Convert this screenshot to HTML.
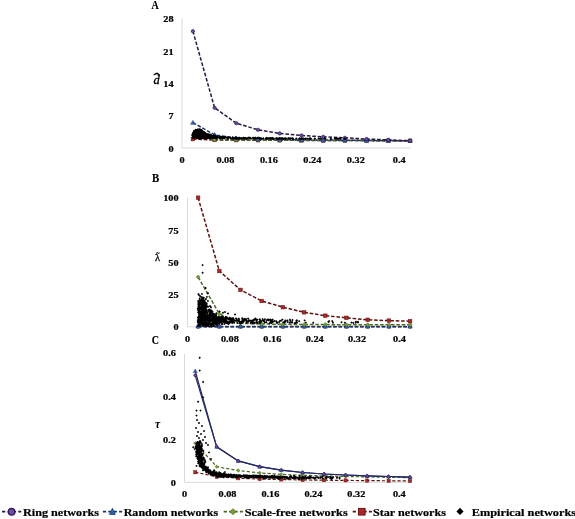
<!DOCTYPE html>
<html><head><meta charset="utf-8"><title>Network measures</title>
<style>html,body{margin:0;padding:0;background:#fff;overflow:hidden}svg{display:block}</style>
</head><body>
<svg width="575" height="519" viewBox="0 0 575 519" font-family="'Liberation Serif', serif"><rect width="575" height="519" fill="#fff"/><line x1="182.0" y1="18.5" x2="182.0" y2="148.0" stroke="#d9d9d9" stroke-width="1"/><line x1="182.0" y1="148.0" x2="410.5" y2="148.0" stroke="#d9d9d9" stroke-width="1"/><g transform="translate(173.6,151.6) scale(1.07,0.9)"><text x="0" y="0" font-size="9.6" font-weight="bold" font-style="normal" text-anchor="end" fill="#000" stroke="#000" stroke-width="0.25">0</text></g><g transform="translate(173.6,119.2) scale(1.07,0.9)"><text x="0" y="0" font-size="9.6" font-weight="bold" font-style="normal" text-anchor="end" fill="#000" stroke="#000" stroke-width="0.25">7</text></g><g transform="translate(173.6,86.8) scale(1.07,0.9)"><text x="0" y="0" font-size="9.6" font-weight="bold" font-style="normal" text-anchor="end" fill="#000" stroke="#000" stroke-width="0.25">14</text></g><g transform="translate(173.6,54.5) scale(1.07,0.9)"><text x="0" y="0" font-size="9.6" font-weight="bold" font-style="normal" text-anchor="end" fill="#000" stroke="#000" stroke-width="0.25">21</text></g><g transform="translate(173.6,22.1) scale(1.07,0.9)"><text x="0" y="0" font-size="9.6" font-weight="bold" font-style="normal" text-anchor="end" fill="#000" stroke="#000" stroke-width="0.25">28</text></g><g transform="translate(182.0,162.8) scale(1.07,0.9)"><text x="0" y="0" font-size="9.6" font-weight="bold" font-style="normal" text-anchor="middle" fill="#000" stroke="#000" stroke-width="0.25">0</text></g><g transform="translate(225.4,162.8) scale(1.07,0.9)"><text x="0" y="0" font-size="9.6" font-weight="bold" font-style="normal" text-anchor="middle" fill="#000" stroke="#000" stroke-width="0.25">0.08</text></g><g transform="translate(268.9,162.8) scale(1.07,0.9)"><text x="0" y="0" font-size="9.6" font-weight="bold" font-style="normal" text-anchor="middle" fill="#000" stroke="#000" stroke-width="0.25">0.16</text></g><g transform="translate(312.3,162.8) scale(1.07,0.9)"><text x="0" y="0" font-size="9.6" font-weight="bold" font-style="normal" text-anchor="middle" fill="#000" stroke="#000" stroke-width="0.25">0.24</text></g><g transform="translate(355.8,162.8) scale(1.07,0.9)"><text x="0" y="0" font-size="9.6" font-weight="bold" font-style="normal" text-anchor="middle" fill="#000" stroke="#000" stroke-width="0.25">0.32</text></g><g transform="translate(399.2,162.8) scale(1.07,0.9)"><text x="0" y="0" font-size="9.6" font-weight="bold" font-style="normal" text-anchor="middle" fill="#000" stroke="#000" stroke-width="0.25">0.4</text></g><text x="151.4" y="9.0" font-size="11.8" font-weight="bold" font-style="normal" text-anchor="start" fill="#000" stroke="#000" stroke-width="0.15" textLength="7.2" lengthAdjust="spacingAndGlyphs">A</text><line x1="187.5" y1="197.7" x2="187.5" y2="326.8" stroke="#d9d9d9" stroke-width="1"/><line x1="187.5" y1="326.8" x2="410.5" y2="326.8" stroke="#d9d9d9" stroke-width="1"/><g transform="translate(178.6,330.4) scale(1.07,0.9)"><text x="0" y="0" font-size="9.6" font-weight="bold" font-style="normal" text-anchor="end" fill="#000" stroke="#000" stroke-width="0.25">0</text></g><g transform="translate(178.6,298.1) scale(1.07,0.9)"><text x="0" y="0" font-size="9.6" font-weight="bold" font-style="normal" text-anchor="end" fill="#000" stroke="#000" stroke-width="0.25">25</text></g><g transform="translate(178.6,265.9) scale(1.07,0.9)"><text x="0" y="0" font-size="9.6" font-weight="bold" font-style="normal" text-anchor="end" fill="#000" stroke="#000" stroke-width="0.25">50</text></g><g transform="translate(178.6,233.6) scale(1.07,0.9)"><text x="0" y="0" font-size="9.6" font-weight="bold" font-style="normal" text-anchor="end" fill="#000" stroke="#000" stroke-width="0.25">75</text></g><g transform="translate(178.6,201.3) scale(1.07,0.9)"><text x="0" y="0" font-size="9.6" font-weight="bold" font-style="normal" text-anchor="end" fill="#000" stroke="#000" stroke-width="0.25">100</text></g><g transform="translate(187.5,341.5) scale(1.07,0.9)"><text x="0" y="0" font-size="9.6" font-weight="bold" font-style="normal" text-anchor="middle" fill="#000" stroke="#000" stroke-width="0.25">0</text></g><g transform="translate(229.9,341.5) scale(1.07,0.9)"><text x="0" y="0" font-size="9.6" font-weight="bold" font-style="normal" text-anchor="middle" fill="#000" stroke="#000" stroke-width="0.25">0.08</text></g><g transform="translate(272.3,341.5) scale(1.07,0.9)"><text x="0" y="0" font-size="9.6" font-weight="bold" font-style="normal" text-anchor="middle" fill="#000" stroke="#000" stroke-width="0.25">0.16</text></g><g transform="translate(314.7,341.5) scale(1.07,0.9)"><text x="0" y="0" font-size="9.6" font-weight="bold" font-style="normal" text-anchor="middle" fill="#000" stroke="#000" stroke-width="0.25">0.24</text></g><g transform="translate(357.1,341.5) scale(1.07,0.9)"><text x="0" y="0" font-size="9.6" font-weight="bold" font-style="normal" text-anchor="middle" fill="#000" stroke="#000" stroke-width="0.25">0.32</text></g><g transform="translate(399.5,341.5) scale(1.07,0.9)"><text x="0" y="0" font-size="9.6" font-weight="bold" font-style="normal" text-anchor="middle" fill="#000" stroke="#000" stroke-width="0.25">0.4</text></g><text x="152.1" y="181.9" font-size="11.8" font-weight="bold" font-style="normal" text-anchor="start" fill="#000" stroke="#000" stroke-width="0.15" textLength="7.2" lengthAdjust="spacingAndGlyphs">B</text><line x1="184.5" y1="353.9" x2="184.5" y2="482.3" stroke="#d9d9d9" stroke-width="1"/><line x1="184.5" y1="482.3" x2="410.5" y2="482.3" stroke="#d9d9d9" stroke-width="1"/><g transform="translate(175.9,485.9) scale(1.07,0.9)"><text x="0" y="0" font-size="9.6" font-weight="bold" font-style="normal" text-anchor="end" fill="#000" stroke="#000" stroke-width="0.25">0</text></g><g transform="translate(175.9,443.1) scale(1.07,0.9)"><text x="0" y="0" font-size="9.6" font-weight="bold" font-style="normal" text-anchor="end" fill="#000" stroke="#000" stroke-width="0.25">0.2</text></g><g transform="translate(175.9,400.3) scale(1.07,0.9)"><text x="0" y="0" font-size="9.6" font-weight="bold" font-style="normal" text-anchor="end" fill="#000" stroke="#000" stroke-width="0.25">0.4</text></g><g transform="translate(175.9,356.3) scale(1.07,0.9)"><text x="0" y="0" font-size="9.6" font-weight="bold" font-style="normal" text-anchor="end" fill="#000" stroke="#000" stroke-width="0.25">0.6</text></g><g transform="translate(184.5,497.3) scale(1.07,0.9)"><text x="0" y="0" font-size="9.6" font-weight="bold" font-style="normal" text-anchor="middle" fill="#000" stroke="#000" stroke-width="0.25">0</text></g><g transform="translate(227.5,497.3) scale(1.07,0.9)"><text x="0" y="0" font-size="9.6" font-weight="bold" font-style="normal" text-anchor="middle" fill="#000" stroke="#000" stroke-width="0.25">0.08</text></g><g transform="translate(270.4,497.3) scale(1.07,0.9)"><text x="0" y="0" font-size="9.6" font-weight="bold" font-style="normal" text-anchor="middle" fill="#000" stroke="#000" stroke-width="0.25">0.16</text></g><g transform="translate(313.4,497.3) scale(1.07,0.9)"><text x="0" y="0" font-size="9.6" font-weight="bold" font-style="normal" text-anchor="middle" fill="#000" stroke="#000" stroke-width="0.25">0.24</text></g><g transform="translate(356.3,497.3) scale(1.07,0.9)"><text x="0" y="0" font-size="9.6" font-weight="bold" font-style="normal" text-anchor="middle" fill="#000" stroke="#000" stroke-width="0.25">0.32</text></g><g transform="translate(399.3,497.3) scale(1.07,0.9)"><text x="0" y="0" font-size="9.6" font-weight="bold" font-style="normal" text-anchor="middle" fill="#000" stroke="#000" stroke-width="0.25">0.4</text></g><text x="151.7" y="344.2" font-size="11.8" font-weight="bold" font-style="normal" text-anchor="start" fill="#000" stroke="#000" stroke-width="0.15" textLength="7.2" lengthAdjust="spacingAndGlyphs">C</text><text x="153.6" y="83.6" font-size="12.5" font-weight="normal" font-style="italic" text-anchor="start" fill="#000" stroke="#000" stroke-width="0.35">d</text><g transform="translate(156.8,81.6) scale(1.6,1)"><text x="0" y="0" font-size="12" font-weight="bold" font-style="normal" text-anchor="middle" fill="#000" stroke="#000" stroke-width="0.25">&#710;</text></g><text x="155.0" y="260.6" font-size="10.5" font-weight="normal" font-style="normal" text-anchor="start" fill="#000" stroke="#000" stroke-width="0.3">&#955;</text><text x="157.9" y="260.4" font-size="10" font-weight="bold" font-style="normal" text-anchor="middle" fill="#000">&#732;</text><text x="155.0" y="428.0" font-size="11.5" font-weight="bold" font-style="italic" text-anchor="start" fill="#000">&#964;</text><polyline points="192.9,139.1 214.6,140.0 236.3,140.1 258.0,140.2 279.7,140.3 301.5,140.4 323.2,140.5 344.9,140.6 366.6,140.6 388.3,140.7 410.1,140.8" fill="none" stroke="#601010" stroke-width="1.5" stroke-dasharray="3.6 1.8"/><rect x="191.1" y="137.3" width="3.6" height="3.6" fill="#a62828" stroke="#6a1212" stroke-width="0.50"/><rect x="212.8" y="138.2" width="3.6" height="3.6" fill="#a62828" stroke="#6a1212" stroke-width="0.50"/><rect x="234.5" y="138.3" width="3.6" height="3.6" fill="#a62828" stroke="#6a1212" stroke-width="0.50"/><rect x="256.2" y="138.4" width="3.6" height="3.6" fill="#a62828" stroke="#6a1212" stroke-width="0.50"/><rect x="277.9" y="138.5" width="3.6" height="3.6" fill="#a62828" stroke="#6a1212" stroke-width="0.50"/><rect x="299.7" y="138.6" width="3.6" height="3.6" fill="#a62828" stroke="#6a1212" stroke-width="0.50"/><rect x="321.4" y="138.7" width="3.6" height="3.6" fill="#a62828" stroke="#6a1212" stroke-width="0.50"/><rect x="343.1" y="138.8" width="3.6" height="3.6" fill="#a62828" stroke="#6a1212" stroke-width="0.50"/><rect x="364.8" y="138.8" width="3.6" height="3.6" fill="#a62828" stroke="#6a1212" stroke-width="0.50"/><rect x="386.5" y="138.9" width="3.6" height="3.6" fill="#a62828" stroke="#6a1212" stroke-width="0.50"/><rect x="408.3" y="139.0" width="3.6" height="3.6" fill="#a62828" stroke="#6a1212" stroke-width="0.50"/><polyline points="192.9,135.1 214.6,139.7 236.3,140.0 258.0,140.1 279.7,140.2 301.5,140.3 323.2,140.4 344.9,140.5 366.6,140.6 388.3,140.7 410.1,140.8" fill="none" stroke="#4b6820" stroke-width="1.5" stroke-dasharray="3.6 1.8"/><path d="M192.9 133.1L194.9 135.1L192.9 137.1L190.9 135.1Z" fill="#74a035" stroke="#4b6820" stroke-width="0.50"/><path d="M214.6 137.7L216.6 139.7L214.6 141.7L212.6 139.7Z" fill="#74a035" stroke="#4b6820" stroke-width="0.50"/><path d="M236.3 138.0L238.3 140.0L236.3 142.0L234.3 140.0Z" fill="#74a035" stroke="#4b6820" stroke-width="0.50"/><path d="M258.0 138.1L260.0 140.1L258.0 142.1L256.0 140.1Z" fill="#74a035" stroke="#4b6820" stroke-width="0.50"/><path d="M279.7 138.2L281.7 140.2L279.7 142.2L277.7 140.2Z" fill="#74a035" stroke="#4b6820" stroke-width="0.50"/><path d="M301.5 138.3L303.5 140.3L301.5 142.3L299.5 140.3Z" fill="#74a035" stroke="#4b6820" stroke-width="0.50"/><path d="M323.2 138.4L325.2 140.4L323.2 142.4L321.2 140.4Z" fill="#74a035" stroke="#4b6820" stroke-width="0.50"/><path d="M344.9 138.5L346.9 140.5L344.9 142.5L342.9 140.5Z" fill="#74a035" stroke="#4b6820" stroke-width="0.50"/><path d="M366.6 138.6L368.6 140.6L366.6 142.6L364.6 140.6Z" fill="#74a035" stroke="#4b6820" stroke-width="0.50"/><path d="M388.3 138.7L390.3 140.7L388.3 142.7L386.3 140.7Z" fill="#74a035" stroke="#4b6820" stroke-width="0.50"/><path d="M410.1 138.8L412.1 140.8L410.1 142.8L408.1 140.8Z" fill="#74a035" stroke="#4b6820" stroke-width="0.50"/><polyline points="192.9,122.6 214.6,134.8 236.3,138.1 258.0,139.0 279.7,139.4 301.5,139.8 323.2,140.0 344.9,140.2 366.6,140.5 388.3,140.6 410.1,140.7" fill="none" stroke="#1c3567" stroke-width="1.5" stroke-dasharray="3.6 1.8"/><path d="M192.9 120.4L195.2 124.3L190.6 124.3Z" fill="#2f62b0" stroke="#1c3567" stroke-width="0.50"/><path d="M214.6 132.6L216.9 136.5L212.3 136.5Z" fill="#2f62b0" stroke="#1c3567" stroke-width="0.50"/><path d="M236.3 135.9L238.6 139.8L234.0 139.8Z" fill="#2f62b0" stroke="#1c3567" stroke-width="0.50"/><path d="M258.0 136.8L260.3 140.7L255.7 140.7Z" fill="#2f62b0" stroke="#1c3567" stroke-width="0.50"/><path d="M279.7 137.2L282.1 141.2L277.4 141.2Z" fill="#2f62b0" stroke="#1c3567" stroke-width="0.50"/><path d="M301.5 137.6L303.8 141.5L299.1 141.5Z" fill="#2f62b0" stroke="#1c3567" stroke-width="0.50"/><path d="M323.2 137.8L325.5 141.8L320.9 141.8Z" fill="#2f62b0" stroke="#1c3567" stroke-width="0.50"/><path d="M344.9 138.0L347.2 141.9L342.6 141.9Z" fill="#2f62b0" stroke="#1c3567" stroke-width="0.50"/><path d="M366.6 138.3L368.9 142.2L364.3 142.2Z" fill="#2f62b0" stroke="#1c3567" stroke-width="0.50"/><path d="M388.3 138.4L390.7 142.3L386.0 142.3Z" fill="#2f62b0" stroke="#1c3567" stroke-width="0.50"/><path d="M410.1 138.5L412.4 142.5L407.8 142.5Z" fill="#2f62b0" stroke="#1c3567" stroke-width="0.50"/><polyline points="192.9,31.2 214.6,107.8 236.3,123.2 258.0,129.8 279.7,133.4 301.5,135.5 323.2,136.8 344.9,137.8 366.6,139.0 388.3,139.9 410.1,140.7" fill="none" stroke="#26173f" stroke-width="1.5" stroke-dasharray="3.6 1.8"/><circle cx="192.9" cy="31.2" r="1.65" fill="#6a4ca8" stroke="#2a1850" stroke-width="0.70"/><circle cx="214.6" cy="107.8" r="1.65" fill="#6a4ca8" stroke="#2a1850" stroke-width="0.70"/><circle cx="236.3" cy="123.2" r="1.65" fill="#6a4ca8" stroke="#2a1850" stroke-width="0.70"/><circle cx="258.0" cy="129.8" r="1.65" fill="#6a4ca8" stroke="#2a1850" stroke-width="0.70"/><circle cx="279.7" cy="133.4" r="1.65" fill="#6a4ca8" stroke="#2a1850" stroke-width="0.70"/><circle cx="301.5" cy="135.5" r="1.65" fill="#6a4ca8" stroke="#2a1850" stroke-width="0.70"/><circle cx="323.2" cy="136.8" r="1.65" fill="#6a4ca8" stroke="#2a1850" stroke-width="0.70"/><circle cx="344.9" cy="137.8" r="1.65" fill="#6a4ca8" stroke="#2a1850" stroke-width="0.70"/><circle cx="366.6" cy="139.0" r="1.65" fill="#6a4ca8" stroke="#2a1850" stroke-width="0.70"/><circle cx="388.3" cy="139.9" r="1.65" fill="#6a4ca8" stroke="#2a1850" stroke-width="0.70"/><circle cx="410.1" cy="140.7" r="1.65" fill="#6a4ca8" stroke="#2a1850" stroke-width="0.70"/><path d="M219.5 135.8l1.3 1.3l-1.3 1.3l-1.3 -1.3zM198.4 128.7l1.3 1.3l-1.3 1.3l-1.3 -1.3zM202.0 129.5l1.3 1.3l-1.3 1.3l-1.3 -1.3zM212.5 135.0l1.3 1.3l-1.3 1.3l-1.3 -1.3zM199.1 129.9l1.3 1.3l-1.3 1.3l-1.3 -1.3zM197.9 132.0l1.3 1.3l-1.3 1.3l-1.3 -1.3zM193.7 133.5l1.3 1.3l-1.3 1.3l-1.3 -1.3zM310.2 137.4l1.3 1.3l-1.3 1.3l-1.3 -1.3zM193.7 133.6l1.3 1.3l-1.3 1.3l-1.3 -1.3zM209.1 133.6l1.3 1.3l-1.3 1.3l-1.3 -1.3zM197.4 135.1l1.3 1.3l-1.3 1.3l-1.3 -1.3zM195.4 135.1l1.3 1.3l-1.3 1.3l-1.3 -1.3zM249.6 136.5l1.3 1.3l-1.3 1.3l-1.3 -1.3zM193.3 135.6l1.3 1.3l-1.3 1.3l-1.3 -1.3zM210.4 136.9l1.3 1.3l-1.3 1.3l-1.3 -1.3zM204.9 133.6l1.3 1.3l-1.3 1.3l-1.3 -1.3zM238.2 137.2l1.3 1.3l-1.3 1.3l-1.3 -1.3zM195.4 129.9l1.3 1.3l-1.3 1.3l-1.3 -1.3zM198.8 135.2l1.3 1.3l-1.3 1.3l-1.3 -1.3zM243.7 136.5l1.3 1.3l-1.3 1.3l-1.3 -1.3zM345.0 137.5l1.3 1.3l-1.3 1.3l-1.3 -1.3zM196.3 134.3l1.3 1.3l-1.3 1.3l-1.3 -1.3zM215.3 136.5l1.3 1.3l-1.3 1.3l-1.3 -1.3zM248.5 136.5l1.3 1.3l-1.3 1.3l-1.3 -1.3zM194.2 134.4l1.3 1.3l-1.3 1.3l-1.3 -1.3zM197.4 133.3l1.3 1.3l-1.3 1.3l-1.3 -1.3zM279.9 137.0l1.3 1.3l-1.3 1.3l-1.3 -1.3zM203.8 131.9l1.3 1.3l-1.3 1.3l-1.3 -1.3zM200.8 135.8l1.3 1.3l-1.3 1.3l-1.3 -1.3zM201.4 130.7l1.3 1.3l-1.3 1.3l-1.3 -1.3zM270.5 137.3l1.3 1.3l-1.3 1.3l-1.3 -1.3zM197.9 133.7l1.3 1.3l-1.3 1.3l-1.3 -1.3zM340.0 137.3l1.3 1.3l-1.3 1.3l-1.3 -1.3zM300.6 137.4l1.3 1.3l-1.3 1.3l-1.3 -1.3zM195.3 135.8l1.3 1.3l-1.3 1.3l-1.3 -1.3zM197.5 131.2l1.3 1.3l-1.3 1.3l-1.3 -1.3zM203.6 134.9l1.3 1.3l-1.3 1.3l-1.3 -1.3zM239.4 137.2l1.3 1.3l-1.3 1.3l-1.3 -1.3zM203.9 130.7l1.3 1.3l-1.3 1.3l-1.3 -1.3zM202.5 130.9l1.3 1.3l-1.3 1.3l-1.3 -1.3zM198.3 136.5l1.3 1.3l-1.3 1.3l-1.3 -1.3zM194.5 131.1l1.3 1.3l-1.3 1.3l-1.3 -1.3zM345.0 137.5l1.3 1.3l-1.3 1.3l-1.3 -1.3zM255.5 137.0l1.3 1.3l-1.3 1.3l-1.3 -1.3zM305.7 137.2l1.3 1.3l-1.3 1.3l-1.3 -1.3zM278.4 137.2l1.3 1.3l-1.3 1.3l-1.3 -1.3zM195.4 133.3l1.3 1.3l-1.3 1.3l-1.3 -1.3zM202.5 135.1l1.3 1.3l-1.3 1.3l-1.3 -1.3zM198.0 136.6l1.3 1.3l-1.3 1.3l-1.3 -1.3zM208.1 133.8l1.3 1.3l-1.3 1.3l-1.3 -1.3zM200.9 134.5l1.3 1.3l-1.3 1.3l-1.3 -1.3zM196.5 133.5l1.3 1.3l-1.3 1.3l-1.3 -1.3zM320.6 137.2l1.3 1.3l-1.3 1.3l-1.3 -1.3zM205.4 134.6l1.3 1.3l-1.3 1.3l-1.3 -1.3zM196.3 129.9l1.3 1.3l-1.3 1.3l-1.3 -1.3zM195.3 129.6l1.3 1.3l-1.3 1.3l-1.3 -1.3zM208.9 135.6l1.3 1.3l-1.3 1.3l-1.3 -1.3zM217.0 136.0l1.3 1.3l-1.3 1.3l-1.3 -1.3zM193.8 132.5l1.3 1.3l-1.3 1.3l-1.3 -1.3zM200.5 135.8l1.3 1.3l-1.3 1.3l-1.3 -1.3zM201.0 136.4l1.3 1.3l-1.3 1.3l-1.3 -1.3zM204.5 131.0l1.3 1.3l-1.3 1.3l-1.3 -1.3zM214.0 136.5l1.3 1.3l-1.3 1.3l-1.3 -1.3zM196.7 134.6l1.3 1.3l-1.3 1.3l-1.3 -1.3zM200.1 133.4l1.3 1.3l-1.3 1.3l-1.3 -1.3zM193.7 135.6l1.3 1.3l-1.3 1.3l-1.3 -1.3zM246.2 137.3l1.3 1.3l-1.3 1.3l-1.3 -1.3zM210.5 135.7l1.3 1.3l-1.3 1.3l-1.3 -1.3zM196.8 136.4l1.3 1.3l-1.3 1.3l-1.3 -1.3zM193.7 130.6l1.3 1.3l-1.3 1.3l-1.3 -1.3zM206.3 136.3l1.3 1.3l-1.3 1.3l-1.3 -1.3zM205.8 132.9l1.3 1.3l-1.3 1.3l-1.3 -1.3zM204.1 131.3l1.3 1.3l-1.3 1.3l-1.3 -1.3zM193.0 132.9l1.3 1.3l-1.3 1.3l-1.3 -1.3zM201.6 134.6l1.3 1.3l-1.3 1.3l-1.3 -1.3zM194.2 133.1l1.3 1.3l-1.3 1.3l-1.3 -1.3zM208.6 135.1l1.3 1.3l-1.3 1.3l-1.3 -1.3zM345.0 137.4l1.3 1.3l-1.3 1.3l-1.3 -1.3zM207.0 134.3l1.3 1.3l-1.3 1.3l-1.3 -1.3zM196.2 136.5l1.3 1.3l-1.3 1.3l-1.3 -1.3zM285.7 137.2l1.3 1.3l-1.3 1.3l-1.3 -1.3zM202.5 131.0l1.3 1.3l-1.3 1.3l-1.3 -1.3zM201.0 133.6l1.3 1.3l-1.3 1.3l-1.3 -1.3zM301.7 137.4l1.3 1.3l-1.3 1.3l-1.3 -1.3zM213.0 134.8l1.3 1.3l-1.3 1.3l-1.3 -1.3zM193.6 135.6l1.3 1.3l-1.3 1.3l-1.3 -1.3zM325.3 137.3l1.3 1.3l-1.3 1.3l-1.3 -1.3zM194.1 136.5l1.3 1.3l-1.3 1.3l-1.3 -1.3zM345.0 137.5l1.3 1.3l-1.3 1.3l-1.3 -1.3zM222.8 136.5l1.3 1.3l-1.3 1.3l-1.3 -1.3zM258.1 136.7l1.3 1.3l-1.3 1.3l-1.3 -1.3zM206.3 134.2l1.3 1.3l-1.3 1.3l-1.3 -1.3zM233.5 136.9l1.3 1.3l-1.3 1.3l-1.3 -1.3zM194.7 132.5l1.3 1.3l-1.3 1.3l-1.3 -1.3zM195.2 129.6l1.3 1.3l-1.3 1.3l-1.3 -1.3zM205.8 132.3l1.3 1.3l-1.3 1.3l-1.3 -1.3zM193.6 135.3l1.3 1.3l-1.3 1.3l-1.3 -1.3zM197.2 132.3l1.3 1.3l-1.3 1.3l-1.3 -1.3zM195.4 136.3l1.3 1.3l-1.3 1.3l-1.3 -1.3zM318.7 137.2l1.3 1.3l-1.3 1.3l-1.3 -1.3zM197.8 134.4l1.3 1.3l-1.3 1.3l-1.3 -1.3zM212.8 137.0l1.3 1.3l-1.3 1.3l-1.3 -1.3zM210.8 135.0l1.3 1.3l-1.3 1.3l-1.3 -1.3zM244.8 137.2l1.3 1.3l-1.3 1.3l-1.3 -1.3zM192.9 135.3l1.3 1.3l-1.3 1.3l-1.3 -1.3zM196.7 130.9l1.3 1.3l-1.3 1.3l-1.3 -1.3zM200.9 130.9l1.3 1.3l-1.3 1.3l-1.3 -1.3zM196.3 135.2l1.3 1.3l-1.3 1.3l-1.3 -1.3zM206.3 133.2l1.3 1.3l-1.3 1.3l-1.3 -1.3zM199.6 130.8l1.3 1.3l-1.3 1.3l-1.3 -1.3zM196.1 133.9l1.3 1.3l-1.3 1.3l-1.3 -1.3zM201.7 129.4l1.3 1.3l-1.3 1.3l-1.3 -1.3zM201.2 129.2l1.3 1.3l-1.3 1.3l-1.3 -1.3zM232.7 137.1l1.3 1.3l-1.3 1.3l-1.3 -1.3zM197.8 129.1l1.3 1.3l-1.3 1.3l-1.3 -1.3zM245.3 136.7l1.3 1.3l-1.3 1.3l-1.3 -1.3zM276.2 137.1l1.3 1.3l-1.3 1.3l-1.3 -1.3zM203.0 134.7l1.3 1.3l-1.3 1.3l-1.3 -1.3zM205.9 135.4l1.3 1.3l-1.3 1.3l-1.3 -1.3zM193.8 133.5l1.3 1.3l-1.3 1.3l-1.3 -1.3zM199.6 128.5l1.3 1.3l-1.3 1.3l-1.3 -1.3zM281.0 137.1l1.3 1.3l-1.3 1.3l-1.3 -1.3zM195.8 130.4l1.3 1.3l-1.3 1.3l-1.3 -1.3zM209.4 135.3l1.3 1.3l-1.3 1.3l-1.3 -1.3zM193.7 132.3l1.3 1.3l-1.3 1.3l-1.3 -1.3zM196.8 129.7l1.3 1.3l-1.3 1.3l-1.3 -1.3zM196.7 135.4l1.3 1.3l-1.3 1.3l-1.3 -1.3zM207.4 135.4l1.3 1.3l-1.3 1.3l-1.3 -1.3zM206.3 137.0l1.3 1.3l-1.3 1.3l-1.3 -1.3zM193.1 134.0l1.3 1.3l-1.3 1.3l-1.3 -1.3zM203.9 133.5l1.3 1.3l-1.3 1.3l-1.3 -1.3zM200.4 135.1l1.3 1.3l-1.3 1.3l-1.3 -1.3zM221.4 136.0l1.3 1.3l-1.3 1.3l-1.3 -1.3zM223.1 135.7l1.3 1.3l-1.3 1.3l-1.3 -1.3zM193.2 136.2l1.3 1.3l-1.3 1.3l-1.3 -1.3zM199.5 128.4l1.3 1.3l-1.3 1.3l-1.3 -1.3zM345.0 137.5l1.3 1.3l-1.3 1.3l-1.3 -1.3zM194.9 134.8l1.3 1.3l-1.3 1.3l-1.3 -1.3zM195.6 128.7l1.3 1.3l-1.3 1.3l-1.3 -1.3zM208.3 133.4l1.3 1.3l-1.3 1.3l-1.3 -1.3zM282.8 137.2l1.3 1.3l-1.3 1.3l-1.3 -1.3zM238.9 136.7l1.3 1.3l-1.3 1.3l-1.3 -1.3zM195.3 131.6l1.3 1.3l-1.3 1.3l-1.3 -1.3zM204.1 133.8l1.3 1.3l-1.3 1.3l-1.3 -1.3zM197.4 133.0l1.3 1.3l-1.3 1.3l-1.3 -1.3zM204.5 131.9l1.3 1.3l-1.3 1.3l-1.3 -1.3zM195.5 136.0l1.3 1.3l-1.3 1.3l-1.3 -1.3zM202.4 129.7l1.3 1.3l-1.3 1.3l-1.3 -1.3zM204.9 134.4l1.3 1.3l-1.3 1.3l-1.3 -1.3zM195.0 134.5l1.3 1.3l-1.3 1.3l-1.3 -1.3zM202.1 134.3l1.3 1.3l-1.3 1.3l-1.3 -1.3zM202.2 129.8l1.3 1.3l-1.3 1.3l-1.3 -1.3zM227.7 137.1l1.3 1.3l-1.3 1.3l-1.3 -1.3zM194.0 131.6l1.3 1.3l-1.3 1.3l-1.3 -1.3zM207.1 132.9l1.3 1.3l-1.3 1.3l-1.3 -1.3zM197.1 129.4l1.3 1.3l-1.3 1.3l-1.3 -1.3zM203.7 133.7l1.3 1.3l-1.3 1.3l-1.3 -1.3zM194.6 134.7l1.3 1.3l-1.3 1.3l-1.3 -1.3zM199.9 131.8l1.3 1.3l-1.3 1.3l-1.3 -1.3zM207.9 133.9l1.3 1.3l-1.3 1.3l-1.3 -1.3zM301.4 137.3l1.3 1.3l-1.3 1.3l-1.3 -1.3zM290.7 137.2l1.3 1.3l-1.3 1.3l-1.3 -1.3zM204.7 135.2l1.3 1.3l-1.3 1.3l-1.3 -1.3zM279.2 137.3l1.3 1.3l-1.3 1.3l-1.3 -1.3zM212.3 136.5l1.3 1.3l-1.3 1.3l-1.3 -1.3zM200.7 136.4l1.3 1.3l-1.3 1.3l-1.3 -1.3zM221.2 136.2l1.3 1.3l-1.3 1.3l-1.3 -1.3zM222.5 137.0l1.3 1.3l-1.3 1.3l-1.3 -1.3zM224.9 136.4l1.3 1.3l-1.3 1.3l-1.3 -1.3zM194.2 136.4l1.3 1.3l-1.3 1.3l-1.3 -1.3zM205.3 135.0l1.3 1.3l-1.3 1.3l-1.3 -1.3zM214.6 135.1l1.3 1.3l-1.3 1.3l-1.3 -1.3zM200.3 136.0l1.3 1.3l-1.3 1.3l-1.3 -1.3zM204.7 133.7l1.3 1.3l-1.3 1.3l-1.3 -1.3zM207.6 133.8l1.3 1.3l-1.3 1.3l-1.3 -1.3zM198.0 134.2l1.3 1.3l-1.3 1.3l-1.3 -1.3zM197.3 136.7l1.3 1.3l-1.3 1.3l-1.3 -1.3zM193.8 134.7l1.3 1.3l-1.3 1.3l-1.3 -1.3zM202.0 130.3l1.3 1.3l-1.3 1.3l-1.3 -1.3zM201.9 131.4l1.3 1.3l-1.3 1.3l-1.3 -1.3zM220.9 136.9l1.3 1.3l-1.3 1.3l-1.3 -1.3zM200.8 134.0l1.3 1.3l-1.3 1.3l-1.3 -1.3zM194.3 135.8l1.3 1.3l-1.3 1.3l-1.3 -1.3zM272.2 136.8l1.3 1.3l-1.3 1.3l-1.3 -1.3zM232.6 136.1l1.3 1.3l-1.3 1.3l-1.3 -1.3zM195.5 131.1l1.3 1.3l-1.3 1.3l-1.3 -1.3zM345.0 137.5l1.3 1.3l-1.3 1.3l-1.3 -1.3zM195.5 129.7l1.3 1.3l-1.3 1.3l-1.3 -1.3zM193.8 136.3l1.3 1.3l-1.3 1.3l-1.3 -1.3zM199.5 129.4l1.3 1.3l-1.3 1.3l-1.3 -1.3zM261.3 137.3l1.3 1.3l-1.3 1.3l-1.3 -1.3zM209.0 135.3l1.3 1.3l-1.3 1.3l-1.3 -1.3zM209.4 133.8l1.3 1.3l-1.3 1.3l-1.3 -1.3zM213.7 134.6l1.3 1.3l-1.3 1.3l-1.3 -1.3zM195.8 131.7l1.3 1.3l-1.3 1.3l-1.3 -1.3zM199.8 130.2l1.3 1.3l-1.3 1.3l-1.3 -1.3zM205.3 132.2l1.3 1.3l-1.3 1.3l-1.3 -1.3zM199.3 132.1l1.3 1.3l-1.3 1.3l-1.3 -1.3zM203.1 136.5l1.3 1.3l-1.3 1.3l-1.3 -1.3zM195.1 134.3l1.3 1.3l-1.3 1.3l-1.3 -1.3zM195.5 130.2l1.3 1.3l-1.3 1.3l-1.3 -1.3zM195.7 130.6l1.3 1.3l-1.3 1.3l-1.3 -1.3zM211.6 135.8l1.3 1.3l-1.3 1.3l-1.3 -1.3zM245.7 137.3l1.3 1.3l-1.3 1.3l-1.3 -1.3zM205.1 133.4l1.3 1.3l-1.3 1.3l-1.3 -1.3zM210.4 136.7l1.3 1.3l-1.3 1.3l-1.3 -1.3zM197.9 133.2l1.3 1.3l-1.3 1.3l-1.3 -1.3zM203.3 136.3l1.3 1.3l-1.3 1.3l-1.3 -1.3zM220.6 136.6l1.3 1.3l-1.3 1.3l-1.3 -1.3zM193.8 133.5l1.3 1.3l-1.3 1.3l-1.3 -1.3zM223.2 136.1l1.3 1.3l-1.3 1.3l-1.3 -1.3zM201.3 132.2l1.3 1.3l-1.3 1.3l-1.3 -1.3zM206.1 135.6l1.3 1.3l-1.3 1.3l-1.3 -1.3zM197.6 131.6l1.3 1.3l-1.3 1.3l-1.3 -1.3zM195.5 132.0l1.3 1.3l-1.3 1.3l-1.3 -1.3zM199.2 133.9l1.3 1.3l-1.3 1.3l-1.3 -1.3zM208.3 135.2l1.3 1.3l-1.3 1.3l-1.3 -1.3zM213.4 135.0l1.3 1.3l-1.3 1.3l-1.3 -1.3zM210.0 136.8l1.3 1.3l-1.3 1.3l-1.3 -1.3zM193.2 134.0l1.3 1.3l-1.3 1.3l-1.3 -1.3zM200.8 135.0l1.3 1.3l-1.3 1.3l-1.3 -1.3zM195.3 133.9l1.3 1.3l-1.3 1.3l-1.3 -1.3zM227.1 136.3l1.3 1.3l-1.3 1.3l-1.3 -1.3zM207.7 136.7l1.3 1.3l-1.3 1.3l-1.3 -1.3zM224.9 136.2l1.3 1.3l-1.3 1.3l-1.3 -1.3zM193.9 132.6l1.3 1.3l-1.3 1.3l-1.3 -1.3zM292.7 137.1l1.3 1.3l-1.3 1.3l-1.3 -1.3zM200.6 128.9l1.3 1.3l-1.3 1.3l-1.3 -1.3zM265.9 137.1l1.3 1.3l-1.3 1.3l-1.3 -1.3zM200.5 132.1l1.3 1.3l-1.3 1.3l-1.3 -1.3zM270.9 136.9l1.3 1.3l-1.3 1.3l-1.3 -1.3zM276.8 137.1l1.3 1.3l-1.3 1.3l-1.3 -1.3zM202.0 133.8l1.3 1.3l-1.3 1.3l-1.3 -1.3zM201.9 136.9l1.3 1.3l-1.3 1.3l-1.3 -1.3zM196.0 131.5l1.3 1.3l-1.3 1.3l-1.3 -1.3zM203.3 133.4l1.3 1.3l-1.3 1.3l-1.3 -1.3zM255.4 136.6l1.3 1.3l-1.3 1.3l-1.3 -1.3zM199.2 128.7l1.3 1.3l-1.3 1.3l-1.3 -1.3zM200.9 130.6l1.3 1.3l-1.3 1.3l-1.3 -1.3zM207.5 133.9l1.3 1.3l-1.3 1.3l-1.3 -1.3zM193.3 131.4l1.3 1.3l-1.3 1.3l-1.3 -1.3zM214.8 134.2l1.3 1.3l-1.3 1.3l-1.3 -1.3zM208.9 133.1l1.3 1.3l-1.3 1.3l-1.3 -1.3zM200.4 136.9l1.3 1.3l-1.3 1.3l-1.3 -1.3zM344.8 137.3l1.3 1.3l-1.3 1.3l-1.3 -1.3zM198.5 134.2l1.3 1.3l-1.3 1.3l-1.3 -1.3zM199.4 136.6l1.3 1.3l-1.3 1.3l-1.3 -1.3zM276.6 137.4l1.3 1.3l-1.3 1.3l-1.3 -1.3zM206.3 136.4l1.3 1.3l-1.3 1.3l-1.3 -1.3zM198.0 131.7l1.3 1.3l-1.3 1.3l-1.3 -1.3zM198.7 130.9l1.3 1.3l-1.3 1.3l-1.3 -1.3zM210.7 134.0l1.3 1.3l-1.3 1.3l-1.3 -1.3zM197.6 133.7l1.3 1.3l-1.3 1.3l-1.3 -1.3zM229.8 136.2l1.3 1.3l-1.3 1.3l-1.3 -1.3zM198.2 135.8l1.3 1.3l-1.3 1.3l-1.3 -1.3zM286.1 137.2l1.3 1.3l-1.3 1.3l-1.3 -1.3zM198.4 129.1l1.3 1.3l-1.3 1.3l-1.3 -1.3zM201.3 134.1l1.3 1.3l-1.3 1.3l-1.3 -1.3zM205.5 134.8l1.3 1.3l-1.3 1.3l-1.3 -1.3zM199.3 132.6l1.3 1.3l-1.3 1.3l-1.3 -1.3zM199.4 134.2l1.3 1.3l-1.3 1.3l-1.3 -1.3zM195.2 129.2l1.3 1.3l-1.3 1.3l-1.3 -1.3zM205.2 131.8l1.3 1.3l-1.3 1.3l-1.3 -1.3zM235.8 136.2l1.3 1.3l-1.3 1.3l-1.3 -1.3zM205.4 134.1l1.3 1.3l-1.3 1.3l-1.3 -1.3zM210.9 134.7l1.3 1.3l-1.3 1.3l-1.3 -1.3zM204.0 131.9l1.3 1.3l-1.3 1.3l-1.3 -1.3zM195.6 134.4l1.3 1.3l-1.3 1.3l-1.3 -1.3zM210.6 135.9l1.3 1.3l-1.3 1.3l-1.3 -1.3zM205.7 133.0l1.3 1.3l-1.3 1.3l-1.3 -1.3zM280.9 137.3l1.3 1.3l-1.3 1.3l-1.3 -1.3zM195.6 131.4l1.3 1.3l-1.3 1.3l-1.3 -1.3zM193.7 134.3l1.3 1.3l-1.3 1.3l-1.3 -1.3zM193.1 136.5l1.3 1.3l-1.3 1.3l-1.3 -1.3zM207.5 135.2l1.3 1.3l-1.3 1.3l-1.3 -1.3zM200.2 131.9l1.3 1.3l-1.3 1.3l-1.3 -1.3zM193.9 133.5l1.3 1.3l-1.3 1.3l-1.3 -1.3zM201.7 132.1l1.3 1.3l-1.3 1.3l-1.3 -1.3zM196.1 133.3l1.3 1.3l-1.3 1.3l-1.3 -1.3zM198.0 131.8l1.3 1.3l-1.3 1.3l-1.3 -1.3zM203.1 132.5l1.3 1.3l-1.3 1.3l-1.3 -1.3zM197.6 128.4l1.3 1.3l-1.3 1.3l-1.3 -1.3zM199.5 128.8l1.3 1.3l-1.3 1.3l-1.3 -1.3zM207.4 135.3l1.3 1.3l-1.3 1.3l-1.3 -1.3zM203.2 131.0l1.3 1.3l-1.3 1.3l-1.3 -1.3zM201.6 135.2l1.3 1.3l-1.3 1.3l-1.3 -1.3zM210.0 134.2l1.3 1.3l-1.3 1.3l-1.3 -1.3zM199.8 134.6l1.3 1.3l-1.3 1.3l-1.3 -1.3zM235.9 137.0l1.3 1.3l-1.3 1.3l-1.3 -1.3zM212.1 136.2l1.3 1.3l-1.3 1.3l-1.3 -1.3zM196.4 133.8l1.3 1.3l-1.3 1.3l-1.3 -1.3zM212.1 134.7l1.3 1.3l-1.3 1.3l-1.3 -1.3zM340.3 137.3l1.3 1.3l-1.3 1.3l-1.3 -1.3zM193.8 132.4l1.3 1.3l-1.3 1.3l-1.3 -1.3zM198.8 128.6l1.3 1.3l-1.3 1.3l-1.3 -1.3zM206.5 136.8l1.3 1.3l-1.3 1.3l-1.3 -1.3zM198.3 136.3l1.3 1.3l-1.3 1.3l-1.3 -1.3zM284.0 137.4l1.3 1.3l-1.3 1.3l-1.3 -1.3zM199.3 136.9l1.3 1.3l-1.3 1.3l-1.3 -1.3zM219.0 135.7l1.3 1.3l-1.3 1.3l-1.3 -1.3zM197.2 136.5l1.3 1.3l-1.3 1.3l-1.3 -1.3zM204.3 134.4l1.3 1.3l-1.3 1.3l-1.3 -1.3zM222.0 136.6l1.3 1.3l-1.3 1.3l-1.3 -1.3zM250.5 136.7l1.3 1.3l-1.3 1.3l-1.3 -1.3zM195.7 132.8l1.3 1.3l-1.3 1.3l-1.3 -1.3zM200.3 136.9l1.3 1.3l-1.3 1.3l-1.3 -1.3zM235.4 137.0l1.3 1.3l-1.3 1.3l-1.3 -1.3zM197.7 132.6l1.3 1.3l-1.3 1.3l-1.3 -1.3zM205.8 136.1l1.3 1.3l-1.3 1.3l-1.3 -1.3zM232.3 137.1l1.3 1.3l-1.3 1.3l-1.3 -1.3zM206.0 136.7l1.3 1.3l-1.3 1.3l-1.3 -1.3zM337.0 137.3l1.3 1.3l-1.3 1.3l-1.3 -1.3zM198.0 129.1l1.3 1.3l-1.3 1.3l-1.3 -1.3zM270.1 136.9l1.3 1.3l-1.3 1.3l-1.3 -1.3zM204.9 134.3l1.3 1.3l-1.3 1.3l-1.3 -1.3zM257.3 136.7l1.3 1.3l-1.3 1.3l-1.3 -1.3zM194.7 135.6l1.3 1.3l-1.3 1.3l-1.3 -1.3zM345.0 137.3l1.3 1.3l-1.3 1.3l-1.3 -1.3zM201.1 130.4l1.3 1.3l-1.3 1.3l-1.3 -1.3zM210.8 133.6l1.3 1.3l-1.3 1.3l-1.3 -1.3zM205.0 136.8l1.3 1.3l-1.3 1.3l-1.3 -1.3zM201.6 135.9l1.3 1.3l-1.3 1.3l-1.3 -1.3zM200.3 134.4l1.3 1.3l-1.3 1.3l-1.3 -1.3zM197.5 133.1l1.3 1.3l-1.3 1.3l-1.3 -1.3zM195.7 134.6l1.3 1.3l-1.3 1.3l-1.3 -1.3zM212.1 135.0l1.3 1.3l-1.3 1.3l-1.3 -1.3zM284.9 137.1l1.3 1.3l-1.3 1.3l-1.3 -1.3zM244.7 137.1l1.3 1.3l-1.3 1.3l-1.3 -1.3zM221.7 136.5l1.3 1.3l-1.3 1.3l-1.3 -1.3zM197.0 133.4l1.3 1.3l-1.3 1.3l-1.3 -1.3zM210.1 133.9l1.3 1.3l-1.3 1.3l-1.3 -1.3zM220.6 136.6l1.3 1.3l-1.3 1.3l-1.3 -1.3zM210.7 133.6l1.3 1.3l-1.3 1.3l-1.3 -1.3zM285.4 137.3l1.3 1.3l-1.3 1.3l-1.3 -1.3zM207.9 136.4l1.3 1.3l-1.3 1.3l-1.3 -1.3zM192.7 133.6l1.3 1.3l-1.3 1.3l-1.3 -1.3zM302.2 137.3l1.3 1.3l-1.3 1.3l-1.3 -1.3zM197.5 134.9l1.3 1.3l-1.3 1.3l-1.3 -1.3zM193.8 133.5l1.3 1.3l-1.3 1.3l-1.3 -1.3zM194.7 130.9l1.3 1.3l-1.3 1.3l-1.3 -1.3zM225.2 135.7l1.3 1.3l-1.3 1.3l-1.3 -1.3zM197.6 130.7l1.3 1.3l-1.3 1.3l-1.3 -1.3zM310.8 137.2l1.3 1.3l-1.3 1.3l-1.3 -1.3zM202.0 129.7l1.3 1.3l-1.3 1.3l-1.3 -1.3zM196.7 130.4l1.3 1.3l-1.3 1.3l-1.3 -1.3zM193.8 133.0l1.3 1.3l-1.3 1.3l-1.3 -1.3zM194.1 130.1l1.3 1.3l-1.3 1.3l-1.3 -1.3zM198.0 131.0l1.3 1.3l-1.3 1.3l-1.3 -1.3zM215.3 135.7l1.3 1.3l-1.3 1.3l-1.3 -1.3zM205.3 135.2l1.3 1.3l-1.3 1.3l-1.3 -1.3zM330.9 137.5l1.3 1.3l-1.3 1.3l-1.3 -1.3zM196.3 134.6l1.3 1.3l-1.3 1.3l-1.3 -1.3zM195.2 129.1l1.3 1.3l-1.3 1.3l-1.3 -1.3zM198.2 135.4l1.3 1.3l-1.3 1.3l-1.3 -1.3zM217.7 136.2l1.3 1.3l-1.3 1.3l-1.3 -1.3zM210.8 135.6l1.3 1.3l-1.3 1.3l-1.3 -1.3zM203.7 136.7l1.3 1.3l-1.3 1.3l-1.3 -1.3zM198.1 132.0l1.3 1.3l-1.3 1.3l-1.3 -1.3zM195.3 135.6l1.3 1.3l-1.3 1.3l-1.3 -1.3zM230.7 137.0l1.3 1.3l-1.3 1.3l-1.3 -1.3zM195.3 130.3l1.3 1.3l-1.3 1.3l-1.3 -1.3zM193.7 136.1l1.3 1.3l-1.3 1.3l-1.3 -1.3zM198.3 128.9l1.3 1.3l-1.3 1.3l-1.3 -1.3zM194.9 135.6l1.3 1.3l-1.3 1.3l-1.3 -1.3zM198.2 132.7l1.3 1.3l-1.3 1.3l-1.3 -1.3zM201.8 135.2l1.3 1.3l-1.3 1.3l-1.3 -1.3zM345.0 137.5l1.3 1.3l-1.3 1.3l-1.3 -1.3zM237.2 136.8l1.3 1.3l-1.3 1.3l-1.3 -1.3zM236.0 136.2l1.3 1.3l-1.3 1.3l-1.3 -1.3zM270.3 137.1l1.3 1.3l-1.3 1.3l-1.3 -1.3zM201.3 133.3l1.3 1.3l-1.3 1.3l-1.3 -1.3zM242.9 136.9l1.3 1.3l-1.3 1.3l-1.3 -1.3zM198.0 128.2l1.3 1.3l-1.3 1.3l-1.3 -1.3zM293.0 137.4l1.3 1.3l-1.3 1.3l-1.3 -1.3zM235.3 136.9l1.3 1.3l-1.3 1.3l-1.3 -1.3zM202.9 130.5l1.3 1.3l-1.3 1.3l-1.3 -1.3zM198.1 130.4l1.3 1.3l-1.3 1.3l-1.3 -1.3zM235.2 137.2l1.3 1.3l-1.3 1.3l-1.3 -1.3zM200.4 132.9l1.3 1.3l-1.3 1.3l-1.3 -1.3zM235.3 136.3l1.3 1.3l-1.3 1.3l-1.3 -1.3zM209.4 136.9l1.3 1.3l-1.3 1.3l-1.3 -1.3zM200.7 129.7l1.3 1.3l-1.3 1.3l-1.3 -1.3zM196.0 135.3l1.3 1.3l-1.3 1.3l-1.3 -1.3zM199.0 131.5l1.3 1.3l-1.3 1.3l-1.3 -1.3zM220.8 135.9l1.3 1.3l-1.3 1.3l-1.3 -1.3zM194.2 134.8l1.3 1.3l-1.3 1.3l-1.3 -1.3zM240.1 137.3l1.3 1.3l-1.3 1.3l-1.3 -1.3zM254.1 137.3l1.3 1.3l-1.3 1.3l-1.3 -1.3zM203.4 133.7l1.3 1.3l-1.3 1.3l-1.3 -1.3zM208.7 134.8l1.3 1.3l-1.3 1.3l-1.3 -1.3zM198.3 131.7l1.3 1.3l-1.3 1.3l-1.3 -1.3zM210.8 133.6l1.3 1.3l-1.3 1.3l-1.3 -1.3zM303.7 137.2l1.3 1.3l-1.3 1.3l-1.3 -1.3zM245.4 137.2l1.3 1.3l-1.3 1.3l-1.3 -1.3zM202.9 136.8l1.3 1.3l-1.3 1.3l-1.3 -1.3zM195.2 135.4l1.3 1.3l-1.3 1.3l-1.3 -1.3zM197.4 131.8l1.3 1.3l-1.3 1.3l-1.3 -1.3zM194.3 132.0l1.3 1.3l-1.3 1.3l-1.3 -1.3zM223.2 135.7l1.3 1.3l-1.3 1.3l-1.3 -1.3zM208.1 133.5l1.3 1.3l-1.3 1.3l-1.3 -1.3zM196.4 134.4l1.3 1.3l-1.3 1.3l-1.3 -1.3zM211.3 135.5l1.3 1.3l-1.3 1.3l-1.3 -1.3zM196.8 130.0l1.3 1.3l-1.3 1.3l-1.3 -1.3zM199.9 131.6l1.3 1.3l-1.3 1.3l-1.3 -1.3zM221.6 135.9l1.3 1.3l-1.3 1.3l-1.3 -1.3zM197.5 129.3l1.3 1.3l-1.3 1.3l-1.3 -1.3zM210.3 134.0l1.3 1.3l-1.3 1.3l-1.3 -1.3zM193.0 132.1l1.3 1.3l-1.3 1.3l-1.3 -1.3zM195.0 135.1l1.3 1.3l-1.3 1.3l-1.3 -1.3zM203.9 133.1l1.3 1.3l-1.3 1.3l-1.3 -1.3zM201.3 134.3l1.3 1.3l-1.3 1.3l-1.3 -1.3zM200.4 131.0l1.3 1.3l-1.3 1.3l-1.3 -1.3zM194.6 131.7l1.3 1.3l-1.3 1.3l-1.3 -1.3zM206.2 134.6l1.3 1.3l-1.3 1.3l-1.3 -1.3zM195.7 135.1l1.3 1.3l-1.3 1.3l-1.3 -1.3zM195.5 136.0l1.3 1.3l-1.3 1.3l-1.3 -1.3zM194.4 135.2l1.3 1.3l-1.3 1.3l-1.3 -1.3zM201.2 133.6l1.3 1.3l-1.3 1.3l-1.3 -1.3zM269.2 137.1l1.3 1.3l-1.3 1.3l-1.3 -1.3zM198.8 129.3l1.3 1.3l-1.3 1.3l-1.3 -1.3zM195.8 133.5l1.3 1.3l-1.3 1.3l-1.3 -1.3zM196.8 129.7l1.3 1.3l-1.3 1.3l-1.3 -1.3zM196.4 130.8l1.3 1.3l-1.3 1.3l-1.3 -1.3zM279.1 137.4l1.3 1.3l-1.3 1.3l-1.3 -1.3zM292.8 137.1l1.3 1.3l-1.3 1.3l-1.3 -1.3zM199.3 131.0l1.3 1.3l-1.3 1.3l-1.3 -1.3zM199.0 132.0l1.3 1.3l-1.3 1.3l-1.3 -1.3zM345.0 137.5l1.3 1.3l-1.3 1.3l-1.3 -1.3zM260.1 137.3l1.3 1.3l-1.3 1.3l-1.3 -1.3zM206.4 135.4l1.3 1.3l-1.3 1.3l-1.3 -1.3zM195.2 129.3l1.3 1.3l-1.3 1.3l-1.3 -1.3zM197.9 131.3l1.3 1.3l-1.3 1.3l-1.3 -1.3zM193.8 135.9l1.3 1.3l-1.3 1.3l-1.3 -1.3zM195.9 134.4l1.3 1.3l-1.3 1.3l-1.3 -1.3zM198.4 129.6l1.3 1.3l-1.3 1.3l-1.3 -1.3zM209.0 133.5l1.3 1.3l-1.3 1.3l-1.3 -1.3zM201.1 136.8l1.3 1.3l-1.3 1.3l-1.3 -1.3zM299.3 137.3l1.3 1.3l-1.3 1.3l-1.3 -1.3zM197.6 128.3l1.3 1.3l-1.3 1.3l-1.3 -1.3zM199.0 131.3l1.3 1.3l-1.3 1.3l-1.3 -1.3zM200.5 135.9l1.3 1.3l-1.3 1.3l-1.3 -1.3zM221.8 135.6l1.3 1.3l-1.3 1.3l-1.3 -1.3zM244.2 136.9l1.3 1.3l-1.3 1.3l-1.3 -1.3zM337.0 137.4l1.3 1.3l-1.3 1.3l-1.3 -1.3zM268.9 137.1l1.3 1.3l-1.3 1.3l-1.3 -1.3zM201.5 128.9l1.3 1.3l-1.3 1.3l-1.3 -1.3zM193.3 136.2l1.3 1.3l-1.3 1.3l-1.3 -1.3zM247.9 137.0l1.3 1.3l-1.3 1.3l-1.3 -1.3zM193.3 134.4l1.3 1.3l-1.3 1.3l-1.3 -1.3zM195.7 132.5l1.3 1.3l-1.3 1.3l-1.3 -1.3zM196.9 130.9l1.3 1.3l-1.3 1.3l-1.3 -1.3zM208.5 135.2l1.3 1.3l-1.3 1.3l-1.3 -1.3zM194.0 129.8l1.3 1.3l-1.3 1.3l-1.3 -1.3zM247.6 137.0l1.3 1.3l-1.3 1.3l-1.3 -1.3zM282.6 137.1l1.3 1.3l-1.3 1.3l-1.3 -1.3zM202.7 133.9l1.3 1.3l-1.3 1.3l-1.3 -1.3zM193.0 132.7l1.3 1.3l-1.3 1.3l-1.3 -1.3zM195.7 128.6l1.3 1.3l-1.3 1.3l-1.3 -1.3zM203.8 131.9l1.3 1.3l-1.3 1.3l-1.3 -1.3zM206.8 135.8l1.3 1.3l-1.3 1.3l-1.3 -1.3zM194.1 130.9l1.3 1.3l-1.3 1.3l-1.3 -1.3zM211.4 136.2l1.3 1.3l-1.3 1.3l-1.3 -1.3zM270.4 137.2l1.3 1.3l-1.3 1.3l-1.3 -1.3zM193.7 131.1l1.3 1.3l-1.3 1.3l-1.3 -1.3zM209.4 134.3l1.3 1.3l-1.3 1.3l-1.3 -1.3zM222.4 136.5l1.3 1.3l-1.3 1.3l-1.3 -1.3zM196.8 136.7l1.3 1.3l-1.3 1.3l-1.3 -1.3zM219.9 135.4l1.3 1.3l-1.3 1.3l-1.3 -1.3zM205.6 133.6l1.3 1.3l-1.3 1.3l-1.3 -1.3zM209.8 134.1l1.3 1.3l-1.3 1.3l-1.3 -1.3zM195.6 129.4l1.3 1.3l-1.3 1.3l-1.3 -1.3zM253.0 136.6l1.3 1.3l-1.3 1.3l-1.3 -1.3zM224.4 136.7l1.3 1.3l-1.3 1.3l-1.3 -1.3zM289.2 137.0l1.3 1.3l-1.3 1.3l-1.3 -1.3zM195.7 132.0l1.3 1.3l-1.3 1.3l-1.3 -1.3zM194.7 130.7l1.3 1.3l-1.3 1.3l-1.3 -1.3zM198.4 136.6l1.3 1.3l-1.3 1.3l-1.3 -1.3zM195.0 135.0l1.3 1.3l-1.3 1.3l-1.3 -1.3zM240.1 137.2l1.3 1.3l-1.3 1.3l-1.3 -1.3zM200.5 135.0l1.3 1.3l-1.3 1.3l-1.3 -1.3zM208.7 136.4l1.3 1.3l-1.3 1.3l-1.3 -1.3zM195.3 134.9l1.3 1.3l-1.3 1.3l-1.3 -1.3zM299.6 137.4l1.3 1.3l-1.3 1.3l-1.3 -1.3zM259.2 136.7l1.3 1.3l-1.3 1.3l-1.3 -1.3zM200.3 133.2l1.3 1.3l-1.3 1.3l-1.3 -1.3zM194.9 136.1l1.3 1.3l-1.3 1.3l-1.3 -1.3zM200.0 133.3l1.3 1.3l-1.3 1.3l-1.3 -1.3zM338.6 137.5l1.3 1.3l-1.3 1.3l-1.3 -1.3zM193.9 135.4l1.3 1.3l-1.3 1.3l-1.3 -1.3zM197.6 130.6l1.3 1.3l-1.3 1.3l-1.3 -1.3zM197.5 129.8l1.3 1.3l-1.3 1.3l-1.3 -1.3zM206.3 134.9l1.3 1.3l-1.3 1.3l-1.3 -1.3zM201.8 134.6l1.3 1.3l-1.3 1.3l-1.3 -1.3zM193.5 134.2l1.3 1.3l-1.3 1.3l-1.3 -1.3zM224.0 136.5l1.3 1.3l-1.3 1.3l-1.3 -1.3zM216.5 137.1l1.3 1.3l-1.3 1.3l-1.3 -1.3zM195.6 130.7l1.3 1.3l-1.3 1.3l-1.3 -1.3zM307.7 137.4l1.3 1.3l-1.3 1.3l-1.3 -1.3zM199.5 135.4l1.3 1.3l-1.3 1.3l-1.3 -1.3zM259.6 137.0l1.3 1.3l-1.3 1.3l-1.3 -1.3zM204.5 136.6l1.3 1.3l-1.3 1.3l-1.3 -1.3zM205.8 134.7l1.3 1.3l-1.3 1.3l-1.3 -1.3zM195.5 133.9l1.3 1.3l-1.3 1.3l-1.3 -1.3zM195.0 129.8l1.3 1.3l-1.3 1.3l-1.3 -1.3zM194.7 130.6l1.3 1.3l-1.3 1.3l-1.3 -1.3zM193.4 133.4l1.3 1.3l-1.3 1.3l-1.3 -1.3zM196.7 134.6l1.3 1.3l-1.3 1.3l-1.3 -1.3zM193.6 133.9l1.3 1.3l-1.3 1.3l-1.3 -1.3zM198.4 132.8l1.3 1.3l-1.3 1.3l-1.3 -1.3zM197.2 134.6l1.3 1.3l-1.3 1.3l-1.3 -1.3zM277.9 137.3l1.3 1.3l-1.3 1.3l-1.3 -1.3zM204.6 135.6l1.3 1.3l-1.3 1.3l-1.3 -1.3zM196.5 131.9l1.3 1.3l-1.3 1.3l-1.3 -1.3zM260.9 137.0l1.3 1.3l-1.3 1.3l-1.3 -1.3zM193.1 131.9l1.3 1.3l-1.3 1.3l-1.3 -1.3zM195.4 135.8l1.3 1.3l-1.3 1.3l-1.3 -1.3zM198.9 133.5l1.3 1.3l-1.3 1.3l-1.3 -1.3zM194.0 133.5l1.3 1.3l-1.3 1.3l-1.3 -1.3zM272.7 137.0l1.3 1.3l-1.3 1.3l-1.3 -1.3zM224.2 136.9l1.3 1.3l-1.3 1.3l-1.3 -1.3zM202.0 136.7l1.3 1.3l-1.3 1.3l-1.3 -1.3zM194.8 132.3l1.3 1.3l-1.3 1.3l-1.3 -1.3zM207.9 134.4l1.3 1.3l-1.3 1.3l-1.3 -1.3zM197.3 133.3l1.3 1.3l-1.3 1.3l-1.3 -1.3zM198.6 136.7l1.3 1.3l-1.3 1.3l-1.3 -1.3zM281.9 137.0l1.3 1.3l-1.3 1.3l-1.3 -1.3zM201.9 129.1l1.3 1.3l-1.3 1.3l-1.3 -1.3zM198.4 134.8l1.3 1.3l-1.3 1.3l-1.3 -1.3zM193.3 135.0l1.3 1.3l-1.3 1.3l-1.3 -1.3zM219.3 136.7l1.3 1.3l-1.3 1.3l-1.3 -1.3zM205.7 137.0l1.3 1.3l-1.3 1.3l-1.3 -1.3zM199.4 133.5l1.3 1.3l-1.3 1.3l-1.3 -1.3zM197.8 130.1l1.3 1.3l-1.3 1.3l-1.3 -1.3zM305.6 137.5l1.3 1.3l-1.3 1.3l-1.3 -1.3zM214.1 134.6l1.3 1.3l-1.3 1.3l-1.3 -1.3zM203.9 131.2l1.3 1.3l-1.3 1.3l-1.3 -1.3zM196.2 135.7l1.3 1.3l-1.3 1.3l-1.3 -1.3zM271.2 136.9l1.3 1.3l-1.3 1.3l-1.3 -1.3zM227.9 136.5l1.3 1.3l-1.3 1.3l-1.3 -1.3zM200.0 130.4l1.3 1.3l-1.3 1.3l-1.3 -1.3zM196.9 130.0l1.3 1.3l-1.3 1.3l-1.3 -1.3zM207.4 136.6l1.3 1.3l-1.3 1.3l-1.3 -1.3zM194.9 136.1l1.3 1.3l-1.3 1.3l-1.3 -1.3zM200.3 132.5l1.3 1.3l-1.3 1.3l-1.3 -1.3zM196.3 129.1l1.3 1.3l-1.3 1.3l-1.3 -1.3zM270.4 137.3l1.3 1.3l-1.3 1.3l-1.3 -1.3zM206.1 135.9l1.3 1.3l-1.3 1.3l-1.3 -1.3zM210.9 133.6l1.3 1.3l-1.3 1.3l-1.3 -1.3zM205.8 135.3l1.3 1.3l-1.3 1.3l-1.3 -1.3zM197.3 134.6l1.3 1.3l-1.3 1.3l-1.3 -1.3zM254.8 136.7l1.3 1.3l-1.3 1.3l-1.3 -1.3zM200.0 134.7l1.3 1.3l-1.3 1.3l-1.3 -1.3zM207.7 136.8l1.3 1.3l-1.3 1.3l-1.3 -1.3zM199.1 136.6l1.3 1.3l-1.3 1.3l-1.3 -1.3zM296.3 137.2l1.3 1.3l-1.3 1.3l-1.3 -1.3zM193.4 131.9l1.3 1.3l-1.3 1.3l-1.3 -1.3zM211.8 136.4l1.3 1.3l-1.3 1.3l-1.3 -1.3zM254.8 137.2l1.3 1.3l-1.3 1.3l-1.3 -1.3zM207.7 135.7l1.3 1.3l-1.3 1.3l-1.3 -1.3zM206.3 136.9l1.3 1.3l-1.3 1.3l-1.3 -1.3zM201.7 136.2l1.3 1.3l-1.3 1.3l-1.3 -1.3zM215.1 134.3l1.3 1.3l-1.3 1.3l-1.3 -1.3zM258.3 136.6l1.3 1.3l-1.3 1.3l-1.3 -1.3zM205.3 134.5l1.3 1.3l-1.3 1.3l-1.3 -1.3zM202.7 134.8l1.3 1.3l-1.3 1.3l-1.3 -1.3zM228.5 136.5l1.3 1.3l-1.3 1.3l-1.3 -1.3zM266.4 136.8l1.3 1.3l-1.3 1.3l-1.3 -1.3zM198.9 133.8l1.3 1.3l-1.3 1.3l-1.3 -1.3zM199.8 130.5l1.3 1.3l-1.3 1.3l-1.3 -1.3zM192.7 133.7l1.3 1.3l-1.3 1.3l-1.3 -1.3zM200.9 134.9l1.3 1.3l-1.3 1.3l-1.3 -1.3zM210.4 135.0l1.3 1.3l-1.3 1.3l-1.3 -1.3zM196.7 133.4l1.3 1.3l-1.3 1.3l-1.3 -1.3zM195.5 130.1l1.3 1.3l-1.3 1.3l-1.3 -1.3zM192.9 135.7l1.3 1.3l-1.3 1.3l-1.3 -1.3zM197.0 135.3l1.3 1.3l-1.3 1.3l-1.3 -1.3zM204.2 136.1l1.3 1.3l-1.3 1.3l-1.3 -1.3zM199.2 134.9l1.3 1.3l-1.3 1.3l-1.3 -1.3zM199.6 133.3l1.3 1.3l-1.3 1.3l-1.3 -1.3zM208.0 136.4l1.3 1.3l-1.3 1.3l-1.3 -1.3zM195.9 129.2l1.3 1.3l-1.3 1.3l-1.3 -1.3zM200.8 135.8l1.3 1.3l-1.3 1.3l-1.3 -1.3zM201.9 131.6l1.3 1.3l-1.3 1.3l-1.3 -1.3zM197.9 135.4l1.3 1.3l-1.3 1.3l-1.3 -1.3zM197.9 131.8l1.3 1.3l-1.3 1.3l-1.3 -1.3zM201.4 130.3l1.3 1.3l-1.3 1.3l-1.3 -1.3zM223.9 136.6l1.3 1.3l-1.3 1.3l-1.3 -1.3zM309.8 137.1l1.3 1.3l-1.3 1.3l-1.3 -1.3zM200.3 128.4l1.3 1.3l-1.3 1.3l-1.3 -1.3zM202.4 134.7l1.3 1.3l-1.3 1.3l-1.3 -1.3zM345.0 137.5l1.3 1.3l-1.3 1.3l-1.3 -1.3zM205.1 134.6l1.3 1.3l-1.3 1.3l-1.3 -1.3zM196.4 136.0l1.3 1.3l-1.3 1.3l-1.3 -1.3zM207.9 133.3l1.3 1.3l-1.3 1.3l-1.3 -1.3zM197.1 128.7l1.3 1.3l-1.3 1.3l-1.3 -1.3zM197.2 131.0l1.3 1.3l-1.3 1.3l-1.3 -1.3zM192.9 134.4l1.3 1.3l-1.3 1.3l-1.3 -1.3zM263.3 137.1l1.3 1.3l-1.3 1.3l-1.3 -1.3zM200.1 130.8l1.3 1.3l-1.3 1.3l-1.3 -1.3zM208.6 135.7l1.3 1.3l-1.3 1.3l-1.3 -1.3zM210.4 134.9l1.3 1.3l-1.3 1.3l-1.3 -1.3zM201.5 133.1l1.3 1.3l-1.3 1.3l-1.3 -1.3zM198.8 129.9l1.3 1.3l-1.3 1.3l-1.3 -1.3zM200.7 133.6l1.3 1.3l-1.3 1.3l-1.3 -1.3zM202.4 135.6l1.3 1.3l-1.3 1.3l-1.3 -1.3zM239.1 137.1l1.3 1.3l-1.3 1.3l-1.3 -1.3zM208.0 134.6l1.3 1.3l-1.3 1.3l-1.3 -1.3zM213.2 135.3l1.3 1.3l-1.3 1.3l-1.3 -1.3zM201.9 130.1l1.3 1.3l-1.3 1.3l-1.3 -1.3zM194.3 130.0l1.3 1.3l-1.3 1.3l-1.3 -1.3zM199.3 132.2l1.3 1.3l-1.3 1.3l-1.3 -1.3zM200.0 133.9l1.3 1.3l-1.3 1.3l-1.3 -1.3zM200.2 131.0l1.3 1.3l-1.3 1.3l-1.3 -1.3zM224.1 136.1l1.3 1.3l-1.3 1.3l-1.3 -1.3zM197.7 128.4l1.3 1.3l-1.3 1.3l-1.3 -1.3zM204.4 132.4l1.3 1.3l-1.3 1.3l-1.3 -1.3zM314.8 137.2l1.3 1.3l-1.3 1.3l-1.3 -1.3zM197.6 133.6l1.3 1.3l-1.3 1.3l-1.3 -1.3zM200.2 128.3l1.3 1.3l-1.3 1.3l-1.3 -1.3zM201.5 135.4l1.3 1.3l-1.3 1.3l-1.3 -1.3zM195.8 132.9l1.3 1.3l-1.3 1.3l-1.3 -1.3zM195.9 134.3l1.3 1.3l-1.3 1.3l-1.3 -1.3zM255.7 136.7l1.3 1.3l-1.3 1.3l-1.3 -1.3zM195.4 130.4l1.3 1.3l-1.3 1.3l-1.3 -1.3zM202.0 136.4l1.3 1.3l-1.3 1.3l-1.3 -1.3zM197.1 130.0l1.3 1.3l-1.3 1.3l-1.3 -1.3zM206.1 135.6l1.3 1.3l-1.3 1.3l-1.3 -1.3zM199.6 133.0l1.3 1.3l-1.3 1.3l-1.3 -1.3zM345.0 137.5l1.3 1.3l-1.3 1.3l-1.3 -1.3zM200.8 130.6l1.3 1.3l-1.3 1.3l-1.3 -1.3zM196.2 135.6l1.3 1.3l-1.3 1.3l-1.3 -1.3zM238.1 137.2l1.3 1.3l-1.3 1.3l-1.3 -1.3zM207.4 136.3l1.3 1.3l-1.3 1.3l-1.3 -1.3zM211.8 134.6l1.3 1.3l-1.3 1.3l-1.3 -1.3zM198.5 129.1l1.3 1.3l-1.3 1.3l-1.3 -1.3zM194.2 133.2l1.3 1.3l-1.3 1.3l-1.3 -1.3zM206.8 135.6l1.3 1.3l-1.3 1.3l-1.3 -1.3zM207.5 135.3l1.3 1.3l-1.3 1.3l-1.3 -1.3zM267.7 137.0l1.3 1.3l-1.3 1.3l-1.3 -1.3zM197.3 132.5l1.3 1.3l-1.3 1.3l-1.3 -1.3zM198.5 135.9l1.3 1.3l-1.3 1.3l-1.3 -1.3zM246.4 137.2l1.3 1.3l-1.3 1.3l-1.3 -1.3zM222.4 136.8l1.3 1.3l-1.3 1.3l-1.3 -1.3zM194.4 134.9l1.3 1.3l-1.3 1.3l-1.3 -1.3zM324.7 137.1l1.3 1.3l-1.3 1.3l-1.3 -1.3zM203.9 133.2l1.3 1.3l-1.3 1.3l-1.3 -1.3zM215.5 136.9l1.3 1.3l-1.3 1.3l-1.3 -1.3zM253.8 136.7l1.3 1.3l-1.3 1.3l-1.3 -1.3zM200.9 132.1l1.3 1.3l-1.3 1.3l-1.3 -1.3zM207.0 135.9l1.3 1.3l-1.3 1.3l-1.3 -1.3zM196.5 131.3l1.3 1.3l-1.3 1.3l-1.3 -1.3zM207.5 136.6l1.3 1.3l-1.3 1.3l-1.3 -1.3zM193.4 132.9l1.3 1.3l-1.3 1.3l-1.3 -1.3zM199.9 129.4l1.3 1.3l-1.3 1.3l-1.3 -1.3zM195.1 132.3l1.3 1.3l-1.3 1.3l-1.3 -1.3zM212.0 135.3l1.3 1.3l-1.3 1.3l-1.3 -1.3zM205.5 134.4l1.3 1.3l-1.3 1.3l-1.3 -1.3zM288.4 137.0l1.3 1.3l-1.3 1.3l-1.3 -1.3zM283.1 137.4l1.3 1.3l-1.3 1.3l-1.3 -1.3zM194.7 134.5l1.3 1.3l-1.3 1.3l-1.3 -1.3zM220.3 137.0l1.3 1.3l-1.3 1.3l-1.3 -1.3zM193.9 135.6l1.3 1.3l-1.3 1.3l-1.3 -1.3zM197.8 135.3l1.3 1.3l-1.3 1.3l-1.3 -1.3zM201.4 130.6l1.3 1.3l-1.3 1.3l-1.3 -1.3zM202.8 134.3l1.3 1.3l-1.3 1.3l-1.3 -1.3zM217.0 135.0l1.3 1.3l-1.3 1.3l-1.3 -1.3zM225.7 135.9l1.3 1.3l-1.3 1.3l-1.3 -1.3zM335.0 137.3l1.3 1.3l-1.3 1.3l-1.3 -1.3zM195.3 131.4l1.3 1.3l-1.3 1.3l-1.3 -1.3zM206.4 133.1l1.3 1.3l-1.3 1.3l-1.3 -1.3zM201.2 130.4l1.3 1.3l-1.3 1.3l-1.3 -1.3zM273.8 137.3l1.3 1.3l-1.3 1.3l-1.3 -1.3zM239.6 136.6l1.3 1.3l-1.3 1.3l-1.3 -1.3zM194.6 132.3l1.3 1.3l-1.3 1.3l-1.3 -1.3zM200.1 136.6l1.3 1.3l-1.3 1.3l-1.3 -1.3zM200.0 131.7l1.3 1.3l-1.3 1.3l-1.3 -1.3zM194.7 130.6l1.3 1.3l-1.3 1.3l-1.3 -1.3zM227.5 137.1l1.3 1.3l-1.3 1.3l-1.3 -1.3zM210.2 135.5l1.3 1.3l-1.3 1.3l-1.3 -1.3zM204.8 134.4l1.3 1.3l-1.3 1.3l-1.3 -1.3zM236.9 137.3l1.3 1.3l-1.3 1.3l-1.3 -1.3zM201.5 136.8l1.3 1.3l-1.3 1.3l-1.3 -1.3zM192.8 136.2l1.3 1.3l-1.3 1.3l-1.3 -1.3zM198.2 130.5l1.3 1.3l-1.3 1.3l-1.3 -1.3zM199.5 128.1l1.3 1.3l-1.3 1.3l-1.3 -1.3zM200.8 131.7l1.3 1.3l-1.3 1.3l-1.3 -1.3zM202.6 131.9l1.3 1.3l-1.3 1.3l-1.3 -1.3zM199.7 130.1l1.3 1.3l-1.3 1.3l-1.3 -1.3zM197.1 133.6l1.3 1.3l-1.3 1.3l-1.3 -1.3zM204.2 132.4l1.3 1.3l-1.3 1.3l-1.3 -1.3zM199.1 131.4l1.3 1.3l-1.3 1.3l-1.3 -1.3zM217.6 135.9l1.3 1.3l-1.3 1.3l-1.3 -1.3zM193.9 136.0l1.3 1.3l-1.3 1.3l-1.3 -1.3zM241.2 137.1l1.3 1.3l-1.3 1.3l-1.3 -1.3zM206.3 132.8l1.3 1.3l-1.3 1.3l-1.3 -1.3zM198.9 134.5l1.3 1.3l-1.3 1.3l-1.3 -1.3zM241.9 137.0l1.3 1.3l-1.3 1.3l-1.3 -1.3zM197.7 136.5l1.3 1.3l-1.3 1.3l-1.3 -1.3zM198.7 135.3l1.3 1.3l-1.3 1.3l-1.3 -1.3zM345.0 137.5l1.3 1.3l-1.3 1.3l-1.3 -1.3zM204.7 131.5l1.3 1.3l-1.3 1.3l-1.3 -1.3zM200.8 136.5l1.3 1.3l-1.3 1.3l-1.3 -1.3zM194.7 130.0l1.3 1.3l-1.3 1.3l-1.3 -1.3zM200.0 135.3l1.3 1.3l-1.3 1.3l-1.3 -1.3zM197.1 130.2l1.3 1.3l-1.3 1.3l-1.3 -1.3zM228.7 136.5l1.3 1.3l-1.3 1.3l-1.3 -1.3zM243.4 137.0l1.3 1.3l-1.3 1.3l-1.3 -1.3zM200.5 136.1l1.3 1.3l-1.3 1.3l-1.3 -1.3zM196.7 133.6l1.3 1.3l-1.3 1.3l-1.3 -1.3zM291.0 137.0l1.3 1.3l-1.3 1.3l-1.3 -1.3zM223.2 136.4l1.3 1.3l-1.3 1.3l-1.3 -1.3zM201.2 132.6l1.3 1.3l-1.3 1.3l-1.3 -1.3zM208.5 133.8l1.3 1.3l-1.3 1.3l-1.3 -1.3zM202.0 131.8l1.3 1.3l-1.3 1.3l-1.3 -1.3zM299.7 137.4l1.3 1.3l-1.3 1.3l-1.3 -1.3zM199.6 135.6l1.3 1.3l-1.3 1.3l-1.3 -1.3zM196.8 130.1l1.3 1.3l-1.3 1.3l-1.3 -1.3zM211.4 134.4l1.3 1.3l-1.3 1.3l-1.3 -1.3zM196.2 130.1l1.3 1.3l-1.3 1.3l-1.3 -1.3zM214.4 135.3l1.3 1.3l-1.3 1.3l-1.3 -1.3z" fill="#000"/><polyline points="198.1,326.7 219.3,326.7 240.5,326.7 261.7,326.7 282.9,326.7 304.1,326.7 325.3,326.7 346.5,326.7 367.7,326.7 388.9,326.7 410.1,326.7" fill="none" stroke="#26173f" stroke-width="1.5" stroke-dasharray="3.6 1.8"/><circle cx="198.1" cy="326.7" r="1.65" fill="#6a4ca8" stroke="#2a1850" stroke-width="0.70"/><circle cx="219.3" cy="326.7" r="1.65" fill="#6a4ca8" stroke="#2a1850" stroke-width="0.70"/><circle cx="240.5" cy="326.7" r="1.65" fill="#6a4ca8" stroke="#2a1850" stroke-width="0.70"/><circle cx="261.7" cy="326.7" r="1.65" fill="#6a4ca8" stroke="#2a1850" stroke-width="0.70"/><circle cx="282.9" cy="326.7" r="1.65" fill="#6a4ca8" stroke="#2a1850" stroke-width="0.70"/><circle cx="304.1" cy="326.7" r="1.65" fill="#6a4ca8" stroke="#2a1850" stroke-width="0.70"/><circle cx="325.3" cy="326.7" r="1.65" fill="#6a4ca8" stroke="#2a1850" stroke-width="0.70"/><circle cx="346.5" cy="326.7" r="1.65" fill="#6a4ca8" stroke="#2a1850" stroke-width="0.70"/><circle cx="367.7" cy="326.7" r="1.65" fill="#6a4ca8" stroke="#2a1850" stroke-width="0.70"/><circle cx="388.9" cy="326.7" r="1.65" fill="#6a4ca8" stroke="#2a1850" stroke-width="0.70"/><circle cx="410.1" cy="326.7" r="1.65" fill="#6a4ca8" stroke="#2a1850" stroke-width="0.70"/><polyline points="198.1,326.4 219.3,326.4 240.5,326.4 261.7,326.4 282.9,326.4 304.1,326.4 325.3,326.4 346.5,326.4 367.7,326.4 388.9,326.4 410.1,326.4" fill="none" stroke="#1c3567" stroke-width="1.5" stroke-dasharray="3.6 1.8"/><path d="M198.1 324.2L200.4 328.1L195.8 328.1Z" fill="#2f62b0" stroke="#1c3567" stroke-width="0.50"/><path d="M219.3 324.2L221.6 328.1L217.0 328.1Z" fill="#2f62b0" stroke="#1c3567" stroke-width="0.50"/><path d="M240.5 324.2L242.8 328.1L238.2 328.1Z" fill="#2f62b0" stroke="#1c3567" stroke-width="0.50"/><path d="M261.7 324.2L264.0 328.1L259.4 328.1Z" fill="#2f62b0" stroke="#1c3567" stroke-width="0.50"/><path d="M282.9 324.2L285.2 328.1L280.6 328.1Z" fill="#2f62b0" stroke="#1c3567" stroke-width="0.50"/><path d="M304.1 324.2L306.4 328.1L301.8 328.1Z" fill="#2f62b0" stroke="#1c3567" stroke-width="0.50"/><path d="M325.3 324.2L327.6 328.1L323.0 328.1Z" fill="#2f62b0" stroke="#1c3567" stroke-width="0.50"/><path d="M346.5 324.2L348.8 328.1L344.2 328.1Z" fill="#2f62b0" stroke="#1c3567" stroke-width="0.50"/><path d="M367.7 324.2L370.0 328.1L365.4 328.1Z" fill="#2f62b0" stroke="#1c3567" stroke-width="0.50"/><path d="M388.9 324.2L391.2 328.1L386.6 328.1Z" fill="#2f62b0" stroke="#1c3567" stroke-width="0.50"/><path d="M410.1 324.2L412.4 328.1L407.8 328.1Z" fill="#2f62b0" stroke="#1c3567" stroke-width="0.50"/><polyline points="198.1,277.1 219.3,313.8 240.5,323.3 261.7,324.0 282.9,324.3 304.1,324.5 325.3,324.6 346.5,324.7 367.7,324.7 388.9,324.7 410.1,324.7" fill="none" stroke="#4b6820" stroke-width="1.5" stroke-dasharray="3.6 1.8"/><path d="M198.1 275.1L200.1 277.1L198.1 279.1L196.1 277.1Z" fill="#74a035" stroke="#4b6820" stroke-width="0.50"/><path d="M219.3 311.8L221.3 313.8L219.3 315.8L217.3 313.8Z" fill="#74a035" stroke="#4b6820" stroke-width="0.50"/><path d="M240.5 321.3L242.5 323.3L240.5 325.3L238.5 323.3Z" fill="#74a035" stroke="#4b6820" stroke-width="0.50"/><path d="M261.7 322.0L263.7 324.0L261.7 326.0L259.7 324.0Z" fill="#74a035" stroke="#4b6820" stroke-width="0.50"/><path d="M282.9 322.3L284.9 324.3L282.9 326.3L280.9 324.3Z" fill="#74a035" stroke="#4b6820" stroke-width="0.50"/><path d="M304.1 322.5L306.1 324.5L304.1 326.5L302.1 324.5Z" fill="#74a035" stroke="#4b6820" stroke-width="0.50"/><path d="M325.3 322.6L327.3 324.6L325.3 326.6L323.3 324.6Z" fill="#74a035" stroke="#4b6820" stroke-width="0.50"/><path d="M346.5 322.7L348.5 324.7L346.5 326.7L344.5 324.7Z" fill="#74a035" stroke="#4b6820" stroke-width="0.50"/><path d="M367.7 322.7L369.7 324.7L367.7 326.7L365.7 324.7Z" fill="#74a035" stroke="#4b6820" stroke-width="0.50"/><path d="M388.9 322.7L390.9 324.7L388.9 326.7L386.9 324.7Z" fill="#74a035" stroke="#4b6820" stroke-width="0.50"/><path d="M410.1 322.7L412.1 324.7L410.1 326.7L408.1 324.7Z" fill="#74a035" stroke="#4b6820" stroke-width="0.50"/><polyline points="198.1,197.7 219.3,271.0 240.5,289.9 261.7,301.0 282.9,307.2 304.1,312.3 325.3,315.7 346.5,317.8 367.7,319.8 388.9,320.6 410.1,321.2" fill="none" stroke="#601010" stroke-width="1.5" stroke-dasharray="3.6 1.8"/><rect x="196.3" y="195.9" width="3.6" height="3.6" fill="#a62828" stroke="#6a1212" stroke-width="0.50"/><rect x="217.5" y="269.2" width="3.6" height="3.6" fill="#a62828" stroke="#6a1212" stroke-width="0.50"/><rect x="238.7" y="288.1" width="3.6" height="3.6" fill="#a62828" stroke="#6a1212" stroke-width="0.50"/><rect x="259.9" y="299.2" width="3.6" height="3.6" fill="#a62828" stroke="#6a1212" stroke-width="0.50"/><rect x="281.1" y="305.4" width="3.6" height="3.6" fill="#a62828" stroke="#6a1212" stroke-width="0.50"/><rect x="302.3" y="310.5" width="3.6" height="3.6" fill="#a62828" stroke="#6a1212" stroke-width="0.50"/><rect x="323.5" y="313.9" width="3.6" height="3.6" fill="#a62828" stroke="#6a1212" stroke-width="0.50"/><rect x="344.7" y="316.0" width="3.6" height="3.6" fill="#a62828" stroke="#6a1212" stroke-width="0.50"/><rect x="365.9" y="318.0" width="3.6" height="3.6" fill="#a62828" stroke="#6a1212" stroke-width="0.50"/><rect x="387.1" y="318.8" width="3.6" height="3.6" fill="#a62828" stroke="#6a1212" stroke-width="0.50"/><rect x="408.3" y="319.4" width="3.6" height="3.6" fill="#a62828" stroke="#6a1212" stroke-width="0.50"/><path d="M277.0 321.9l1.2 1.2l-1.2 1.2l-1.2 -1.2zM215.9 320.6l1.2 1.2l-1.2 1.2l-1.2 -1.2zM205.2 302.1l1.2 1.2l-1.2 1.2l-1.2 -1.2zM281.0 319.6l1.2 1.2l-1.2 1.2l-1.2 -1.2zM289.9 321.6l1.2 1.2l-1.2 1.2l-1.2 -1.2zM202.1 315.8l1.2 1.2l-1.2 1.2l-1.2 -1.2zM223.3 318.6l1.2 1.2l-1.2 1.2l-1.2 -1.2zM236.0 317.2l1.2 1.2l-1.2 1.2l-1.2 -1.2zM209.8 311.7l1.2 1.2l-1.2 1.2l-1.2 -1.2zM205.1 311.9l1.2 1.2l-1.2 1.2l-1.2 -1.2zM216.2 319.9l1.2 1.2l-1.2 1.2l-1.2 -1.2zM204.7 313.9l1.2 1.2l-1.2 1.2l-1.2 -1.2zM219.6 319.9l1.2 1.2l-1.2 1.2l-1.2 -1.2zM222.6 318.4l1.2 1.2l-1.2 1.2l-1.2 -1.2zM201.3 312.1l1.2 1.2l-1.2 1.2l-1.2 -1.2zM216.8 321.5l1.2 1.2l-1.2 1.2l-1.2 -1.2zM220.4 316.9l1.2 1.2l-1.2 1.2l-1.2 -1.2zM221.7 321.0l1.2 1.2l-1.2 1.2l-1.2 -1.2zM205.9 317.3l1.2 1.2l-1.2 1.2l-1.2 -1.2zM210.9 319.6l1.2 1.2l-1.2 1.2l-1.2 -1.2zM205.9 319.7l1.2 1.2l-1.2 1.2l-1.2 -1.2zM204.3 323.8l1.2 1.2l-1.2 1.2l-1.2 -1.2zM203.5 321.0l1.2 1.2l-1.2 1.2l-1.2 -1.2zM224.9 320.6l1.2 1.2l-1.2 1.2l-1.2 -1.2zM204.9 311.5l1.2 1.2l-1.2 1.2l-1.2 -1.2zM222.9 320.0l1.2 1.2l-1.2 1.2l-1.2 -1.2zM210.1 309.4l1.2 1.2l-1.2 1.2l-1.2 -1.2zM222.2 315.6l1.2 1.2l-1.2 1.2l-1.2 -1.2zM236.2 318.8l1.2 1.2l-1.2 1.2l-1.2 -1.2zM229.9 316.5l1.2 1.2l-1.2 1.2l-1.2 -1.2zM202.0 302.7l1.2 1.2l-1.2 1.2l-1.2 -1.2zM201.7 313.5l1.2 1.2l-1.2 1.2l-1.2 -1.2zM205.0 314.3l1.2 1.2l-1.2 1.2l-1.2 -1.2zM211.6 322.6l1.2 1.2l-1.2 1.2l-1.2 -1.2zM239.7 321.7l1.2 1.2l-1.2 1.2l-1.2 -1.2zM256.7 319.0l1.2 1.2l-1.2 1.2l-1.2 -1.2zM227.9 321.7l1.2 1.2l-1.2 1.2l-1.2 -1.2zM299.2 320.1l1.2 1.2l-1.2 1.2l-1.2 -1.2zM344.9 321.6l1.2 1.2l-1.2 1.2l-1.2 -1.2zM204.1 306.0l1.2 1.2l-1.2 1.2l-1.2 -1.2zM202.8 302.0l1.2 1.2l-1.2 1.2l-1.2 -1.2zM231.3 320.5l1.2 1.2l-1.2 1.2l-1.2 -1.2zM203.3 310.5l1.2 1.2l-1.2 1.2l-1.2 -1.2zM226.4 319.3l1.2 1.2l-1.2 1.2l-1.2 -1.2zM202.5 305.6l1.2 1.2l-1.2 1.2l-1.2 -1.2zM204.0 309.4l1.2 1.2l-1.2 1.2l-1.2 -1.2zM217.9 319.2l1.2 1.2l-1.2 1.2l-1.2 -1.2zM199.6 304.9l1.2 1.2l-1.2 1.2l-1.2 -1.2zM204.7 323.0l1.2 1.2l-1.2 1.2l-1.2 -1.2zM201.0 321.8l1.2 1.2l-1.2 1.2l-1.2 -1.2zM202.1 315.3l1.2 1.2l-1.2 1.2l-1.2 -1.2zM224.4 317.7l1.2 1.2l-1.2 1.2l-1.2 -1.2zM207.4 311.3l1.2 1.2l-1.2 1.2l-1.2 -1.2zM200.5 319.4l1.2 1.2l-1.2 1.2l-1.2 -1.2zM358.0 320.6l1.2 1.2l-1.2 1.2l-1.2 -1.2zM209.3 314.8l1.2 1.2l-1.2 1.2l-1.2 -1.2zM203.2 304.0l1.2 1.2l-1.2 1.2l-1.2 -1.2zM209.3 310.3l1.2 1.2l-1.2 1.2l-1.2 -1.2zM198.8 322.3l1.2 1.2l-1.2 1.2l-1.2 -1.2zM198.5 323.4l1.2 1.2l-1.2 1.2l-1.2 -1.2zM239.8 320.6l1.2 1.2l-1.2 1.2l-1.2 -1.2zM202.4 320.4l1.2 1.2l-1.2 1.2l-1.2 -1.2zM197.8 319.5l1.2 1.2l-1.2 1.2l-1.2 -1.2zM214.1 324.5l1.2 1.2l-1.2 1.2l-1.2 -1.2zM204.2 310.9l1.2 1.2l-1.2 1.2l-1.2 -1.2zM199.7 305.7l1.2 1.2l-1.2 1.2l-1.2 -1.2zM206.2 305.0l1.2 1.2l-1.2 1.2l-1.2 -1.2zM206.3 321.1l1.2 1.2l-1.2 1.2l-1.2 -1.2zM264.3 320.1l1.2 1.2l-1.2 1.2l-1.2 -1.2zM206.5 318.2l1.2 1.2l-1.2 1.2l-1.2 -1.2zM200.4 311.8l1.2 1.2l-1.2 1.2l-1.2 -1.2zM199.0 310.2l1.2 1.2l-1.2 1.2l-1.2 -1.2zM210.0 312.4l1.2 1.2l-1.2 1.2l-1.2 -1.2zM207.0 317.7l1.2 1.2l-1.2 1.2l-1.2 -1.2zM199.3 310.7l1.2 1.2l-1.2 1.2l-1.2 -1.2zM255.6 317.6l1.2 1.2l-1.2 1.2l-1.2 -1.2zM205.0 313.2l1.2 1.2l-1.2 1.2l-1.2 -1.2zM206.0 313.7l1.2 1.2l-1.2 1.2l-1.2 -1.2zM212.7 319.9l1.2 1.2l-1.2 1.2l-1.2 -1.2zM217.2 322.2l1.2 1.2l-1.2 1.2l-1.2 -1.2zM218.8 316.5l1.2 1.2l-1.2 1.2l-1.2 -1.2zM202.2 320.6l1.2 1.2l-1.2 1.2l-1.2 -1.2zM201.0 323.5l1.2 1.2l-1.2 1.2l-1.2 -1.2zM199.9 313.3l1.2 1.2l-1.2 1.2l-1.2 -1.2zM210.8 324.2l1.2 1.2l-1.2 1.2l-1.2 -1.2zM222.6 315.3l1.2 1.2l-1.2 1.2l-1.2 -1.2zM199.0 323.2l1.2 1.2l-1.2 1.2l-1.2 -1.2zM220.5 316.8l1.2 1.2l-1.2 1.2l-1.2 -1.2zM202.5 322.2l1.2 1.2l-1.2 1.2l-1.2 -1.2zM214.3 316.5l1.2 1.2l-1.2 1.2l-1.2 -1.2zM205.0 316.0l1.2 1.2l-1.2 1.2l-1.2 -1.2zM269.7 318.7l1.2 1.2l-1.2 1.2l-1.2 -1.2zM199.8 311.7l1.2 1.2l-1.2 1.2l-1.2 -1.2zM204.3 322.4l1.2 1.2l-1.2 1.2l-1.2 -1.2zM203.8 320.3l1.2 1.2l-1.2 1.2l-1.2 -1.2zM218.8 317.7l1.2 1.2l-1.2 1.2l-1.2 -1.2zM215.9 319.6l1.2 1.2l-1.2 1.2l-1.2 -1.2zM239.4 321.7l1.2 1.2l-1.2 1.2l-1.2 -1.2zM215.6 315.3l1.2 1.2l-1.2 1.2l-1.2 -1.2zM204.3 302.6l1.2 1.2l-1.2 1.2l-1.2 -1.2zM358.0 321.0l1.2 1.2l-1.2 1.2l-1.2 -1.2zM204.8 310.8l1.2 1.2l-1.2 1.2l-1.2 -1.2zM205.0 310.0l1.2 1.2l-1.2 1.2l-1.2 -1.2zM205.6 322.1l1.2 1.2l-1.2 1.2l-1.2 -1.2zM264.8 321.3l1.2 1.2l-1.2 1.2l-1.2 -1.2zM231.3 317.9l1.2 1.2l-1.2 1.2l-1.2 -1.2zM218.0 321.7l1.2 1.2l-1.2 1.2l-1.2 -1.2zM228.5 321.9l1.2 1.2l-1.2 1.2l-1.2 -1.2zM209.4 315.4l1.2 1.2l-1.2 1.2l-1.2 -1.2zM230.4 319.5l1.2 1.2l-1.2 1.2l-1.2 -1.2zM208.9 319.9l1.2 1.2l-1.2 1.2l-1.2 -1.2zM205.3 321.4l1.2 1.2l-1.2 1.2l-1.2 -1.2zM202.5 315.7l1.2 1.2l-1.2 1.2l-1.2 -1.2zM228.9 317.6l1.2 1.2l-1.2 1.2l-1.2 -1.2zM206.6 321.4l1.2 1.2l-1.2 1.2l-1.2 -1.2zM244.4 317.8l1.2 1.2l-1.2 1.2l-1.2 -1.2zM246.0 318.8l1.2 1.2l-1.2 1.2l-1.2 -1.2zM197.9 324.7l1.2 1.2l-1.2 1.2l-1.2 -1.2zM213.4 316.4l1.2 1.2l-1.2 1.2l-1.2 -1.2zM290.3 319.7l1.2 1.2l-1.2 1.2l-1.2 -1.2zM206.8 314.9l1.2 1.2l-1.2 1.2l-1.2 -1.2zM333.0 321.5l1.2 1.2l-1.2 1.2l-1.2 -1.2zM221.0 320.0l1.2 1.2l-1.2 1.2l-1.2 -1.2zM204.5 306.5l1.2 1.2l-1.2 1.2l-1.2 -1.2zM228.0 320.6l1.2 1.2l-1.2 1.2l-1.2 -1.2zM198.3 316.1l1.2 1.2l-1.2 1.2l-1.2 -1.2zM199.8 305.5l1.2 1.2l-1.2 1.2l-1.2 -1.2zM198.5 305.2l1.2 1.2l-1.2 1.2l-1.2 -1.2zM198.9 316.2l1.2 1.2l-1.2 1.2l-1.2 -1.2zM198.4 320.5l1.2 1.2l-1.2 1.2l-1.2 -1.2zM246.6 321.6l1.2 1.2l-1.2 1.2l-1.2 -1.2zM248.1 317.3l1.2 1.2l-1.2 1.2l-1.2 -1.2zM218.1 317.4l1.2 1.2l-1.2 1.2l-1.2 -1.2zM206.1 304.4l1.2 1.2l-1.2 1.2l-1.2 -1.2zM328.7 320.7l1.2 1.2l-1.2 1.2l-1.2 -1.2zM201.6 318.6l1.2 1.2l-1.2 1.2l-1.2 -1.2zM199.7 318.2l1.2 1.2l-1.2 1.2l-1.2 -1.2zM234.3 319.3l1.2 1.2l-1.2 1.2l-1.2 -1.2zM240.9 320.7l1.2 1.2l-1.2 1.2l-1.2 -1.2zM205.0 309.9l1.2 1.2l-1.2 1.2l-1.2 -1.2zM200.1 301.5l1.2 1.2l-1.2 1.2l-1.2 -1.2zM232.0 317.1l1.2 1.2l-1.2 1.2l-1.2 -1.2zM208.2 324.7l1.2 1.2l-1.2 1.2l-1.2 -1.2zM211.7 317.0l1.2 1.2l-1.2 1.2l-1.2 -1.2zM272.3 320.2l1.2 1.2l-1.2 1.2l-1.2 -1.2zM202.5 321.3l1.2 1.2l-1.2 1.2l-1.2 -1.2zM202.0 316.1l1.2 1.2l-1.2 1.2l-1.2 -1.2zM228.5 322.0l1.2 1.2l-1.2 1.2l-1.2 -1.2zM203.1 313.7l1.2 1.2l-1.2 1.2l-1.2 -1.2zM210.6 323.0l1.2 1.2l-1.2 1.2l-1.2 -1.2zM223.4 320.6l1.2 1.2l-1.2 1.2l-1.2 -1.2zM217.0 320.8l1.2 1.2l-1.2 1.2l-1.2 -1.2zM220.3 317.4l1.2 1.2l-1.2 1.2l-1.2 -1.2zM214.4 320.8l1.2 1.2l-1.2 1.2l-1.2 -1.2zM222.3 317.6l1.2 1.2l-1.2 1.2l-1.2 -1.2zM284.1 321.4l1.2 1.2l-1.2 1.2l-1.2 -1.2zM249.4 319.5l1.2 1.2l-1.2 1.2l-1.2 -1.2zM223.6 316.5l1.2 1.2l-1.2 1.2l-1.2 -1.2zM257.5 318.4l1.2 1.2l-1.2 1.2l-1.2 -1.2zM204.0 321.9l1.2 1.2l-1.2 1.2l-1.2 -1.2zM284.6 320.7l1.2 1.2l-1.2 1.2l-1.2 -1.2zM227.0 320.7l1.2 1.2l-1.2 1.2l-1.2 -1.2zM222.4 316.5l1.2 1.2l-1.2 1.2l-1.2 -1.2zM209.4 308.3l1.2 1.2l-1.2 1.2l-1.2 -1.2zM210.2 312.9l1.2 1.2l-1.2 1.2l-1.2 -1.2zM213.9 316.0l1.2 1.2l-1.2 1.2l-1.2 -1.2zM197.8 320.8l1.2 1.2l-1.2 1.2l-1.2 -1.2zM198.5 305.1l1.2 1.2l-1.2 1.2l-1.2 -1.2zM223.0 316.3l1.2 1.2l-1.2 1.2l-1.2 -1.2zM198.2 311.3l1.2 1.2l-1.2 1.2l-1.2 -1.2zM207.9 323.1l1.2 1.2l-1.2 1.2l-1.2 -1.2zM218.5 315.3l1.2 1.2l-1.2 1.2l-1.2 -1.2zM204.5 302.4l1.2 1.2l-1.2 1.2l-1.2 -1.2zM204.5 316.0l1.2 1.2l-1.2 1.2l-1.2 -1.2zM283.3 321.1l1.2 1.2l-1.2 1.2l-1.2 -1.2zM215.7 323.3l1.2 1.2l-1.2 1.2l-1.2 -1.2zM206.3 323.9l1.2 1.2l-1.2 1.2l-1.2 -1.2zM212.4 313.8l1.2 1.2l-1.2 1.2l-1.2 -1.2zM198.8 323.9l1.2 1.2l-1.2 1.2l-1.2 -1.2zM205.9 314.2l1.2 1.2l-1.2 1.2l-1.2 -1.2zM203.4 323.2l1.2 1.2l-1.2 1.2l-1.2 -1.2zM214.0 319.2l1.2 1.2l-1.2 1.2l-1.2 -1.2zM211.7 313.7l1.2 1.2l-1.2 1.2l-1.2 -1.2zM202.0 301.1l1.2 1.2l-1.2 1.2l-1.2 -1.2zM226.7 321.9l1.2 1.2l-1.2 1.2l-1.2 -1.2zM199.1 306.9l1.2 1.2l-1.2 1.2l-1.2 -1.2zM225.8 320.7l1.2 1.2l-1.2 1.2l-1.2 -1.2zM200.9 305.0l1.2 1.2l-1.2 1.2l-1.2 -1.2zM227.2 321.6l1.2 1.2l-1.2 1.2l-1.2 -1.2zM239.1 318.5l1.2 1.2l-1.2 1.2l-1.2 -1.2zM200.7 315.2l1.2 1.2l-1.2 1.2l-1.2 -1.2zM201.1 321.2l1.2 1.2l-1.2 1.2l-1.2 -1.2zM220.3 318.2l1.2 1.2l-1.2 1.2l-1.2 -1.2zM215.1 320.2l1.2 1.2l-1.2 1.2l-1.2 -1.2zM199.9 312.6l1.2 1.2l-1.2 1.2l-1.2 -1.2zM341.5 321.1l1.2 1.2l-1.2 1.2l-1.2 -1.2zM202.9 318.1l1.2 1.2l-1.2 1.2l-1.2 -1.2zM206.8 305.5l1.2 1.2l-1.2 1.2l-1.2 -1.2zM200.4 311.5l1.2 1.2l-1.2 1.2l-1.2 -1.2zM205.7 307.4l1.2 1.2l-1.2 1.2l-1.2 -1.2zM209.5 312.0l1.2 1.2l-1.2 1.2l-1.2 -1.2zM202.8 308.1l1.2 1.2l-1.2 1.2l-1.2 -1.2zM221.9 317.8l1.2 1.2l-1.2 1.2l-1.2 -1.2zM212.0 323.0l1.2 1.2l-1.2 1.2l-1.2 -1.2zM231.1 320.5l1.2 1.2l-1.2 1.2l-1.2 -1.2zM202.7 319.4l1.2 1.2l-1.2 1.2l-1.2 -1.2zM201.9 306.6l1.2 1.2l-1.2 1.2l-1.2 -1.2zM358.0 321.4l1.2 1.2l-1.2 1.2l-1.2 -1.2zM203.2 309.1l1.2 1.2l-1.2 1.2l-1.2 -1.2zM329.2 319.9l1.2 1.2l-1.2 1.2l-1.2 -1.2zM199.1 314.0l1.2 1.2l-1.2 1.2l-1.2 -1.2zM236.9 318.1l1.2 1.2l-1.2 1.2l-1.2 -1.2zM204.5 307.8l1.2 1.2l-1.2 1.2l-1.2 -1.2zM256.6 320.3l1.2 1.2l-1.2 1.2l-1.2 -1.2zM313.2 321.6l1.2 1.2l-1.2 1.2l-1.2 -1.2zM209.2 317.6l1.2 1.2l-1.2 1.2l-1.2 -1.2zM215.3 313.9l1.2 1.2l-1.2 1.2l-1.2 -1.2zM273.3 320.4l1.2 1.2l-1.2 1.2l-1.2 -1.2zM206.1 310.6l1.2 1.2l-1.2 1.2l-1.2 -1.2zM282.4 318.4l1.2 1.2l-1.2 1.2l-1.2 -1.2zM202.3 301.5l1.2 1.2l-1.2 1.2l-1.2 -1.2zM217.0 318.2l1.2 1.2l-1.2 1.2l-1.2 -1.2zM228.9 321.9l1.2 1.2l-1.2 1.2l-1.2 -1.2zM214.0 324.6l1.2 1.2l-1.2 1.2l-1.2 -1.2zM202.1 314.9l1.2 1.2l-1.2 1.2l-1.2 -1.2zM198.0 324.9l1.2 1.2l-1.2 1.2l-1.2 -1.2zM207.0 311.7l1.2 1.2l-1.2 1.2l-1.2 -1.2zM202.5 318.3l1.2 1.2l-1.2 1.2l-1.2 -1.2zM200.7 302.1l1.2 1.2l-1.2 1.2l-1.2 -1.2zM203.0 319.9l1.2 1.2l-1.2 1.2l-1.2 -1.2zM297.0 321.6l1.2 1.2l-1.2 1.2l-1.2 -1.2zM200.3 323.0l1.2 1.2l-1.2 1.2l-1.2 -1.2zM253.5 318.9l1.2 1.2l-1.2 1.2l-1.2 -1.2zM215.1 322.6l1.2 1.2l-1.2 1.2l-1.2 -1.2zM204.7 318.0l1.2 1.2l-1.2 1.2l-1.2 -1.2zM199.5 303.2l1.2 1.2l-1.2 1.2l-1.2 -1.2zM215.6 317.0l1.2 1.2l-1.2 1.2l-1.2 -1.2zM200.3 323.2l1.2 1.2l-1.2 1.2l-1.2 -1.2zM232.6 317.7l1.2 1.2l-1.2 1.2l-1.2 -1.2zM219.0 316.9l1.2 1.2l-1.2 1.2l-1.2 -1.2zM199.4 315.1l1.2 1.2l-1.2 1.2l-1.2 -1.2zM221.9 316.8l1.2 1.2l-1.2 1.2l-1.2 -1.2zM296.5 320.5l1.2 1.2l-1.2 1.2l-1.2 -1.2zM226.5 316.8l1.2 1.2l-1.2 1.2l-1.2 -1.2zM203.1 308.7l1.2 1.2l-1.2 1.2l-1.2 -1.2zM226.2 319.5l1.2 1.2l-1.2 1.2l-1.2 -1.2zM204.1 311.2l1.2 1.2l-1.2 1.2l-1.2 -1.2zM201.2 303.1l1.2 1.2l-1.2 1.2l-1.2 -1.2zM225.7 318.9l1.2 1.2l-1.2 1.2l-1.2 -1.2zM214.7 318.6l1.2 1.2l-1.2 1.2l-1.2 -1.2zM199.5 324.1l1.2 1.2l-1.2 1.2l-1.2 -1.2zM205.8 318.2l1.2 1.2l-1.2 1.2l-1.2 -1.2zM204.5 309.3l1.2 1.2l-1.2 1.2l-1.2 -1.2zM201.4 310.8l1.2 1.2l-1.2 1.2l-1.2 -1.2zM296.4 319.2l1.2 1.2l-1.2 1.2l-1.2 -1.2zM212.7 313.4l1.2 1.2l-1.2 1.2l-1.2 -1.2zM260.3 319.5l1.2 1.2l-1.2 1.2l-1.2 -1.2zM201.2 310.8l1.2 1.2l-1.2 1.2l-1.2 -1.2zM199.9 317.5l1.2 1.2l-1.2 1.2l-1.2 -1.2zM201.8 306.4l1.2 1.2l-1.2 1.2l-1.2 -1.2zM199.4 307.9l1.2 1.2l-1.2 1.2l-1.2 -1.2zM201.9 305.3l1.2 1.2l-1.2 1.2l-1.2 -1.2zM207.8 315.0l1.2 1.2l-1.2 1.2l-1.2 -1.2zM205.2 319.2l1.2 1.2l-1.2 1.2l-1.2 -1.2zM203.5 316.1l1.2 1.2l-1.2 1.2l-1.2 -1.2zM206.0 308.8l1.2 1.2l-1.2 1.2l-1.2 -1.2zM238.3 319.7l1.2 1.2l-1.2 1.2l-1.2 -1.2zM259.8 318.0l1.2 1.2l-1.2 1.2l-1.2 -1.2zM218.5 316.1l1.2 1.2l-1.2 1.2l-1.2 -1.2zM202.7 307.4l1.2 1.2l-1.2 1.2l-1.2 -1.2zM202.4 302.5l1.2 1.2l-1.2 1.2l-1.2 -1.2zM209.8 317.0l1.2 1.2l-1.2 1.2l-1.2 -1.2zM203.5 322.4l1.2 1.2l-1.2 1.2l-1.2 -1.2zM212.7 315.4l1.2 1.2l-1.2 1.2l-1.2 -1.2zM205.2 302.3l1.2 1.2l-1.2 1.2l-1.2 -1.2zM199.1 315.0l1.2 1.2l-1.2 1.2l-1.2 -1.2zM229.1 317.0l1.2 1.2l-1.2 1.2l-1.2 -1.2zM206.8 323.8l1.2 1.2l-1.2 1.2l-1.2 -1.2zM202.7 311.4l1.2 1.2l-1.2 1.2l-1.2 -1.2zM260.7 319.5l1.2 1.2l-1.2 1.2l-1.2 -1.2zM213.3 322.6l1.2 1.2l-1.2 1.2l-1.2 -1.2zM245.8 318.8l1.2 1.2l-1.2 1.2l-1.2 -1.2zM198.2 311.4l1.2 1.2l-1.2 1.2l-1.2 -1.2zM202.8 322.8l1.2 1.2l-1.2 1.2l-1.2 -1.2zM226.0 321.7l1.2 1.2l-1.2 1.2l-1.2 -1.2zM204.6 309.2l1.2 1.2l-1.2 1.2l-1.2 -1.2zM198.8 317.0l1.2 1.2l-1.2 1.2l-1.2 -1.2zM234.1 321.6l1.2 1.2l-1.2 1.2l-1.2 -1.2zM207.8 313.4l1.2 1.2l-1.2 1.2l-1.2 -1.2zM224.5 317.5l1.2 1.2l-1.2 1.2l-1.2 -1.2zM209.2 308.5l1.2 1.2l-1.2 1.2l-1.2 -1.2zM214.2 313.6l1.2 1.2l-1.2 1.2l-1.2 -1.2zM215.4 314.4l1.2 1.2l-1.2 1.2l-1.2 -1.2zM206.5 321.5l1.2 1.2l-1.2 1.2l-1.2 -1.2zM207.0 315.8l1.2 1.2l-1.2 1.2l-1.2 -1.2zM219.8 321.0l1.2 1.2l-1.2 1.2l-1.2 -1.2zM203.2 319.9l1.2 1.2l-1.2 1.2l-1.2 -1.2zM200.6 310.7l1.2 1.2l-1.2 1.2l-1.2 -1.2zM208.4 317.8l1.2 1.2l-1.2 1.2l-1.2 -1.2zM259.2 320.6l1.2 1.2l-1.2 1.2l-1.2 -1.2zM210.2 323.2l1.2 1.2l-1.2 1.2l-1.2 -1.2zM358.0 320.6l1.2 1.2l-1.2 1.2l-1.2 -1.2zM252.6 322.1l1.2 1.2l-1.2 1.2l-1.2 -1.2zM203.9 318.4l1.2 1.2l-1.2 1.2l-1.2 -1.2zM198.6 310.4l1.2 1.2l-1.2 1.2l-1.2 -1.2zM208.1 305.5l1.2 1.2l-1.2 1.2l-1.2 -1.2zM236.9 319.1l1.2 1.2l-1.2 1.2l-1.2 -1.2zM271.3 320.6l1.2 1.2l-1.2 1.2l-1.2 -1.2zM305.8 321.4l1.2 1.2l-1.2 1.2l-1.2 -1.2zM212.4 314.0l1.2 1.2l-1.2 1.2l-1.2 -1.2zM203.2 302.2l1.2 1.2l-1.2 1.2l-1.2 -1.2zM216.8 323.0l1.2 1.2l-1.2 1.2l-1.2 -1.2zM205.2 308.1l1.2 1.2l-1.2 1.2l-1.2 -1.2zM232.0 319.1l1.2 1.2l-1.2 1.2l-1.2 -1.2zM202.4 308.1l1.2 1.2l-1.2 1.2l-1.2 -1.2zM202.1 306.3l1.2 1.2l-1.2 1.2l-1.2 -1.2zM202.2 312.3l1.2 1.2l-1.2 1.2l-1.2 -1.2zM263.9 320.0l1.2 1.2l-1.2 1.2l-1.2 -1.2zM203.1 315.1l1.2 1.2l-1.2 1.2l-1.2 -1.2zM199.1 303.0l1.2 1.2l-1.2 1.2l-1.2 -1.2zM205.7 305.8l1.2 1.2l-1.2 1.2l-1.2 -1.2zM216.4 322.9l1.2 1.2l-1.2 1.2l-1.2 -1.2zM199.9 324.5l1.2 1.2l-1.2 1.2l-1.2 -1.2zM231.6 318.5l1.2 1.2l-1.2 1.2l-1.2 -1.2zM219.0 322.8l1.2 1.2l-1.2 1.2l-1.2 -1.2zM292.5 318.8l1.2 1.2l-1.2 1.2l-1.2 -1.2zM210.9 319.4l1.2 1.2l-1.2 1.2l-1.2 -1.2zM213.2 314.1l1.2 1.2l-1.2 1.2l-1.2 -1.2zM216.0 316.8l1.2 1.2l-1.2 1.2l-1.2 -1.2zM202.8 322.1l1.2 1.2l-1.2 1.2l-1.2 -1.2zM218.2 321.4l1.2 1.2l-1.2 1.2l-1.2 -1.2zM199.2 304.2l1.2 1.2l-1.2 1.2l-1.2 -1.2zM211.6 325.0l1.2 1.2l-1.2 1.2l-1.2 -1.2zM206.2 309.3l1.2 1.2l-1.2 1.2l-1.2 -1.2zM205.0 312.2l1.2 1.2l-1.2 1.2l-1.2 -1.2zM228.4 318.2l1.2 1.2l-1.2 1.2l-1.2 -1.2zM197.9 316.3l1.2 1.2l-1.2 1.2l-1.2 -1.2zM200.8 313.6l1.2 1.2l-1.2 1.2l-1.2 -1.2zM202.4 311.2l1.2 1.2l-1.2 1.2l-1.2 -1.2zM211.9 319.7l1.2 1.2l-1.2 1.2l-1.2 -1.2zM206.6 305.7l1.2 1.2l-1.2 1.2l-1.2 -1.2zM210.2 323.4l1.2 1.2l-1.2 1.2l-1.2 -1.2zM200.7 315.4l1.2 1.2l-1.2 1.2l-1.2 -1.2zM206.9 324.9l1.2 1.2l-1.2 1.2l-1.2 -1.2zM232.6 320.4l1.2 1.2l-1.2 1.2l-1.2 -1.2zM209.0 310.0l1.2 1.2l-1.2 1.2l-1.2 -1.2zM228.7 321.0l1.2 1.2l-1.2 1.2l-1.2 -1.2zM266.7 319.1l1.2 1.2l-1.2 1.2l-1.2 -1.2zM268.4 318.6l1.2 1.2l-1.2 1.2l-1.2 -1.2zM203.1 306.9l1.2 1.2l-1.2 1.2l-1.2 -1.2zM202.9 324.8l1.2 1.2l-1.2 1.2l-1.2 -1.2zM203.2 315.8l1.2 1.2l-1.2 1.2l-1.2 -1.2zM208.9 320.2l1.2 1.2l-1.2 1.2l-1.2 -1.2zM204.9 304.0l1.2 1.2l-1.2 1.2l-1.2 -1.2zM199.8 324.5l1.2 1.2l-1.2 1.2l-1.2 -1.2zM202.6 309.1l1.2 1.2l-1.2 1.2l-1.2 -1.2zM209.8 312.6l1.2 1.2l-1.2 1.2l-1.2 -1.2zM251.4 319.6l1.2 1.2l-1.2 1.2l-1.2 -1.2zM269.5 322.0l1.2 1.2l-1.2 1.2l-1.2 -1.2zM229.5 318.2l1.2 1.2l-1.2 1.2l-1.2 -1.2zM272.6 318.4l1.2 1.2l-1.2 1.2l-1.2 -1.2zM205.2 310.4l1.2 1.2l-1.2 1.2l-1.2 -1.2zM223.6 316.3l1.2 1.2l-1.2 1.2l-1.2 -1.2zM202.0 312.4l1.2 1.2l-1.2 1.2l-1.2 -1.2zM204.6 302.1l1.2 1.2l-1.2 1.2l-1.2 -1.2zM260.1 319.6l1.2 1.2l-1.2 1.2l-1.2 -1.2zM224.7 320.1l1.2 1.2l-1.2 1.2l-1.2 -1.2zM200.7 317.6l1.2 1.2l-1.2 1.2l-1.2 -1.2zM239.4 320.1l1.2 1.2l-1.2 1.2l-1.2 -1.2zM211.1 317.3l1.2 1.2l-1.2 1.2l-1.2 -1.2zM224.4 320.6l1.2 1.2l-1.2 1.2l-1.2 -1.2zM203.6 323.6l1.2 1.2l-1.2 1.2l-1.2 -1.2zM199.9 320.3l1.2 1.2l-1.2 1.2l-1.2 -1.2zM200.3 301.5l1.2 1.2l-1.2 1.2l-1.2 -1.2zM261.1 320.2l1.2 1.2l-1.2 1.2l-1.2 -1.2zM215.5 318.9l1.2 1.2l-1.2 1.2l-1.2 -1.2zM203.4 312.8l1.2 1.2l-1.2 1.2l-1.2 -1.2zM220.1 321.1l1.2 1.2l-1.2 1.2l-1.2 -1.2zM202.5 307.6l1.2 1.2l-1.2 1.2l-1.2 -1.2zM226.4 316.7l1.2 1.2l-1.2 1.2l-1.2 -1.2zM233.3 317.0l1.2 1.2l-1.2 1.2l-1.2 -1.2zM225.7 316.1l1.2 1.2l-1.2 1.2l-1.2 -1.2zM210.4 317.7l1.2 1.2l-1.2 1.2l-1.2 -1.2zM252.6 320.3l1.2 1.2l-1.2 1.2l-1.2 -1.2zM212.8 314.9l1.2 1.2l-1.2 1.2l-1.2 -1.2zM203.6 323.2l1.2 1.2l-1.2 1.2l-1.2 -1.2zM272.6 320.8l1.2 1.2l-1.2 1.2l-1.2 -1.2zM208.3 318.2l1.2 1.2l-1.2 1.2l-1.2 -1.2zM201.1 315.7l1.2 1.2l-1.2 1.2l-1.2 -1.2zM198.6 318.7l1.2 1.2l-1.2 1.2l-1.2 -1.2zM216.5 321.1l1.2 1.2l-1.2 1.2l-1.2 -1.2zM211.0 310.8l1.2 1.2l-1.2 1.2l-1.2 -1.2zM208.9 317.7l1.2 1.2l-1.2 1.2l-1.2 -1.2zM206.3 310.6l1.2 1.2l-1.2 1.2l-1.2 -1.2zM202.2 300.9l1.2 1.2l-1.2 1.2l-1.2 -1.2zM254.8 318.7l1.2 1.2l-1.2 1.2l-1.2 -1.2zM227.1 321.0l1.2 1.2l-1.2 1.2l-1.2 -1.2zM198.9 318.6l1.2 1.2l-1.2 1.2l-1.2 -1.2zM207.1 319.2l1.2 1.2l-1.2 1.2l-1.2 -1.2zM204.1 301.4l1.2 1.2l-1.2 1.2l-1.2 -1.2zM204.3 317.1l1.2 1.2l-1.2 1.2l-1.2 -1.2zM221.0 318.5l1.2 1.2l-1.2 1.2l-1.2 -1.2zM216.1 315.5l1.2 1.2l-1.2 1.2l-1.2 -1.2zM209.5 316.9l1.2 1.2l-1.2 1.2l-1.2 -1.2zM224.6 319.1l1.2 1.2l-1.2 1.2l-1.2 -1.2zM202.7 304.5l1.2 1.2l-1.2 1.2l-1.2 -1.2zM209.9 309.4l1.2 1.2l-1.2 1.2l-1.2 -1.2zM212.0 319.1l1.2 1.2l-1.2 1.2l-1.2 -1.2zM232.8 317.5l1.2 1.2l-1.2 1.2l-1.2 -1.2zM276.6 321.3l1.2 1.2l-1.2 1.2l-1.2 -1.2zM229.5 321.8l1.2 1.2l-1.2 1.2l-1.2 -1.2zM205.9 306.0l1.2 1.2l-1.2 1.2l-1.2 -1.2zM270.4 318.3l1.2 1.2l-1.2 1.2l-1.2 -1.2zM201.3 302.2l1.2 1.2l-1.2 1.2l-1.2 -1.2zM200.8 311.5l1.2 1.2l-1.2 1.2l-1.2 -1.2zM201.3 304.7l1.2 1.2l-1.2 1.2l-1.2 -1.2zM223.6 317.6l1.2 1.2l-1.2 1.2l-1.2 -1.2zM213.1 319.6l1.2 1.2l-1.2 1.2l-1.2 -1.2zM201.6 317.2l1.2 1.2l-1.2 1.2l-1.2 -1.2zM202.5 318.8l1.2 1.2l-1.2 1.2l-1.2 -1.2zM203.5 309.9l1.2 1.2l-1.2 1.2l-1.2 -1.2zM218.6 321.8l1.2 1.2l-1.2 1.2l-1.2 -1.2zM210.0 314.8l1.2 1.2l-1.2 1.2l-1.2 -1.2zM210.4 322.4l1.2 1.2l-1.2 1.2l-1.2 -1.2zM199.4 308.5l1.2 1.2l-1.2 1.2l-1.2 -1.2zM226.7 316.1l1.2 1.2l-1.2 1.2l-1.2 -1.2zM203.8 318.9l1.2 1.2l-1.2 1.2l-1.2 -1.2zM250.8 319.5l1.2 1.2l-1.2 1.2l-1.2 -1.2zM215.1 317.7l1.2 1.2l-1.2 1.2l-1.2 -1.2zM218.7 318.1l1.2 1.2l-1.2 1.2l-1.2 -1.2zM242.9 319.7l1.2 1.2l-1.2 1.2l-1.2 -1.2zM199.1 318.3l1.2 1.2l-1.2 1.2l-1.2 -1.2zM243.9 318.1l1.2 1.2l-1.2 1.2l-1.2 -1.2zM249.1 319.1l1.2 1.2l-1.2 1.2l-1.2 -1.2zM220.1 316.0l1.2 1.2l-1.2 1.2l-1.2 -1.2zM289.9 318.6l1.2 1.2l-1.2 1.2l-1.2 -1.2zM208.5 308.8l1.2 1.2l-1.2 1.2l-1.2 -1.2zM206.6 322.0l1.2 1.2l-1.2 1.2l-1.2 -1.2zM202.6 307.8l1.2 1.2l-1.2 1.2l-1.2 -1.2zM328.4 320.5l1.2 1.2l-1.2 1.2l-1.2 -1.2zM198.7 306.7l1.2 1.2l-1.2 1.2l-1.2 -1.2zM200.0 319.1l1.2 1.2l-1.2 1.2l-1.2 -1.2zM206.9 322.8l1.2 1.2l-1.2 1.2l-1.2 -1.2zM205.9 308.8l1.2 1.2l-1.2 1.2l-1.2 -1.2zM242.2 318.8l1.2 1.2l-1.2 1.2l-1.2 -1.2zM201.1 323.1l1.2 1.2l-1.2 1.2l-1.2 -1.2zM210.7 315.0l1.2 1.2l-1.2 1.2l-1.2 -1.2zM201.1 302.7l1.2 1.2l-1.2 1.2l-1.2 -1.2zM204.4 321.4l1.2 1.2l-1.2 1.2l-1.2 -1.2zM284.7 321.4l1.2 1.2l-1.2 1.2l-1.2 -1.2zM207.3 305.1l1.2 1.2l-1.2 1.2l-1.2 -1.2zM198.5 317.7l1.2 1.2l-1.2 1.2l-1.2 -1.2zM220.3 316.5l1.2 1.2l-1.2 1.2l-1.2 -1.2zM205.2 324.0l1.2 1.2l-1.2 1.2l-1.2 -1.2zM206.3 320.4l1.2 1.2l-1.2 1.2l-1.2 -1.2zM202.9 321.4l1.2 1.2l-1.2 1.2l-1.2 -1.2zM200.4 308.1l1.2 1.2l-1.2 1.2l-1.2 -1.2zM206.3 318.1l1.2 1.2l-1.2 1.2l-1.2 -1.2zM228.3 322.6l1.2 1.2l-1.2 1.2l-1.2 -1.2zM229.9 320.6l1.2 1.2l-1.2 1.2l-1.2 -1.2zM209.5 311.7l1.2 1.2l-1.2 1.2l-1.2 -1.2zM203.2 308.9l1.2 1.2l-1.2 1.2l-1.2 -1.2zM294.7 322.0l1.2 1.2l-1.2 1.2l-1.2 -1.2zM201.5 322.2l1.2 1.2l-1.2 1.2l-1.2 -1.2zM220.2 318.9l1.2 1.2l-1.2 1.2l-1.2 -1.2zM199.2 319.4l1.2 1.2l-1.2 1.2l-1.2 -1.2zM276.3 320.1l1.2 1.2l-1.2 1.2l-1.2 -1.2zM203.2 305.1l1.2 1.2l-1.2 1.2l-1.2 -1.2zM198.0 318.5l1.2 1.2l-1.2 1.2l-1.2 -1.2zM230.9 320.8l1.2 1.2l-1.2 1.2l-1.2 -1.2zM205.5 317.0l1.2 1.2l-1.2 1.2l-1.2 -1.2zM242.2 317.0l1.2 1.2l-1.2 1.2l-1.2 -1.2zM204.9 314.7l1.2 1.2l-1.2 1.2l-1.2 -1.2zM213.9 322.2l1.2 1.2l-1.2 1.2l-1.2 -1.2zM219.3 322.6l1.2 1.2l-1.2 1.2l-1.2 -1.2zM274.6 319.7l1.2 1.2l-1.2 1.2l-1.2 -1.2zM222.1 319.0l1.2 1.2l-1.2 1.2l-1.2 -1.2zM206.3 314.4l1.2 1.2l-1.2 1.2l-1.2 -1.2zM205.5 323.3l1.2 1.2l-1.2 1.2l-1.2 -1.2zM225.7 318.3l1.2 1.2l-1.2 1.2l-1.2 -1.2zM257.6 321.7l1.2 1.2l-1.2 1.2l-1.2 -1.2zM222.4 320.6l1.2 1.2l-1.2 1.2l-1.2 -1.2zM211.4 322.5l1.2 1.2l-1.2 1.2l-1.2 -1.2zM209.5 318.6l1.2 1.2l-1.2 1.2l-1.2 -1.2zM213.7 315.4l1.2 1.2l-1.2 1.2l-1.2 -1.2zM217.1 317.9l1.2 1.2l-1.2 1.2l-1.2 -1.2zM198.5 306.3l1.2 1.2l-1.2 1.2l-1.2 -1.2zM199.6 305.8l1.2 1.2l-1.2 1.2l-1.2 -1.2zM218.7 317.1l1.2 1.2l-1.2 1.2l-1.2 -1.2zM204.7 302.1l1.2 1.2l-1.2 1.2l-1.2 -1.2zM201.6 308.6l1.2 1.2l-1.2 1.2l-1.2 -1.2zM212.5 319.0l1.2 1.2l-1.2 1.2l-1.2 -1.2zM212.7 315.4l1.2 1.2l-1.2 1.2l-1.2 -1.2zM242.3 320.5l1.2 1.2l-1.2 1.2l-1.2 -1.2zM215.9 321.8l1.2 1.2l-1.2 1.2l-1.2 -1.2zM259.8 322.1l1.2 1.2l-1.2 1.2l-1.2 -1.2zM224.5 318.0l1.2 1.2l-1.2 1.2l-1.2 -1.2zM203.4 317.6l1.2 1.2l-1.2 1.2l-1.2 -1.2zM279.2 320.9l1.2 1.2l-1.2 1.2l-1.2 -1.2zM203.4 318.1l1.2 1.2l-1.2 1.2l-1.2 -1.2zM204.8 323.6l1.2 1.2l-1.2 1.2l-1.2 -1.2zM204.7 311.2l1.2 1.2l-1.2 1.2l-1.2 -1.2zM201.2 319.3l1.2 1.2l-1.2 1.2l-1.2 -1.2zM253.0 319.0l1.2 1.2l-1.2 1.2l-1.2 -1.2zM201.1 319.3l1.2 1.2l-1.2 1.2l-1.2 -1.2zM212.2 317.4l1.2 1.2l-1.2 1.2l-1.2 -1.2zM201.6 313.5l1.2 1.2l-1.2 1.2l-1.2 -1.2zM292.2 321.3l1.2 1.2l-1.2 1.2l-1.2 -1.2zM201.3 323.2l1.2 1.2l-1.2 1.2l-1.2 -1.2zM297.0 319.2l1.2 1.2l-1.2 1.2l-1.2 -1.2zM205.3 301.7l1.2 1.2l-1.2 1.2l-1.2 -1.2zM216.7 318.3l1.2 1.2l-1.2 1.2l-1.2 -1.2zM207.1 316.0l1.2 1.2l-1.2 1.2l-1.2 -1.2zM199.5 303.5l1.2 1.2l-1.2 1.2l-1.2 -1.2zM238.8 317.4l1.2 1.2l-1.2 1.2l-1.2 -1.2zM246.8 319.2l1.2 1.2l-1.2 1.2l-1.2 -1.2zM209.6 313.0l1.2 1.2l-1.2 1.2l-1.2 -1.2zM230.2 317.2l1.2 1.2l-1.2 1.2l-1.2 -1.2zM210.4 320.2l1.2 1.2l-1.2 1.2l-1.2 -1.2zM206.0 313.9l1.2 1.2l-1.2 1.2l-1.2 -1.2zM202.2 318.2l1.2 1.2l-1.2 1.2l-1.2 -1.2zM270.2 321.7l1.2 1.2l-1.2 1.2l-1.2 -1.2zM202.0 321.7l1.2 1.2l-1.2 1.2l-1.2 -1.2zM291.9 320.7l1.2 1.2l-1.2 1.2l-1.2 -1.2zM201.6 316.3l1.2 1.2l-1.2 1.2l-1.2 -1.2zM277.3 321.3l1.2 1.2l-1.2 1.2l-1.2 -1.2zM206.2 303.9l1.2 1.2l-1.2 1.2l-1.2 -1.2zM199.3 305.1l1.2 1.2l-1.2 1.2l-1.2 -1.2zM198.8 318.3l1.2 1.2l-1.2 1.2l-1.2 -1.2zM260.6 321.2l1.2 1.2l-1.2 1.2l-1.2 -1.2zM212.5 315.8l1.2 1.2l-1.2 1.2l-1.2 -1.2zM202.8 313.6l1.2 1.2l-1.2 1.2l-1.2 -1.2zM205.8 307.1l1.2 1.2l-1.2 1.2l-1.2 -1.2zM351.4 321.4l1.2 1.2l-1.2 1.2l-1.2 -1.2zM279.9 319.7l1.2 1.2l-1.2 1.2l-1.2 -1.2zM227.4 317.1l1.2 1.2l-1.2 1.2l-1.2 -1.2zM212.7 318.2l1.2 1.2l-1.2 1.2l-1.2 -1.2zM199.2 305.7l1.2 1.2l-1.2 1.2l-1.2 -1.2zM224.4 319.0l1.2 1.2l-1.2 1.2l-1.2 -1.2zM234.2 319.9l1.2 1.2l-1.2 1.2l-1.2 -1.2zM203.9 311.6l1.2 1.2l-1.2 1.2l-1.2 -1.2zM202.0 307.1l1.2 1.2l-1.2 1.2l-1.2 -1.2zM198.3 309.1l1.2 1.2l-1.2 1.2l-1.2 -1.2zM245.9 317.7l1.2 1.2l-1.2 1.2l-1.2 -1.2zM199.7 323.3l1.2 1.2l-1.2 1.2l-1.2 -1.2zM224.5 322.7l1.2 1.2l-1.2 1.2l-1.2 -1.2zM208.5 319.6l1.2 1.2l-1.2 1.2l-1.2 -1.2zM199.2 308.3l1.2 1.2l-1.2 1.2l-1.2 -1.2zM200.6 319.6l1.2 1.2l-1.2 1.2l-1.2 -1.2zM207.0 316.9l1.2 1.2l-1.2 1.2l-1.2 -1.2zM202.2 316.4l1.2 1.2l-1.2 1.2l-1.2 -1.2zM200.5 321.1l1.2 1.2l-1.2 1.2l-1.2 -1.2zM206.8 309.9l1.2 1.2l-1.2 1.2l-1.2 -1.2zM198.8 322.6l1.2 1.2l-1.2 1.2l-1.2 -1.2zM202.2 313.0l1.2 1.2l-1.2 1.2l-1.2 -1.2zM202.8 308.8l1.2 1.2l-1.2 1.2l-1.2 -1.2zM198.9 323.2l1.2 1.2l-1.2 1.2l-1.2 -1.2zM271.4 319.2l1.2 1.2l-1.2 1.2l-1.2 -1.2zM221.2 319.5l1.2 1.2l-1.2 1.2l-1.2 -1.2zM221.6 322.9l1.2 1.2l-1.2 1.2l-1.2 -1.2zM206.7 311.0l1.2 1.2l-1.2 1.2l-1.2 -1.2zM200.9 312.0l1.2 1.2l-1.2 1.2l-1.2 -1.2zM291.8 321.2l1.2 1.2l-1.2 1.2l-1.2 -1.2zM215.1 315.3l1.2 1.2l-1.2 1.2l-1.2 -1.2zM204.4 315.9l1.2 1.2l-1.2 1.2l-1.2 -1.2zM199.8 316.4l1.2 1.2l-1.2 1.2l-1.2 -1.2zM217.1 324.0l1.2 1.2l-1.2 1.2l-1.2 -1.2zM201.2 306.5l1.2 1.2l-1.2 1.2l-1.2 -1.2zM201.8 311.8l1.2 1.2l-1.2 1.2l-1.2 -1.2zM232.2 321.8l1.2 1.2l-1.2 1.2l-1.2 -1.2zM204.6 322.5l1.2 1.2l-1.2 1.2l-1.2 -1.2zM200.0 320.4l1.2 1.2l-1.2 1.2l-1.2 -1.2zM205.8 303.8l1.2 1.2l-1.2 1.2l-1.2 -1.2zM210.2 309.4l1.2 1.2l-1.2 1.2l-1.2 -1.2zM201.9 307.6l1.2 1.2l-1.2 1.2l-1.2 -1.2zM203.6 306.9l1.2 1.2l-1.2 1.2l-1.2 -1.2zM211.3 310.9l1.2 1.2l-1.2 1.2l-1.2 -1.2zM215.0 322.6l1.2 1.2l-1.2 1.2l-1.2 -1.2zM201.3 312.5l1.2 1.2l-1.2 1.2l-1.2 -1.2zM201.0 318.3l1.2 1.2l-1.2 1.2l-1.2 -1.2zM223.9 320.6l1.2 1.2l-1.2 1.2l-1.2 -1.2zM223.9 320.8l1.2 1.2l-1.2 1.2l-1.2 -1.2zM203.8 304.6l1.2 1.2l-1.2 1.2l-1.2 -1.2zM201.1 313.5l1.2 1.2l-1.2 1.2l-1.2 -1.2zM199.3 308.7l1.2 1.2l-1.2 1.2l-1.2 -1.2zM200.2 318.6l1.2 1.2l-1.2 1.2l-1.2 -1.2zM197.8 321.0l1.2 1.2l-1.2 1.2l-1.2 -1.2zM216.2 313.8l1.2 1.2l-1.2 1.2l-1.2 -1.2zM205.2 324.3l1.2 1.2l-1.2 1.2l-1.2 -1.2zM208.4 322.6l1.2 1.2l-1.2 1.2l-1.2 -1.2zM205.3 309.0l1.2 1.2l-1.2 1.2l-1.2 -1.2zM204.6 323.6l1.2 1.2l-1.2 1.2l-1.2 -1.2zM219.3 316.8l1.2 1.2l-1.2 1.2l-1.2 -1.2zM287.4 319.3l1.2 1.2l-1.2 1.2l-1.2 -1.2zM200.3 307.5l1.2 1.2l-1.2 1.2l-1.2 -1.2zM205.0 317.1l1.2 1.2l-1.2 1.2l-1.2 -1.2zM205.1 322.9l1.2 1.2l-1.2 1.2l-1.2 -1.2zM202.8 307.0l1.2 1.2l-1.2 1.2l-1.2 -1.2zM215.6 313.9l1.2 1.2l-1.2 1.2l-1.2 -1.2zM217.5 319.4l1.2 1.2l-1.2 1.2l-1.2 -1.2zM204.6 319.0l1.2 1.2l-1.2 1.2l-1.2 -1.2zM199.6 308.4l1.2 1.2l-1.2 1.2l-1.2 -1.2zM200.5 310.6l1.2 1.2l-1.2 1.2l-1.2 -1.2zM208.8 325.1l1.2 1.2l-1.2 1.2l-1.2 -1.2zM203.0 311.2l1.2 1.2l-1.2 1.2l-1.2 -1.2zM201.1 315.4l1.2 1.2l-1.2 1.2l-1.2 -1.2zM198.8 304.6l1.2 1.2l-1.2 1.2l-1.2 -1.2zM227.6 322.2l1.2 1.2l-1.2 1.2l-1.2 -1.2zM216.9 316.5l1.2 1.2l-1.2 1.2l-1.2 -1.2zM256.6 321.4l1.2 1.2l-1.2 1.2l-1.2 -1.2zM202.6 302.1l1.2 1.2l-1.2 1.2l-1.2 -1.2zM204.1 313.2l1.2 1.2l-1.2 1.2l-1.2 -1.2zM219.4 319.3l1.2 1.2l-1.2 1.2l-1.2 -1.2zM221.4 315.5l1.2 1.2l-1.2 1.2l-1.2 -1.2zM232.1 320.1l1.2 1.2l-1.2 1.2l-1.2 -1.2zM218.1 319.4l1.2 1.2l-1.2 1.2l-1.2 -1.2zM215.4 321.0l1.2 1.2l-1.2 1.2l-1.2 -1.2zM234.0 321.1l1.2 1.2l-1.2 1.2l-1.2 -1.2zM213.2 323.8l1.2 1.2l-1.2 1.2l-1.2 -1.2zM211.4 312.6l1.2 1.2l-1.2 1.2l-1.2 -1.2zM202.2 309.4l1.2 1.2l-1.2 1.2l-1.2 -1.2zM210.7 313.6l1.2 1.2l-1.2 1.2l-1.2 -1.2zM208.8 320.9l1.2 1.2l-1.2 1.2l-1.2 -1.2zM209.0 319.5l1.2 1.2l-1.2 1.2l-1.2 -1.2zM200.7 321.3l1.2 1.2l-1.2 1.2l-1.2 -1.2zM203.0 318.8l1.2 1.2l-1.2 1.2l-1.2 -1.2zM214.4 317.2l1.2 1.2l-1.2 1.2l-1.2 -1.2zM253.7 318.6l1.2 1.2l-1.2 1.2l-1.2 -1.2zM206.7 309.7l1.2 1.2l-1.2 1.2l-1.2 -1.2zM214.1 321.8l1.2 1.2l-1.2 1.2l-1.2 -1.2zM205.6 319.0l1.2 1.2l-1.2 1.2l-1.2 -1.2zM272.0 320.5l1.2 1.2l-1.2 1.2l-1.2 -1.2zM203.6 303.5l1.2 1.2l-1.2 1.2l-1.2 -1.2zM237.3 321.9l1.2 1.2l-1.2 1.2l-1.2 -1.2zM202.7 313.1l1.2 1.2l-1.2 1.2l-1.2 -1.2zM230.1 321.2l1.2 1.2l-1.2 1.2l-1.2 -1.2zM267.8 318.2l1.2 1.2l-1.2 1.2l-1.2 -1.2zM220.6 320.3l1.2 1.2l-1.2 1.2l-1.2 -1.2zM214.9 313.3l1.2 1.2l-1.2 1.2l-1.2 -1.2zM256.4 321.2l1.2 1.2l-1.2 1.2l-1.2 -1.2zM207.0 315.7l1.2 1.2l-1.2 1.2l-1.2 -1.2zM271.6 321.9l1.2 1.2l-1.2 1.2l-1.2 -1.2zM222.4 316.7l1.2 1.2l-1.2 1.2l-1.2 -1.2zM201.6 319.5l1.2 1.2l-1.2 1.2l-1.2 -1.2zM205.5 305.3l1.2 1.2l-1.2 1.2l-1.2 -1.2zM200.9 301.8l1.2 1.2l-1.2 1.2l-1.2 -1.2zM209.6 316.0l1.2 1.2l-1.2 1.2l-1.2 -1.2zM205.2 316.3l1.2 1.2l-1.2 1.2l-1.2 -1.2zM207.7 313.3l1.2 1.2l-1.2 1.2l-1.2 -1.2zM225.4 320.3l1.2 1.2l-1.2 1.2l-1.2 -1.2zM208.3 318.0l1.2 1.2l-1.2 1.2l-1.2 -1.2zM202.5 303.7l1.2 1.2l-1.2 1.2l-1.2 -1.2zM285.2 319.2l1.2 1.2l-1.2 1.2l-1.2 -1.2zM209.6 310.2l1.2 1.2l-1.2 1.2l-1.2 -1.2zM201.6 303.6l1.2 1.2l-1.2 1.2l-1.2 -1.2zM201.3 314.0l1.2 1.2l-1.2 1.2l-1.2 -1.2zM226.2 317.9l1.2 1.2l-1.2 1.2l-1.2 -1.2zM199.5 321.4l1.2 1.2l-1.2 1.2l-1.2 -1.2zM262.6 317.9l1.2 1.2l-1.2 1.2l-1.2 -1.2zM254.2 321.3l1.2 1.2l-1.2 1.2l-1.2 -1.2zM226.9 320.8l1.2 1.2l-1.2 1.2l-1.2 -1.2zM208.3 323.7l1.2 1.2l-1.2 1.2l-1.2 -1.2zM241.8 321.7l1.2 1.2l-1.2 1.2l-1.2 -1.2zM199.1 313.1l1.2 1.2l-1.2 1.2l-1.2 -1.2zM204.3 306.5l1.2 1.2l-1.2 1.2l-1.2 -1.2zM304.7 319.2l1.2 1.2l-1.2 1.2l-1.2 -1.2zM207.6 314.3l1.2 1.2l-1.2 1.2l-1.2 -1.2zM200.6 320.1l1.2 1.2l-1.2 1.2l-1.2 -1.2zM251.3 321.1l1.2 1.2l-1.2 1.2l-1.2 -1.2zM199.9 310.4l1.2 1.2l-1.2 1.2l-1.2 -1.2zM262.8 319.3l1.2 1.2l-1.2 1.2l-1.2 -1.2zM199.3 318.0l1.2 1.2l-1.2 1.2l-1.2 -1.2zM254.6 322.1l1.2 1.2l-1.2 1.2l-1.2 -1.2zM285.6 320.2l1.2 1.2l-1.2 1.2l-1.2 -1.2zM209.5 312.1l1.2 1.2l-1.2 1.2l-1.2 -1.2zM243.1 321.0l1.2 1.2l-1.2 1.2l-1.2 -1.2zM215.4 319.4l1.2 1.2l-1.2 1.2l-1.2 -1.2zM198.9 311.4l1.2 1.2l-1.2 1.2l-1.2 -1.2zM210.8 317.8l1.2 1.2l-1.2 1.2l-1.2 -1.2zM295.8 321.5l1.2 1.2l-1.2 1.2l-1.2 -1.2zM244.0 319.8l1.2 1.2l-1.2 1.2l-1.2 -1.2zM233.8 319.1l1.2 1.2l-1.2 1.2l-1.2 -1.2zM215.0 319.4l1.2 1.2l-1.2 1.2l-1.2 -1.2zM209.4 321.8l1.2 1.2l-1.2 1.2l-1.2 -1.2zM212.8 316.1l1.2 1.2l-1.2 1.2l-1.2 -1.2zM200.1 319.9l1.2 1.2l-1.2 1.2l-1.2 -1.2zM356.0 320.5l1.2 1.2l-1.2 1.2l-1.2 -1.2zM355.7 321.6l1.2 1.2l-1.2 1.2l-1.2 -1.2zM214.2 312.9l1.2 1.2l-1.2 1.2l-1.2 -1.2zM208.5 315.0l1.2 1.2l-1.2 1.2l-1.2 -1.2zM217.4 318.5l1.2 1.2l-1.2 1.2l-1.2 -1.2zM210.5 323.8l1.2 1.2l-1.2 1.2l-1.2 -1.2zM266.4 321.0l1.2 1.2l-1.2 1.2l-1.2 -1.2zM199.3 304.8l1.2 1.2l-1.2 1.2l-1.2 -1.2zM212.9 317.5l1.2 1.2l-1.2 1.2l-1.2 -1.2zM225.9 317.0l1.2 1.2l-1.2 1.2l-1.2 -1.2zM205.3 316.1l1.2 1.2l-1.2 1.2l-1.2 -1.2zM264.9 318.1l1.2 1.2l-1.2 1.2l-1.2 -1.2zM270.7 320.3l1.2 1.2l-1.2 1.2l-1.2 -1.2zM210.3 311.8l1.2 1.2l-1.2 1.2l-1.2 -1.2zM206.2 302.8l1.2 1.2l-1.2 1.2l-1.2 -1.2zM200.6 306.0l1.2 1.2l-1.2 1.2l-1.2 -1.2zM207.5 319.1l1.2 1.2l-1.2 1.2l-1.2 -1.2zM248.1 320.6l1.2 1.2l-1.2 1.2l-1.2 -1.2zM206.2 324.3l1.2 1.2l-1.2 1.2l-1.2 -1.2zM210.0 320.2l1.2 1.2l-1.2 1.2l-1.2 -1.2zM200.6 302.5l1.2 1.2l-1.2 1.2l-1.2 -1.2zM218.6 319.1l1.2 1.2l-1.2 1.2l-1.2 -1.2zM260.4 319.3l1.2 1.2l-1.2 1.2l-1.2 -1.2zM255.6 317.7l1.2 1.2l-1.2 1.2l-1.2 -1.2zM222.4 322.8l1.2 1.2l-1.2 1.2l-1.2 -1.2zM213.8 312.9l1.2 1.2l-1.2 1.2l-1.2 -1.2zM234.6 319.6l1.2 1.2l-1.2 1.2l-1.2 -1.2zM201.5 311.6l1.2 1.2l-1.2 1.2l-1.2 -1.2zM203.7 309.9l1.2 1.2l-1.2 1.2l-1.2 -1.2zM250.7 321.9l1.2 1.2l-1.2 1.2l-1.2 -1.2zM244.3 318.9l1.2 1.2l-1.2 1.2l-1.2 -1.2zM199.8 302.8l1.2 1.2l-1.2 1.2l-1.2 -1.2zM202.0 321.0l1.2 1.2l-1.2 1.2l-1.2 -1.2zM240.4 322.2l1.2 1.2l-1.2 1.2l-1.2 -1.2zM202.7 324.6l1.2 1.2l-1.2 1.2l-1.2 -1.2zM200.7 314.7l1.2 1.2l-1.2 1.2l-1.2 -1.2zM206.7 323.1l1.2 1.2l-1.2 1.2l-1.2 -1.2zM208.6 323.0l1.2 1.2l-1.2 1.2l-1.2 -1.2zM200.7 314.7l1.2 1.2l-1.2 1.2l-1.2 -1.2zM203.8 303.5l1.2 1.2l-1.2 1.2l-1.2 -1.2zM210.6 320.2l1.2 1.2l-1.2 1.2l-1.2 -1.2zM216.2 315.1l1.2 1.2l-1.2 1.2l-1.2 -1.2zM212.5 321.0l1.2 1.2l-1.2 1.2l-1.2 -1.2zM241.7 320.8l1.2 1.2l-1.2 1.2l-1.2 -1.2zM212.2 311.7l1.2 1.2l-1.2 1.2l-1.2 -1.2zM204.0 318.6l1.2 1.2l-1.2 1.2l-1.2 -1.2zM218.8 320.4l1.2 1.2l-1.2 1.2l-1.2 -1.2zM206.3 322.2l1.2 1.2l-1.2 1.2l-1.2 -1.2zM203.0 305.1l1.2 1.2l-1.2 1.2l-1.2 -1.2zM206.1 308.3l1.2 1.2l-1.2 1.2l-1.2 -1.2zM204.9 309.5l1.2 1.2l-1.2 1.2l-1.2 -1.2zM287.8 320.9l1.2 1.2l-1.2 1.2l-1.2 -1.2zM201.4 308.5l1.2 1.2l-1.2 1.2l-1.2 -1.2zM201.9 309.4l1.2 1.2l-1.2 1.2l-1.2 -1.2zM202.5 307.1l1.2 1.2l-1.2 1.2l-1.2 -1.2zM249.0 320.0l1.2 1.2l-1.2 1.2l-1.2 -1.2zM225.8 320.4l1.2 1.2l-1.2 1.2l-1.2 -1.2zM203.0 305.3l1.2 1.2l-1.2 1.2l-1.2 -1.2zM202.4 312.6l1.2 1.2l-1.2 1.2l-1.2 -1.2zM208.2 320.9l1.2 1.2l-1.2 1.2l-1.2 -1.2zM214.1 320.3l1.2 1.2l-1.2 1.2l-1.2 -1.2zM255.1 317.5l1.2 1.2l-1.2 1.2l-1.2 -1.2zM213.5 322.2l1.2 1.2l-1.2 1.2l-1.2 -1.2zM210.0 319.4l1.2 1.2l-1.2 1.2l-1.2 -1.2zM200.2 320.9l1.2 1.2l-1.2 1.2l-1.2 -1.2zM268.6 319.1l1.2 1.2l-1.2 1.2l-1.2 -1.2zM203.2 318.3l1.2 1.2l-1.2 1.2l-1.2 -1.2zM206.1 311.8l1.2 1.2l-1.2 1.2l-1.2 -1.2zM206.3 306.4l1.2 1.2l-1.2 1.2l-1.2 -1.2zM209.3 319.5l1.2 1.2l-1.2 1.2l-1.2 -1.2zM358.0 321.2l1.2 1.2l-1.2 1.2l-1.2 -1.2zM201.0 319.2l1.2 1.2l-1.2 1.2l-1.2 -1.2zM200.0 311.6l1.2 1.2l-1.2 1.2l-1.2 -1.2zM228.9 322.6l1.2 1.2l-1.2 1.2l-1.2 -1.2zM219.9 319.1l1.2 1.2l-1.2 1.2l-1.2 -1.2zM203.7 323.6l1.2 1.2l-1.2 1.2l-1.2 -1.2zM221.1 319.7l1.2 1.2l-1.2 1.2l-1.2 -1.2zM212.8 319.9l1.2 1.2l-1.2 1.2l-1.2 -1.2zM263.7 319.6l1.2 1.2l-1.2 1.2l-1.2 -1.2zM213.8 312.5l1.2 1.2l-1.2 1.2l-1.2 -1.2zM272.2 321.2l1.2 1.2l-1.2 1.2l-1.2 -1.2zM202.2 304.1l1.2 1.2l-1.2 1.2l-1.2 -1.2zM203.2 321.9l1.2 1.2l-1.2 1.2l-1.2 -1.2zM206.1 322.0l1.2 1.2l-1.2 1.2l-1.2 -1.2zM203.1 312.0l1.2 1.2l-1.2 1.2l-1.2 -1.2zM246.4 320.0l1.2 1.2l-1.2 1.2l-1.2 -1.2zM206.8 309.0l1.2 1.2l-1.2 1.2l-1.2 -1.2zM213.4 321.2l1.2 1.2l-1.2 1.2l-1.2 -1.2zM204.4 317.3l1.2 1.2l-1.2 1.2l-1.2 -1.2zM213.3 324.8l1.2 1.2l-1.2 1.2l-1.2 -1.2zM233.6 318.1l1.2 1.2l-1.2 1.2l-1.2 -1.2zM332.2 319.9l1.2 1.2l-1.2 1.2l-1.2 -1.2zM353.3 321.7l1.2 1.2l-1.2 1.2l-1.2 -1.2zM207.5 316.3l1.2 1.2l-1.2 1.2l-1.2 -1.2zM200.9 300.5l1.2 1.2l-1.2 1.2l-1.2 -1.2zM204.6 300.4l1.2 1.2l-1.2 1.2l-1.2 -1.2zM203.2 298.5l1.2 1.2l-1.2 1.2l-1.2 -1.2zM211.0 306.0l1.2 1.2l-1.2 1.2l-1.2 -1.2zM200.8 300.6l1.2 1.2l-1.2 1.2l-1.2 -1.2zM200.7 299.0l1.2 1.2l-1.2 1.2l-1.2 -1.2zM207.9 299.8l1.2 1.2l-1.2 1.2l-1.2 -1.2zM197.9 308.8l1.2 1.2l-1.2 1.2l-1.2 -1.2zM205.7 301.5l1.2 1.2l-1.2 1.2l-1.2 -1.2zM198.3 300.4l1.2 1.2l-1.2 1.2l-1.2 -1.2zM206.9 295.7l1.2 1.2l-1.2 1.2l-1.2 -1.2zM199.7 297.2l1.2 1.2l-1.2 1.2l-1.2 -1.2zM202.2 300.6l1.2 1.2l-1.2 1.2l-1.2 -1.2zM202.2 298.6l1.2 1.2l-1.2 1.2l-1.2 -1.2zM202.8 298.3l1.2 1.2l-1.2 1.2l-1.2 -1.2zM197.9 307.3l1.2 1.2l-1.2 1.2l-1.2 -1.2zM202.9 296.3l1.2 1.2l-1.2 1.2l-1.2 -1.2zM199.9 300.8l1.2 1.2l-1.2 1.2l-1.2 -1.2zM200.9 300.8l1.2 1.2l-1.2 1.2l-1.2 -1.2zM211.2 310.0l1.2 1.2l-1.2 1.2l-1.2 -1.2zM202.5 297.3l1.2 1.2l-1.2 1.2l-1.2 -1.2zM202.7 300.4l1.2 1.2l-1.2 1.2l-1.2 -1.2zM198.4 302.6l1.2 1.2l-1.2 1.2l-1.2 -1.2zM216.4 312.0l1.2 1.2l-1.2 1.2l-1.2 -1.2zM201.1 298.7l1.2 1.2l-1.2 1.2l-1.2 -1.2zM198.7 301.5l1.2 1.2l-1.2 1.2l-1.2 -1.2zM202.0 292.7l1.2 1.2l-1.2 1.2l-1.2 -1.2zM212.3 310.2l1.2 1.2l-1.2 1.2l-1.2 -1.2zM205.8 298.1l1.2 1.2l-1.2 1.2l-1.2 -1.2zM200.9 299.6l1.2 1.2l-1.2 1.2l-1.2 -1.2zM206.8 302.7l1.2 1.2l-1.2 1.2l-1.2 -1.2zM203.3 300.4l1.2 1.2l-1.2 1.2l-1.2 -1.2zM204.4 299.5l1.2 1.2l-1.2 1.2l-1.2 -1.2zM198.2 299.9l1.2 1.2l-1.2 1.2l-1.2 -1.2zM201.7 298.9l1.2 1.2l-1.2 1.2l-1.2 -1.2zM212.4 310.4l1.2 1.2l-1.2 1.2l-1.2 -1.2zM203.8 300.4l1.2 1.2l-1.2 1.2l-1.2 -1.2zM201.4 298.7l1.2 1.2l-1.2 1.2l-1.2 -1.2zM198.3 303.3l1.2 1.2l-1.2 1.2l-1.2 -1.2zM205.7 301.8l1.2 1.2l-1.2 1.2l-1.2 -1.2zM199.6 298.7l1.2 1.2l-1.2 1.2l-1.2 -1.2zM210.2 308.7l1.2 1.2l-1.2 1.2l-1.2 -1.2zM202.2 297.2l1.2 1.2l-1.2 1.2l-1.2 -1.2zM206.4 302.0l1.2 1.2l-1.2 1.2l-1.2 -1.2zM211.3 309.2l1.2 1.2l-1.2 1.2l-1.2 -1.2zM198.5 292.9l1.2 1.2l-1.2 1.2l-1.2 -1.2zM205.6 286.8l1.2 1.2l-1.2 1.2l-1.2 -1.2zM207.8 292.0l1.2 1.2l-1.2 1.2l-1.2 -1.2zM201.3 295.9l1.2 1.2l-1.2 1.2l-1.2 -1.2zM203.9 296.8l1.2 1.2l-1.2 1.2l-1.2 -1.2zM219.5 310.3l1.2 1.2l-1.2 1.2l-1.2 -1.2zM223.0 311.6l1.2 1.2l-1.2 1.2l-1.2 -1.2zM202.6 263.9l1.2 1.2l-1.2 1.2l-1.2 -1.2zM202.6 271.6l1.2 1.2l-1.2 1.2l-1.2 -1.2zM198.7 293.6l1.2 1.2l-1.2 1.2l-1.2 -1.2zM208.0 292.1l1.2 1.2l-1.2 1.2l-1.2 -1.2zM200.0 294.8l1.2 1.2l-1.2 1.2l-1.2 -1.2zM206.0 297.8l1.2 1.2l-1.2 1.2l-1.2 -1.2zM210.0 304.8l1.2 1.2l-1.2 1.2l-1.2 -1.2zM225.0 310.8l1.2 1.2l-1.2 1.2l-1.2 -1.2zM228.0 312.3l1.2 1.2l-1.2 1.2l-1.2 -1.2zM235.0 313.3l1.2 1.2l-1.2 1.2l-1.2 -1.2z" fill="#000"/><polyline points="195.2,472.2 216.7,476.7 238.2,478.2 259.7,479.1 281.2,479.5 302.6,479.9 324.1,480.2 345.6,480.4 367.1,480.6 388.6,480.8 410.0,481.0" fill="none" stroke="#601010" stroke-width="1.2" stroke-dasharray="3.2 2.0"/><rect x="193.7" y="470.7" width="3.2" height="3.2" fill="#a62828" stroke="#6a1212" stroke-width="0.44"/><rect x="215.1" y="475.2" width="3.2" height="3.2" fill="#a62828" stroke="#6a1212" stroke-width="0.44"/><rect x="236.6" y="476.7" width="3.2" height="3.2" fill="#a62828" stroke="#6a1212" stroke-width="0.44"/><rect x="258.1" y="477.5" width="3.2" height="3.2" fill="#a62828" stroke="#6a1212" stroke-width="0.44"/><rect x="279.6" y="477.9" width="3.2" height="3.2" fill="#a62828" stroke="#6a1212" stroke-width="0.44"/><rect x="301.1" y="478.4" width="3.2" height="3.2" fill="#a62828" stroke="#6a1212" stroke-width="0.44"/><rect x="322.5" y="478.6" width="3.2" height="3.2" fill="#a62828" stroke="#6a1212" stroke-width="0.44"/><rect x="344.0" y="478.8" width="3.2" height="3.2" fill="#a62828" stroke="#6a1212" stroke-width="0.44"/><rect x="365.5" y="479.0" width="3.2" height="3.2" fill="#a62828" stroke="#6a1212" stroke-width="0.44"/><rect x="387.0" y="479.2" width="3.2" height="3.2" fill="#a62828" stroke="#6a1212" stroke-width="0.44"/><rect x="408.5" y="479.4" width="3.2" height="3.2" fill="#a62828" stroke="#6a1212" stroke-width="0.44"/><polyline points="195.2,443.1 216.7,466.7 238.2,470.5 259.7,472.9 281.2,474.4 302.6,475.2 324.1,475.9 345.6,476.5 367.1,476.9 388.6,477.4 410.0,477.6" fill="none" stroke="#4b6820" stroke-width="1.2" stroke-dasharray="3.2 2.0"/><path d="M195.2 441.4L197.0 443.1L195.2 444.9L193.5 443.1Z" fill="#74a035" stroke="#4b6820" stroke-width="0.44"/><path d="M216.7 464.9L218.5 466.7L216.7 468.4L215.0 466.7Z" fill="#74a035" stroke="#4b6820" stroke-width="0.44"/><path d="M238.2 468.8L240.0 470.5L238.2 472.3L236.4 470.5Z" fill="#74a035" stroke="#4b6820" stroke-width="0.44"/><path d="M259.7 471.1L261.4 472.9L259.7 474.6L257.9 472.9Z" fill="#74a035" stroke="#4b6820" stroke-width="0.44"/><path d="M281.2 472.6L282.9 474.4L281.2 476.1L279.4 474.4Z" fill="#74a035" stroke="#4b6820" stroke-width="0.44"/><path d="M302.6 473.5L304.4 475.2L302.6 477.0L300.9 475.2Z" fill="#74a035" stroke="#4b6820" stroke-width="0.44"/><path d="M324.1 474.1L325.9 475.9L324.1 477.6L322.4 475.9Z" fill="#74a035" stroke="#4b6820" stroke-width="0.44"/><path d="M345.6 474.8L347.4 476.5L345.6 478.3L343.8 476.5Z" fill="#74a035" stroke="#4b6820" stroke-width="0.44"/><path d="M367.1 475.2L368.8 476.9L367.1 478.7L365.3 476.9Z" fill="#74a035" stroke="#4b6820" stroke-width="0.44"/><path d="M388.6 475.6L390.3 477.4L388.6 479.1L386.8 477.4Z" fill="#74a035" stroke="#4b6820" stroke-width="0.44"/><path d="M410.0 475.8L411.8 477.6L410.0 479.4L408.3 477.6Z" fill="#74a035" stroke="#4b6820" stroke-width="0.44"/><polyline points="195.2,371.0 216.7,446.8 238.2,460.9 259.7,466.7 281.2,470.1 302.6,472.5 324.1,474.0 345.6,475.0 367.1,475.9 388.6,476.5 410.0,477.2" fill="none" stroke="#252a66" stroke-width="1.2"/><path d="M195.2 369.1L197.3 372.5L193.2 372.5Z" fill="#2f62b0" stroke="#1c3567" stroke-width="0.44"/><path d="M216.7 444.8L218.8 448.3L214.7 448.3Z" fill="#2f62b0" stroke="#1c3567" stroke-width="0.44"/><path d="M238.2 459.0L240.2 462.4L236.2 462.4Z" fill="#2f62b0" stroke="#1c3567" stroke-width="0.44"/><path d="M259.7 464.7L261.7 468.2L257.6 468.2Z" fill="#2f62b0" stroke="#1c3567" stroke-width="0.44"/><path d="M281.2 468.2L283.2 471.6L279.1 471.6Z" fill="#2f62b0" stroke="#1c3567" stroke-width="0.44"/><path d="M302.6 470.5L304.7 474.0L300.6 474.0Z" fill="#2f62b0" stroke="#1c3567" stroke-width="0.44"/><path d="M324.1 472.0L326.2 475.5L322.1 475.5Z" fill="#2f62b0" stroke="#1c3567" stroke-width="0.44"/><path d="M345.6 473.1L347.6 476.5L343.6 476.5Z" fill="#2f62b0" stroke="#1c3567" stroke-width="0.44"/><path d="M367.1 473.9L369.1 477.4L365.0 477.4Z" fill="#2f62b0" stroke="#1c3567" stroke-width="0.44"/><path d="M388.6 474.6L390.6 478.0L386.5 478.0Z" fill="#2f62b0" stroke="#1c3567" stroke-width="0.44"/><path d="M410.0 475.2L412.1 478.7L408.0 478.7Z" fill="#2f62b0" stroke="#1c3567" stroke-width="0.44"/><polyline points="195.2,375.3 216.7,446.8 238.2,460.9 259.7,466.7 281.2,470.1 302.6,472.5 324.1,474.0 345.6,475.0 367.1,475.9 388.6,476.5 410.0,477.2" fill="none" stroke="#252a66" stroke-width="1.2"/><circle cx="195.2" cy="375.3" r="1.45" fill="#6a4ca8" stroke="#2a1850" stroke-width="0.62"/><circle cx="216.7" cy="446.8" r="1.45" fill="#6a4ca8" stroke="#2a1850" stroke-width="0.62"/><circle cx="238.2" cy="460.9" r="1.45" fill="#6a4ca8" stroke="#2a1850" stroke-width="0.62"/><circle cx="259.7" cy="466.7" r="1.45" fill="#6a4ca8" stroke="#2a1850" stroke-width="0.62"/><circle cx="281.2" cy="470.1" r="1.45" fill="#6a4ca8" stroke="#2a1850" stroke-width="0.62"/><circle cx="302.6" cy="472.5" r="1.45" fill="#6a4ca8" stroke="#2a1850" stroke-width="0.62"/><circle cx="324.1" cy="474.0" r="1.45" fill="#6a4ca8" stroke="#2a1850" stroke-width="0.62"/><circle cx="345.6" cy="475.0" r="1.45" fill="#6a4ca8" stroke="#2a1850" stroke-width="0.62"/><circle cx="367.1" cy="475.9" r="1.45" fill="#6a4ca8" stroke="#2a1850" stroke-width="0.62"/><circle cx="388.6" cy="476.5" r="1.45" fill="#6a4ca8" stroke="#2a1850" stroke-width="0.62"/><circle cx="410.0" cy="477.2" r="1.45" fill="#6a4ca8" stroke="#2a1850" stroke-width="0.62"/><path d="M196.7 450.6l1.2 1.2l-1.2 1.2l-1.2 -1.2zM198.4 454.7l1.2 1.2l-1.2 1.2l-1.2 -1.2zM206.8 466.4l1.2 1.2l-1.2 1.2l-1.2 -1.2zM263.1 475.9l1.2 1.2l-1.2 1.2l-1.2 -1.2zM199.1 441.1l1.2 1.2l-1.2 1.2l-1.2 -1.2zM235.8 475.0l1.2 1.2l-1.2 1.2l-1.2 -1.2zM201.9 445.4l1.2 1.2l-1.2 1.2l-1.2 -1.2zM198.7 452.2l1.2 1.2l-1.2 1.2l-1.2 -1.2zM210.5 471.8l1.2 1.2l-1.2 1.2l-1.2 -1.2zM198.5 456.0l1.2 1.2l-1.2 1.2l-1.2 -1.2zM225.7 473.5l1.2 1.2l-1.2 1.2l-1.2 -1.2zM216.6 472.8l1.2 1.2l-1.2 1.2l-1.2 -1.2zM294.6 475.6l1.2 1.2l-1.2 1.2l-1.2 -1.2zM197.4 457.0l1.2 1.2l-1.2 1.2l-1.2 -1.2zM253.0 474.2l1.2 1.2l-1.2 1.2l-1.2 -1.2zM215.4 473.6l1.2 1.2l-1.2 1.2l-1.2 -1.2zM207.1 468.3l1.2 1.2l-1.2 1.2l-1.2 -1.2zM291.2 475.6l1.2 1.2l-1.2 1.2l-1.2 -1.2zM253.4 475.8l1.2 1.2l-1.2 1.2l-1.2 -1.2zM197.0 448.1l1.2 1.2l-1.2 1.2l-1.2 -1.2zM263.8 475.7l1.2 1.2l-1.2 1.2l-1.2 -1.2zM199.1 459.0l1.2 1.2l-1.2 1.2l-1.2 -1.2zM206.3 470.2l1.2 1.2l-1.2 1.2l-1.2 -1.2zM241.2 474.9l1.2 1.2l-1.2 1.2l-1.2 -1.2zM201.5 454.7l1.2 1.2l-1.2 1.2l-1.2 -1.2zM228.8 475.1l1.2 1.2l-1.2 1.2l-1.2 -1.2zM270.7 475.3l1.2 1.2l-1.2 1.2l-1.2 -1.2zM203.8 463.6l1.2 1.2l-1.2 1.2l-1.2 -1.2zM251.2 474.9l1.2 1.2l-1.2 1.2l-1.2 -1.2zM210.5 470.9l1.2 1.2l-1.2 1.2l-1.2 -1.2zM210.0 469.8l1.2 1.2l-1.2 1.2l-1.2 -1.2zM195.5 447.1l1.2 1.2l-1.2 1.2l-1.2 -1.2zM237.4 476.1l1.2 1.2l-1.2 1.2l-1.2 -1.2zM224.9 470.9l1.2 1.2l-1.2 1.2l-1.2 -1.2zM231.7 474.5l1.2 1.2l-1.2 1.2l-1.2 -1.2zM272.9 476.0l1.2 1.2l-1.2 1.2l-1.2 -1.2zM205.2 468.4l1.2 1.2l-1.2 1.2l-1.2 -1.2zM232.9 474.5l1.2 1.2l-1.2 1.2l-1.2 -1.2zM196.9 453.4l1.2 1.2l-1.2 1.2l-1.2 -1.2zM217.2 475.9l1.2 1.2l-1.2 1.2l-1.2 -1.2zM289.7 476.1l1.2 1.2l-1.2 1.2l-1.2 -1.2zM276.8 476.0l1.2 1.2l-1.2 1.2l-1.2 -1.2zM202.1 460.7l1.2 1.2l-1.2 1.2l-1.2 -1.2zM201.8 459.0l1.2 1.2l-1.2 1.2l-1.2 -1.2zM262.1 474.9l1.2 1.2l-1.2 1.2l-1.2 -1.2zM208.7 472.3l1.2 1.2l-1.2 1.2l-1.2 -1.2zM210.3 471.6l1.2 1.2l-1.2 1.2l-1.2 -1.2zM225.8 474.5l1.2 1.2l-1.2 1.2l-1.2 -1.2zM198.9 447.5l1.2 1.2l-1.2 1.2l-1.2 -1.2zM207.1 469.6l1.2 1.2l-1.2 1.2l-1.2 -1.2zM197.6 442.8l1.2 1.2l-1.2 1.2l-1.2 -1.2zM246.8 475.3l1.2 1.2l-1.2 1.2l-1.2 -1.2zM198.6 443.2l1.2 1.2l-1.2 1.2l-1.2 -1.2zM211.9 472.7l1.2 1.2l-1.2 1.2l-1.2 -1.2zM201.7 461.6l1.2 1.2l-1.2 1.2l-1.2 -1.2zM232.9 474.6l1.2 1.2l-1.2 1.2l-1.2 -1.2zM225.3 474.4l1.2 1.2l-1.2 1.2l-1.2 -1.2zM199.0 453.0l1.2 1.2l-1.2 1.2l-1.2 -1.2zM234.6 475.2l1.2 1.2l-1.2 1.2l-1.2 -1.2zM213.5 472.5l1.2 1.2l-1.2 1.2l-1.2 -1.2zM285.8 476.6l1.2 1.2l-1.2 1.2l-1.2 -1.2zM204.6 467.4l1.2 1.2l-1.2 1.2l-1.2 -1.2zM276.3 476.0l1.2 1.2l-1.2 1.2l-1.2 -1.2zM239.2 475.4l1.2 1.2l-1.2 1.2l-1.2 -1.2zM277.5 476.3l1.2 1.2l-1.2 1.2l-1.2 -1.2zM287.9 477.6l1.2 1.2l-1.2 1.2l-1.2 -1.2zM302.4 476.1l1.2 1.2l-1.2 1.2l-1.2 -1.2zM272.6 474.8l1.2 1.2l-1.2 1.2l-1.2 -1.2zM241.9 475.0l1.2 1.2l-1.2 1.2l-1.2 -1.2zM203.6 462.8l1.2 1.2l-1.2 1.2l-1.2 -1.2zM199.0 442.2l1.2 1.2l-1.2 1.2l-1.2 -1.2zM249.7 476.0l1.2 1.2l-1.2 1.2l-1.2 -1.2zM201.6 454.4l1.2 1.2l-1.2 1.2l-1.2 -1.2zM223.9 472.5l1.2 1.2l-1.2 1.2l-1.2 -1.2zM204.9 467.6l1.2 1.2l-1.2 1.2l-1.2 -1.2zM277.6 476.3l1.2 1.2l-1.2 1.2l-1.2 -1.2zM257.4 475.7l1.2 1.2l-1.2 1.2l-1.2 -1.2zM245.2 474.7l1.2 1.2l-1.2 1.2l-1.2 -1.2zM233.8 474.5l1.2 1.2l-1.2 1.2l-1.2 -1.2zM233.3 474.0l1.2 1.2l-1.2 1.2l-1.2 -1.2zM196.2 446.5l1.2 1.2l-1.2 1.2l-1.2 -1.2zM305.2 476.2l1.2 1.2l-1.2 1.2l-1.2 -1.2zM237.8 475.5l1.2 1.2l-1.2 1.2l-1.2 -1.2zM223.7 473.2l1.2 1.2l-1.2 1.2l-1.2 -1.2zM321.6 476.2l1.2 1.2l-1.2 1.2l-1.2 -1.2zM199.0 444.6l1.2 1.2l-1.2 1.2l-1.2 -1.2zM248.2 475.9l1.2 1.2l-1.2 1.2l-1.2 -1.2zM320.3 476.7l1.2 1.2l-1.2 1.2l-1.2 -1.2zM197.1 447.8l1.2 1.2l-1.2 1.2l-1.2 -1.2zM214.7 471.0l1.2 1.2l-1.2 1.2l-1.2 -1.2zM207.4 470.7l1.2 1.2l-1.2 1.2l-1.2 -1.2zM216.2 474.1l1.2 1.2l-1.2 1.2l-1.2 -1.2zM247.3 474.5l1.2 1.2l-1.2 1.2l-1.2 -1.2zM200.9 445.7l1.2 1.2l-1.2 1.2l-1.2 -1.2zM203.0 467.2l1.2 1.2l-1.2 1.2l-1.2 -1.2zM224.3 474.8l1.2 1.2l-1.2 1.2l-1.2 -1.2zM237.1 474.3l1.2 1.2l-1.2 1.2l-1.2 -1.2zM257.6 475.2l1.2 1.2l-1.2 1.2l-1.2 -1.2zM228.9 473.8l1.2 1.2l-1.2 1.2l-1.2 -1.2zM253.7 474.8l1.2 1.2l-1.2 1.2l-1.2 -1.2zM279.7 475.7l1.2 1.2l-1.2 1.2l-1.2 -1.2zM218.4 474.9l1.2 1.2l-1.2 1.2l-1.2 -1.2zM256.8 474.5l1.2 1.2l-1.2 1.2l-1.2 -1.2zM268.9 476.2l1.2 1.2l-1.2 1.2l-1.2 -1.2zM200.3 451.0l1.2 1.2l-1.2 1.2l-1.2 -1.2zM265.8 475.7l1.2 1.2l-1.2 1.2l-1.2 -1.2zM261.2 475.1l1.2 1.2l-1.2 1.2l-1.2 -1.2zM219.3 474.5l1.2 1.2l-1.2 1.2l-1.2 -1.2zM274.8 475.4l1.2 1.2l-1.2 1.2l-1.2 -1.2zM198.1 453.0l1.2 1.2l-1.2 1.2l-1.2 -1.2zM198.5 448.5l1.2 1.2l-1.2 1.2l-1.2 -1.2zM223.4 476.1l1.2 1.2l-1.2 1.2l-1.2 -1.2zM274.3 475.8l1.2 1.2l-1.2 1.2l-1.2 -1.2zM216.8 472.7l1.2 1.2l-1.2 1.2l-1.2 -1.2zM199.8 446.2l1.2 1.2l-1.2 1.2l-1.2 -1.2zM197.0 448.6l1.2 1.2l-1.2 1.2l-1.2 -1.2zM244.6 475.8l1.2 1.2l-1.2 1.2l-1.2 -1.2zM199.8 456.4l1.2 1.2l-1.2 1.2l-1.2 -1.2zM198.9 461.0l1.2 1.2l-1.2 1.2l-1.2 -1.2zM217.8 473.2l1.2 1.2l-1.2 1.2l-1.2 -1.2zM290.4 476.6l1.2 1.2l-1.2 1.2l-1.2 -1.2zM240.3 474.9l1.2 1.2l-1.2 1.2l-1.2 -1.2zM219.7 473.0l1.2 1.2l-1.2 1.2l-1.2 -1.2zM245.6 474.9l1.2 1.2l-1.2 1.2l-1.2 -1.2zM244.5 475.4l1.2 1.2l-1.2 1.2l-1.2 -1.2zM213.1 473.1l1.2 1.2l-1.2 1.2l-1.2 -1.2zM228.8 474.5l1.2 1.2l-1.2 1.2l-1.2 -1.2zM198.4 444.6l1.2 1.2l-1.2 1.2l-1.2 -1.2zM213.1 470.6l1.2 1.2l-1.2 1.2l-1.2 -1.2zM201.7 454.9l1.2 1.2l-1.2 1.2l-1.2 -1.2zM216.6 471.2l1.2 1.2l-1.2 1.2l-1.2 -1.2zM301.8 476.2l1.2 1.2l-1.2 1.2l-1.2 -1.2zM198.9 442.4l1.2 1.2l-1.2 1.2l-1.2 -1.2zM241.7 475.0l1.2 1.2l-1.2 1.2l-1.2 -1.2zM232.5 475.4l1.2 1.2l-1.2 1.2l-1.2 -1.2zM227.4 474.2l1.2 1.2l-1.2 1.2l-1.2 -1.2zM215.0 471.6l1.2 1.2l-1.2 1.2l-1.2 -1.2zM280.0 477.4l1.2 1.2l-1.2 1.2l-1.2 -1.2zM259.8 474.4l1.2 1.2l-1.2 1.2l-1.2 -1.2zM202.3 462.1l1.2 1.2l-1.2 1.2l-1.2 -1.2zM271.3 476.1l1.2 1.2l-1.2 1.2l-1.2 -1.2zM236.7 475.2l1.2 1.2l-1.2 1.2l-1.2 -1.2zM242.9 474.7l1.2 1.2l-1.2 1.2l-1.2 -1.2zM286.3 477.0l1.2 1.2l-1.2 1.2l-1.2 -1.2zM219.3 474.9l1.2 1.2l-1.2 1.2l-1.2 -1.2zM199.0 458.3l1.2 1.2l-1.2 1.2l-1.2 -1.2zM279.3 475.6l1.2 1.2l-1.2 1.2l-1.2 -1.2zM256.9 475.3l1.2 1.2l-1.2 1.2l-1.2 -1.2zM218.5 472.5l1.2 1.2l-1.2 1.2l-1.2 -1.2zM225.5 474.5l1.2 1.2l-1.2 1.2l-1.2 -1.2zM308.5 476.2l1.2 1.2l-1.2 1.2l-1.2 -1.2zM223.4 473.8l1.2 1.2l-1.2 1.2l-1.2 -1.2zM254.4 475.0l1.2 1.2l-1.2 1.2l-1.2 -1.2zM219.6 472.7l1.2 1.2l-1.2 1.2l-1.2 -1.2zM260.7 476.1l1.2 1.2l-1.2 1.2l-1.2 -1.2zM227.7 473.6l1.2 1.2l-1.2 1.2l-1.2 -1.2zM264.5 474.7l1.2 1.2l-1.2 1.2l-1.2 -1.2zM227.3 474.3l1.2 1.2l-1.2 1.2l-1.2 -1.2zM265.4 476.5l1.2 1.2l-1.2 1.2l-1.2 -1.2zM309.2 476.6l1.2 1.2l-1.2 1.2l-1.2 -1.2zM234.9 474.2l1.2 1.2l-1.2 1.2l-1.2 -1.2zM251.6 475.9l1.2 1.2l-1.2 1.2l-1.2 -1.2zM252.7 475.7l1.2 1.2l-1.2 1.2l-1.2 -1.2zM207.0 468.5l1.2 1.2l-1.2 1.2l-1.2 -1.2zM216.2 473.4l1.2 1.2l-1.2 1.2l-1.2 -1.2zM252.7 475.3l1.2 1.2l-1.2 1.2l-1.2 -1.2zM198.8 449.9l1.2 1.2l-1.2 1.2l-1.2 -1.2zM302.4 475.7l1.2 1.2l-1.2 1.2l-1.2 -1.2zM206.1 468.0l1.2 1.2l-1.2 1.2l-1.2 -1.2zM233.9 474.5l1.2 1.2l-1.2 1.2l-1.2 -1.2zM212.8 472.8l1.2 1.2l-1.2 1.2l-1.2 -1.2zM202.7 459.1l1.2 1.2l-1.2 1.2l-1.2 -1.2zM209.2 470.4l1.2 1.2l-1.2 1.2l-1.2 -1.2zM199.1 449.0l1.2 1.2l-1.2 1.2l-1.2 -1.2zM230.9 474.0l1.2 1.2l-1.2 1.2l-1.2 -1.2zM298.8 476.7l1.2 1.2l-1.2 1.2l-1.2 -1.2zM284.3 475.8l1.2 1.2l-1.2 1.2l-1.2 -1.2zM262.9 475.3l1.2 1.2l-1.2 1.2l-1.2 -1.2zM264.0 475.3l1.2 1.2l-1.2 1.2l-1.2 -1.2zM202.0 447.8l1.2 1.2l-1.2 1.2l-1.2 -1.2zM250.6 475.4l1.2 1.2l-1.2 1.2l-1.2 -1.2zM232.2 474.1l1.2 1.2l-1.2 1.2l-1.2 -1.2zM320.3 476.1l1.2 1.2l-1.2 1.2l-1.2 -1.2zM210.2 470.4l1.2 1.2l-1.2 1.2l-1.2 -1.2zM229.2 475.1l1.2 1.2l-1.2 1.2l-1.2 -1.2zM275.8 475.7l1.2 1.2l-1.2 1.2l-1.2 -1.2zM216.6 471.0l1.2 1.2l-1.2 1.2l-1.2 -1.2zM209.5 471.7l1.2 1.2l-1.2 1.2l-1.2 -1.2zM246.1 474.3l1.2 1.2l-1.2 1.2l-1.2 -1.2zM216.9 472.3l1.2 1.2l-1.2 1.2l-1.2 -1.2zM199.0 450.8l1.2 1.2l-1.2 1.2l-1.2 -1.2zM201.4 465.4l1.2 1.2l-1.2 1.2l-1.2 -1.2zM199.2 456.4l1.2 1.2l-1.2 1.2l-1.2 -1.2zM251.5 475.6l1.2 1.2l-1.2 1.2l-1.2 -1.2zM203.6 468.8l1.2 1.2l-1.2 1.2l-1.2 -1.2zM253.8 475.0l1.2 1.2l-1.2 1.2l-1.2 -1.2zM269.1 476.2l1.2 1.2l-1.2 1.2l-1.2 -1.2zM233.2 475.6l1.2 1.2l-1.2 1.2l-1.2 -1.2zM200.1 464.9l1.2 1.2l-1.2 1.2l-1.2 -1.2zM299.6 477.8l1.2 1.2l-1.2 1.2l-1.2 -1.2zM206.8 468.6l1.2 1.2l-1.2 1.2l-1.2 -1.2zM232.5 474.9l1.2 1.2l-1.2 1.2l-1.2 -1.2zM228.7 474.6l1.2 1.2l-1.2 1.2l-1.2 -1.2zM259.4 475.6l1.2 1.2l-1.2 1.2l-1.2 -1.2zM195.7 446.3l1.2 1.2l-1.2 1.2l-1.2 -1.2zM202.9 469.0l1.2 1.2l-1.2 1.2l-1.2 -1.2zM198.3 444.1l1.2 1.2l-1.2 1.2l-1.2 -1.2zM282.2 476.2l1.2 1.2l-1.2 1.2l-1.2 -1.2zM253.0 475.3l1.2 1.2l-1.2 1.2l-1.2 -1.2zM272.3 475.2l1.2 1.2l-1.2 1.2l-1.2 -1.2zM228.8 474.2l1.2 1.2l-1.2 1.2l-1.2 -1.2zM200.2 455.1l1.2 1.2l-1.2 1.2l-1.2 -1.2zM248.1 475.2l1.2 1.2l-1.2 1.2l-1.2 -1.2zM205.5 469.6l1.2 1.2l-1.2 1.2l-1.2 -1.2zM306.2 476.5l1.2 1.2l-1.2 1.2l-1.2 -1.2zM269.6 476.0l1.2 1.2l-1.2 1.2l-1.2 -1.2zM253.3 474.9l1.2 1.2l-1.2 1.2l-1.2 -1.2zM286.4 475.7l1.2 1.2l-1.2 1.2l-1.2 -1.2zM228.5 474.4l1.2 1.2l-1.2 1.2l-1.2 -1.2zM223.0 475.1l1.2 1.2l-1.2 1.2l-1.2 -1.2zM230.7 474.0l1.2 1.2l-1.2 1.2l-1.2 -1.2zM200.5 451.3l1.2 1.2l-1.2 1.2l-1.2 -1.2zM264.9 476.2l1.2 1.2l-1.2 1.2l-1.2 -1.2zM312.1 476.4l1.2 1.2l-1.2 1.2l-1.2 -1.2zM226.5 474.6l1.2 1.2l-1.2 1.2l-1.2 -1.2zM206.1 468.6l1.2 1.2l-1.2 1.2l-1.2 -1.2zM258.6 475.8l1.2 1.2l-1.2 1.2l-1.2 -1.2zM250.7 474.8l1.2 1.2l-1.2 1.2l-1.2 -1.2zM269.3 476.2l1.2 1.2l-1.2 1.2l-1.2 -1.2zM203.3 464.5l1.2 1.2l-1.2 1.2l-1.2 -1.2zM265.1 476.4l1.2 1.2l-1.2 1.2l-1.2 -1.2zM203.8 463.0l1.2 1.2l-1.2 1.2l-1.2 -1.2zM277.3 475.3l1.2 1.2l-1.2 1.2l-1.2 -1.2zM240.4 475.9l1.2 1.2l-1.2 1.2l-1.2 -1.2zM302.3 476.1l1.2 1.2l-1.2 1.2l-1.2 -1.2zM215.1 472.5l1.2 1.2l-1.2 1.2l-1.2 -1.2zM248.2 475.0l1.2 1.2l-1.2 1.2l-1.2 -1.2zM289.3 476.7l1.2 1.2l-1.2 1.2l-1.2 -1.2zM214.0 469.0l1.2 1.2l-1.2 1.2l-1.2 -1.2zM291.7 475.7l1.2 1.2l-1.2 1.2l-1.2 -1.2zM218.3 475.3l1.2 1.2l-1.2 1.2l-1.2 -1.2zM205.0 459.8l1.2 1.2l-1.2 1.2l-1.2 -1.2zM219.1 474.6l1.2 1.2l-1.2 1.2l-1.2 -1.2zM218.3 472.4l1.2 1.2l-1.2 1.2l-1.2 -1.2zM197.5 445.1l1.2 1.2l-1.2 1.2l-1.2 -1.2zM201.2 463.5l1.2 1.2l-1.2 1.2l-1.2 -1.2zM235.0 475.3l1.2 1.2l-1.2 1.2l-1.2 -1.2zM201.3 450.1l1.2 1.2l-1.2 1.2l-1.2 -1.2zM261.2 475.8l1.2 1.2l-1.2 1.2l-1.2 -1.2zM246.4 474.7l1.2 1.2l-1.2 1.2l-1.2 -1.2zM198.9 452.0l1.2 1.2l-1.2 1.2l-1.2 -1.2zM295.7 475.8l1.2 1.2l-1.2 1.2l-1.2 -1.2zM301.9 477.6l1.2 1.2l-1.2 1.2l-1.2 -1.2zM207.4 469.1l1.2 1.2l-1.2 1.2l-1.2 -1.2zM260.7 475.8l1.2 1.2l-1.2 1.2l-1.2 -1.2zM264.2 475.6l1.2 1.2l-1.2 1.2l-1.2 -1.2zM258.6 474.7l1.2 1.2l-1.2 1.2l-1.2 -1.2zM198.5 451.3l1.2 1.2l-1.2 1.2l-1.2 -1.2zM243.8 474.6l1.2 1.2l-1.2 1.2l-1.2 -1.2zM262.5 476.3l1.2 1.2l-1.2 1.2l-1.2 -1.2zM219.0 473.9l1.2 1.2l-1.2 1.2l-1.2 -1.2zM214.4 473.6l1.2 1.2l-1.2 1.2l-1.2 -1.2zM198.7 453.3l1.2 1.2l-1.2 1.2l-1.2 -1.2zM311.2 476.1l1.2 1.2l-1.2 1.2l-1.2 -1.2zM271.5 476.2l1.2 1.2l-1.2 1.2l-1.2 -1.2zM246.6 475.6l1.2 1.2l-1.2 1.2l-1.2 -1.2zM236.3 474.8l1.2 1.2l-1.2 1.2l-1.2 -1.2zM240.4 475.0l1.2 1.2l-1.2 1.2l-1.2 -1.2zM225.8 474.3l1.2 1.2l-1.2 1.2l-1.2 -1.2zM280.5 477.0l1.2 1.2l-1.2 1.2l-1.2 -1.2zM313.5 476.6l1.2 1.2l-1.2 1.2l-1.2 -1.2zM197.8 455.8l1.2 1.2l-1.2 1.2l-1.2 -1.2zM256.4 475.4l1.2 1.2l-1.2 1.2l-1.2 -1.2zM227.9 474.7l1.2 1.2l-1.2 1.2l-1.2 -1.2zM272.4 476.1l1.2 1.2l-1.2 1.2l-1.2 -1.2zM230.5 475.5l1.2 1.2l-1.2 1.2l-1.2 -1.2zM228.8 475.0l1.2 1.2l-1.2 1.2l-1.2 -1.2zM202.4 453.6l1.2 1.2l-1.2 1.2l-1.2 -1.2zM212.2 472.2l1.2 1.2l-1.2 1.2l-1.2 -1.2zM201.9 460.4l1.2 1.2l-1.2 1.2l-1.2 -1.2zM210.4 469.2l1.2 1.2l-1.2 1.2l-1.2 -1.2zM253.5 475.0l1.2 1.2l-1.2 1.2l-1.2 -1.2zM215.4 473.4l1.2 1.2l-1.2 1.2l-1.2 -1.2zM339.6 477.4l1.2 1.2l-1.2 1.2l-1.2 -1.2zM247.9 476.4l1.2 1.2l-1.2 1.2l-1.2 -1.2zM228.3 474.5l1.2 1.2l-1.2 1.2l-1.2 -1.2zM222.0 474.7l1.2 1.2l-1.2 1.2l-1.2 -1.2zM212.2 471.4l1.2 1.2l-1.2 1.2l-1.2 -1.2zM208.5 470.0l1.2 1.2l-1.2 1.2l-1.2 -1.2zM249.9 475.5l1.2 1.2l-1.2 1.2l-1.2 -1.2zM293.5 477.2l1.2 1.2l-1.2 1.2l-1.2 -1.2zM219.1 475.5l1.2 1.2l-1.2 1.2l-1.2 -1.2zM228.5 474.5l1.2 1.2l-1.2 1.2l-1.2 -1.2zM215.9 472.1l1.2 1.2l-1.2 1.2l-1.2 -1.2zM267.0 474.8l1.2 1.2l-1.2 1.2l-1.2 -1.2zM210.3 470.4l1.2 1.2l-1.2 1.2l-1.2 -1.2zM213.8 470.8l1.2 1.2l-1.2 1.2l-1.2 -1.2zM331.7 477.8l1.2 1.2l-1.2 1.2l-1.2 -1.2zM332.6 476.8l1.2 1.2l-1.2 1.2l-1.2 -1.2zM209.0 469.9l1.2 1.2l-1.2 1.2l-1.2 -1.2zM199.4 451.7l1.2 1.2l-1.2 1.2l-1.2 -1.2zM251.1 476.1l1.2 1.2l-1.2 1.2l-1.2 -1.2zM217.3 472.8l1.2 1.2l-1.2 1.2l-1.2 -1.2zM259.1 475.4l1.2 1.2l-1.2 1.2l-1.2 -1.2zM196.5 451.8l1.2 1.2l-1.2 1.2l-1.2 -1.2zM223.2 473.5l1.2 1.2l-1.2 1.2l-1.2 -1.2zM232.2 474.2l1.2 1.2l-1.2 1.2l-1.2 -1.2zM199.6 448.2l1.2 1.2l-1.2 1.2l-1.2 -1.2zM277.8 476.6l1.2 1.2l-1.2 1.2l-1.2 -1.2zM213.5 474.4l1.2 1.2l-1.2 1.2l-1.2 -1.2zM253.9 475.6l1.2 1.2l-1.2 1.2l-1.2 -1.2zM274.3 476.4l1.2 1.2l-1.2 1.2l-1.2 -1.2zM293.9 474.6l1.2 1.2l-1.2 1.2l-1.2 -1.2zM283.9 476.5l1.2 1.2l-1.2 1.2l-1.2 -1.2zM233.3 474.3l1.2 1.2l-1.2 1.2l-1.2 -1.2zM266.4 475.5l1.2 1.2l-1.2 1.2l-1.2 -1.2zM202.4 463.0l1.2 1.2l-1.2 1.2l-1.2 -1.2zM291.2 475.9l1.2 1.2l-1.2 1.2l-1.2 -1.2zM201.7 449.0l1.2 1.2l-1.2 1.2l-1.2 -1.2zM217.5 474.1l1.2 1.2l-1.2 1.2l-1.2 -1.2zM251.8 475.0l1.2 1.2l-1.2 1.2l-1.2 -1.2zM197.3 441.0l1.2 1.2l-1.2 1.2l-1.2 -1.2zM303.3 476.9l1.2 1.2l-1.2 1.2l-1.2 -1.2zM326.9 475.5l1.2 1.2l-1.2 1.2l-1.2 -1.2zM201.3 458.6l1.2 1.2l-1.2 1.2l-1.2 -1.2zM276.5 475.8l1.2 1.2l-1.2 1.2l-1.2 -1.2zM250.5 474.7l1.2 1.2l-1.2 1.2l-1.2 -1.2zM233.5 475.1l1.2 1.2l-1.2 1.2l-1.2 -1.2zM240.2 475.1l1.2 1.2l-1.2 1.2l-1.2 -1.2zM211.8 471.7l1.2 1.2l-1.2 1.2l-1.2 -1.2zM204.9 466.1l1.2 1.2l-1.2 1.2l-1.2 -1.2zM212.3 473.6l1.2 1.2l-1.2 1.2l-1.2 -1.2zM199.3 454.6l1.2 1.2l-1.2 1.2l-1.2 -1.2zM239.8 474.8l1.2 1.2l-1.2 1.2l-1.2 -1.2zM287.4 476.1l1.2 1.2l-1.2 1.2l-1.2 -1.2zM198.5 448.6l1.2 1.2l-1.2 1.2l-1.2 -1.2zM201.7 452.0l1.2 1.2l-1.2 1.2l-1.2 -1.2zM230.5 474.5l1.2 1.2l-1.2 1.2l-1.2 -1.2zM198.2 445.6l1.2 1.2l-1.2 1.2l-1.2 -1.2zM199.1 448.4l1.2 1.2l-1.2 1.2l-1.2 -1.2zM279.5 475.9l1.2 1.2l-1.2 1.2l-1.2 -1.2zM201.3 463.9l1.2 1.2l-1.2 1.2l-1.2 -1.2zM264.6 476.9l1.2 1.2l-1.2 1.2l-1.2 -1.2zM198.9 454.7l1.2 1.2l-1.2 1.2l-1.2 -1.2zM237.9 475.6l1.2 1.2l-1.2 1.2l-1.2 -1.2zM284.6 475.9l1.2 1.2l-1.2 1.2l-1.2 -1.2zM271.2 475.8l1.2 1.2l-1.2 1.2l-1.2 -1.2zM216.6 473.0l1.2 1.2l-1.2 1.2l-1.2 -1.2zM219.4 474.9l1.2 1.2l-1.2 1.2l-1.2 -1.2zM210.7 473.0l1.2 1.2l-1.2 1.2l-1.2 -1.2zM200.7 454.9l1.2 1.2l-1.2 1.2l-1.2 -1.2zM226.1 474.1l1.2 1.2l-1.2 1.2l-1.2 -1.2zM214.6 469.7l1.2 1.2l-1.2 1.2l-1.2 -1.2zM239.4 474.7l1.2 1.2l-1.2 1.2l-1.2 -1.2zM255.8 474.4l1.2 1.2l-1.2 1.2l-1.2 -1.2zM210.3 470.1l1.2 1.2l-1.2 1.2l-1.2 -1.2zM310.1 476.6l1.2 1.2l-1.2 1.2l-1.2 -1.2zM309.8 476.8l1.2 1.2l-1.2 1.2l-1.2 -1.2zM235.0 475.2l1.2 1.2l-1.2 1.2l-1.2 -1.2zM210.2 472.4l1.2 1.2l-1.2 1.2l-1.2 -1.2zM234.3 474.7l1.2 1.2l-1.2 1.2l-1.2 -1.2zM224.9 472.6l1.2 1.2l-1.2 1.2l-1.2 -1.2zM247.8 475.4l1.2 1.2l-1.2 1.2l-1.2 -1.2zM207.4 467.5l1.2 1.2l-1.2 1.2l-1.2 -1.2zM252.6 474.4l1.2 1.2l-1.2 1.2l-1.2 -1.2zM219.0 473.0l1.2 1.2l-1.2 1.2l-1.2 -1.2zM197.5 452.5l1.2 1.2l-1.2 1.2l-1.2 -1.2zM237.7 475.9l1.2 1.2l-1.2 1.2l-1.2 -1.2zM291.0 475.1l1.2 1.2l-1.2 1.2l-1.2 -1.2zM229.6 473.9l1.2 1.2l-1.2 1.2l-1.2 -1.2zM206.6 469.3l1.2 1.2l-1.2 1.2l-1.2 -1.2zM199.0 443.0l1.2 1.2l-1.2 1.2l-1.2 -1.2zM199.7 456.8l1.2 1.2l-1.2 1.2l-1.2 -1.2zM198.1 458.4l1.2 1.2l-1.2 1.2l-1.2 -1.2zM264.6 475.4l1.2 1.2l-1.2 1.2l-1.2 -1.2zM206.3 467.8l1.2 1.2l-1.2 1.2l-1.2 -1.2zM266.5 475.4l1.2 1.2l-1.2 1.2l-1.2 -1.2zM200.8 464.7l1.2 1.2l-1.2 1.2l-1.2 -1.2zM199.6 457.4l1.2 1.2l-1.2 1.2l-1.2 -1.2zM203.2 465.1l1.2 1.2l-1.2 1.2l-1.2 -1.2zM295.2 476.2l1.2 1.2l-1.2 1.2l-1.2 -1.2zM207.0 467.6l1.2 1.2l-1.2 1.2l-1.2 -1.2zM242.3 474.9l1.2 1.2l-1.2 1.2l-1.2 -1.2zM199.6 458.3l1.2 1.2l-1.2 1.2l-1.2 -1.2zM223.3 473.3l1.2 1.2l-1.2 1.2l-1.2 -1.2zM223.7 472.2l1.2 1.2l-1.2 1.2l-1.2 -1.2zM199.2 453.1l1.2 1.2l-1.2 1.2l-1.2 -1.2zM284.1 476.3l1.2 1.2l-1.2 1.2l-1.2 -1.2zM219.0 471.7l1.2 1.2l-1.2 1.2l-1.2 -1.2zM309.7 476.7l1.2 1.2l-1.2 1.2l-1.2 -1.2zM213.8 472.2l1.2 1.2l-1.2 1.2l-1.2 -1.2zM273.2 476.5l1.2 1.2l-1.2 1.2l-1.2 -1.2zM206.2 469.3l1.2 1.2l-1.2 1.2l-1.2 -1.2zM248.5 475.0l1.2 1.2l-1.2 1.2l-1.2 -1.2zM201.9 444.0l1.2 1.2l-1.2 1.2l-1.2 -1.2zM199.7 454.3l1.2 1.2l-1.2 1.2l-1.2 -1.2zM199.9 459.2l1.2 1.2l-1.2 1.2l-1.2 -1.2zM253.6 475.5l1.2 1.2l-1.2 1.2l-1.2 -1.2zM212.1 471.0l1.2 1.2l-1.2 1.2l-1.2 -1.2zM198.5 449.7l1.2 1.2l-1.2 1.2l-1.2 -1.2zM266.6 475.7l1.2 1.2l-1.2 1.2l-1.2 -1.2zM201.3 464.9l1.2 1.2l-1.2 1.2l-1.2 -1.2zM243.8 474.7l1.2 1.2l-1.2 1.2l-1.2 -1.2zM221.2 474.0l1.2 1.2l-1.2 1.2l-1.2 -1.2zM205.4 460.7l1.2 1.2l-1.2 1.2l-1.2 -1.2zM271.2 474.9l1.2 1.2l-1.2 1.2l-1.2 -1.2zM220.4 473.7l1.2 1.2l-1.2 1.2l-1.2 -1.2zM216.8 472.5l1.2 1.2l-1.2 1.2l-1.2 -1.2zM210.3 472.6l1.2 1.2l-1.2 1.2l-1.2 -1.2zM268.3 475.5l1.2 1.2l-1.2 1.2l-1.2 -1.2zM210.4 472.0l1.2 1.2l-1.2 1.2l-1.2 -1.2zM200.9 454.0l1.2 1.2l-1.2 1.2l-1.2 -1.2zM337.1 476.4l1.2 1.2l-1.2 1.2l-1.2 -1.2zM254.5 474.9l1.2 1.2l-1.2 1.2l-1.2 -1.2zM229.5 473.8l1.2 1.2l-1.2 1.2l-1.2 -1.2zM197.8 441.0l1.2 1.2l-1.2 1.2l-1.2 -1.2zM234.9 475.3l1.2 1.2l-1.2 1.2l-1.2 -1.2zM265.8 476.3l1.2 1.2l-1.2 1.2l-1.2 -1.2zM203.9 463.1l1.2 1.2l-1.2 1.2l-1.2 -1.2zM310.0 475.2l1.2 1.2l-1.2 1.2l-1.2 -1.2zM224.7 474.7l1.2 1.2l-1.2 1.2l-1.2 -1.2zM279.1 476.5l1.2 1.2l-1.2 1.2l-1.2 -1.2zM231.7 475.4l1.2 1.2l-1.2 1.2l-1.2 -1.2zM203.4 462.4l1.2 1.2l-1.2 1.2l-1.2 -1.2zM301.6 476.3l1.2 1.2l-1.2 1.2l-1.2 -1.2zM220.8 472.1l1.2 1.2l-1.2 1.2l-1.2 -1.2zM217.2 472.2l1.2 1.2l-1.2 1.2l-1.2 -1.2zM254.6 475.3l1.2 1.2l-1.2 1.2l-1.2 -1.2zM196.4 442.3l1.2 1.2l-1.2 1.2l-1.2 -1.2zM200.7 461.7l1.2 1.2l-1.2 1.2l-1.2 -1.2zM200.6 450.6l1.2 1.2l-1.2 1.2l-1.2 -1.2zM225.9 474.4l1.2 1.2l-1.2 1.2l-1.2 -1.2zM204.1 456.9l1.2 1.2l-1.2 1.2l-1.2 -1.2zM226.9 474.6l1.2 1.2l-1.2 1.2l-1.2 -1.2zM304.0 477.1l1.2 1.2l-1.2 1.2l-1.2 -1.2zM302.6 475.6l1.2 1.2l-1.2 1.2l-1.2 -1.2zM200.2 453.7l1.2 1.2l-1.2 1.2l-1.2 -1.2zM201.2 449.3l1.2 1.2l-1.2 1.2l-1.2 -1.2zM208.3 468.6l1.2 1.2l-1.2 1.2l-1.2 -1.2zM200.3 444.8l1.2 1.2l-1.2 1.2l-1.2 -1.2zM265.0 475.6l1.2 1.2l-1.2 1.2l-1.2 -1.2zM207.9 470.0l1.2 1.2l-1.2 1.2l-1.2 -1.2zM199.5 443.4l1.2 1.2l-1.2 1.2l-1.2 -1.2zM198.9 458.8l1.2 1.2l-1.2 1.2l-1.2 -1.2zM276.1 476.4l1.2 1.2l-1.2 1.2l-1.2 -1.2zM253.7 474.9l1.2 1.2l-1.2 1.2l-1.2 -1.2zM278.8 477.1l1.2 1.2l-1.2 1.2l-1.2 -1.2zM252.6 475.3l1.2 1.2l-1.2 1.2l-1.2 -1.2zM197.1 444.0l1.2 1.2l-1.2 1.2l-1.2 -1.2zM245.5 476.0l1.2 1.2l-1.2 1.2l-1.2 -1.2zM198.6 446.4l1.2 1.2l-1.2 1.2l-1.2 -1.2zM245.5 475.3l1.2 1.2l-1.2 1.2l-1.2 -1.2zM198.4 444.0l1.2 1.2l-1.2 1.2l-1.2 -1.2zM231.6 473.6l1.2 1.2l-1.2 1.2l-1.2 -1.2zM271.2 476.0l1.2 1.2l-1.2 1.2l-1.2 -1.2zM242.3 475.2l1.2 1.2l-1.2 1.2l-1.2 -1.2zM270.6 476.2l1.2 1.2l-1.2 1.2l-1.2 -1.2zM203.3 467.5l1.2 1.2l-1.2 1.2l-1.2 -1.2zM240.6 475.1l1.2 1.2l-1.2 1.2l-1.2 -1.2zM199.0 455.8l1.2 1.2l-1.2 1.2l-1.2 -1.2zM196.3 450.0l1.2 1.2l-1.2 1.2l-1.2 -1.2zM197.3 450.0l1.2 1.2l-1.2 1.2l-1.2 -1.2zM247.4 474.9l1.2 1.2l-1.2 1.2l-1.2 -1.2zM272.5 476.0l1.2 1.2l-1.2 1.2l-1.2 -1.2zM266.2 475.7l1.2 1.2l-1.2 1.2l-1.2 -1.2zM235.3 474.9l1.2 1.2l-1.2 1.2l-1.2 -1.2zM290.9 476.2l1.2 1.2l-1.2 1.2l-1.2 -1.2zM199.7 441.5l1.2 1.2l-1.2 1.2l-1.2 -1.2zM214.1 472.1l1.2 1.2l-1.2 1.2l-1.2 -1.2zM295.9 475.9l1.2 1.2l-1.2 1.2l-1.2 -1.2zM211.2 471.3l1.2 1.2l-1.2 1.2l-1.2 -1.2zM203.2 465.2l1.2 1.2l-1.2 1.2l-1.2 -1.2zM214.8 471.7l1.2 1.2l-1.2 1.2l-1.2 -1.2zM222.9 474.5l1.2 1.2l-1.2 1.2l-1.2 -1.2zM215.8 471.4l1.2 1.2l-1.2 1.2l-1.2 -1.2zM203.6 464.7l1.2 1.2l-1.2 1.2l-1.2 -1.2zM201.1 450.2l1.2 1.2l-1.2 1.2l-1.2 -1.2zM198.3 449.9l1.2 1.2l-1.2 1.2l-1.2 -1.2zM230.8 473.5l1.2 1.2l-1.2 1.2l-1.2 -1.2zM296.0 476.3l1.2 1.2l-1.2 1.2l-1.2 -1.2zM270.0 476.5l1.2 1.2l-1.2 1.2l-1.2 -1.2zM203.9 465.4l1.2 1.2l-1.2 1.2l-1.2 -1.2zM219.0 473.2l1.2 1.2l-1.2 1.2l-1.2 -1.2zM194.8 447.8l1.2 1.2l-1.2 1.2l-1.2 -1.2zM326.6 476.2l1.2 1.2l-1.2 1.2l-1.2 -1.2zM254.1 475.1l1.2 1.2l-1.2 1.2l-1.2 -1.2zM302.3 476.8l1.2 1.2l-1.2 1.2l-1.2 -1.2zM199.0 452.7l1.2 1.2l-1.2 1.2l-1.2 -1.2zM203.3 466.9l1.2 1.2l-1.2 1.2l-1.2 -1.2zM255.9 475.9l1.2 1.2l-1.2 1.2l-1.2 -1.2zM231.4 475.3l1.2 1.2l-1.2 1.2l-1.2 -1.2zM197.1 443.3l1.2 1.2l-1.2 1.2l-1.2 -1.2zM278.5 476.6l1.2 1.2l-1.2 1.2l-1.2 -1.2zM330.2 477.1l1.2 1.2l-1.2 1.2l-1.2 -1.2zM277.3 476.9l1.2 1.2l-1.2 1.2l-1.2 -1.2zM282.1 476.5l1.2 1.2l-1.2 1.2l-1.2 -1.2zM229.1 474.0l1.2 1.2l-1.2 1.2l-1.2 -1.2zM222.0 473.3l1.2 1.2l-1.2 1.2l-1.2 -1.2zM298.6 478.0l1.2 1.2l-1.2 1.2l-1.2 -1.2zM237.4 474.7l1.2 1.2l-1.2 1.2l-1.2 -1.2zM251.7 475.6l1.2 1.2l-1.2 1.2l-1.2 -1.2zM193.2 446.0l1.2 1.2l-1.2 1.2l-1.2 -1.2zM264.9 475.3l1.2 1.2l-1.2 1.2l-1.2 -1.2zM232.9 474.8l1.2 1.2l-1.2 1.2l-1.2 -1.2zM221.2 475.0l1.2 1.2l-1.2 1.2l-1.2 -1.2zM207.1 467.9l1.2 1.2l-1.2 1.2l-1.2 -1.2zM226.5 473.4l1.2 1.2l-1.2 1.2l-1.2 -1.2zM212.9 472.8l1.2 1.2l-1.2 1.2l-1.2 -1.2zM267.1 475.6l1.2 1.2l-1.2 1.2l-1.2 -1.2zM251.4 475.2l1.2 1.2l-1.2 1.2l-1.2 -1.2zM247.7 474.4l1.2 1.2l-1.2 1.2l-1.2 -1.2zM232.8 474.3l1.2 1.2l-1.2 1.2l-1.2 -1.2zM202.2 454.5l1.2 1.2l-1.2 1.2l-1.2 -1.2zM244.6 474.2l1.2 1.2l-1.2 1.2l-1.2 -1.2zM202.0 456.7l1.2 1.2l-1.2 1.2l-1.2 -1.2zM209.1 471.9l1.2 1.2l-1.2 1.2l-1.2 -1.2zM200.1 452.4l1.2 1.2l-1.2 1.2l-1.2 -1.2zM318.4 476.8l1.2 1.2l-1.2 1.2l-1.2 -1.2zM197.4 446.6l1.2 1.2l-1.2 1.2l-1.2 -1.2zM275.5 476.3l1.2 1.2l-1.2 1.2l-1.2 -1.2zM233.1 475.3l1.2 1.2l-1.2 1.2l-1.2 -1.2zM196.5 464.7l1.2 1.2l-1.2 1.2l-1.2 -1.2zM199.5 464.9l1.2 1.2l-1.2 1.2l-1.2 -1.2zM257.1 476.0l1.2 1.2l-1.2 1.2l-1.2 -1.2zM199.5 461.5l1.2 1.2l-1.2 1.2l-1.2 -1.2zM202.8 458.6l1.2 1.2l-1.2 1.2l-1.2 -1.2zM200.9 456.8l1.2 1.2l-1.2 1.2l-1.2 -1.2zM256.3 475.7l1.2 1.2l-1.2 1.2l-1.2 -1.2zM279.8 476.1l1.2 1.2l-1.2 1.2l-1.2 -1.2zM230.9 475.1l1.2 1.2l-1.2 1.2l-1.2 -1.2zM236.7 474.5l1.2 1.2l-1.2 1.2l-1.2 -1.2zM197.5 452.2l1.2 1.2l-1.2 1.2l-1.2 -1.2zM225.0 473.6l1.2 1.2l-1.2 1.2l-1.2 -1.2zM201.5 461.7l1.2 1.2l-1.2 1.2l-1.2 -1.2zM199.7 443.6l1.2 1.2l-1.2 1.2l-1.2 -1.2zM241.4 474.7l1.2 1.2l-1.2 1.2l-1.2 -1.2zM231.4 473.9l1.2 1.2l-1.2 1.2l-1.2 -1.2zM260.4 474.3l1.2 1.2l-1.2 1.2l-1.2 -1.2zM201.2 446.2l1.2 1.2l-1.2 1.2l-1.2 -1.2zM219.7 473.0l1.2 1.2l-1.2 1.2l-1.2 -1.2zM336.9 476.7l1.2 1.2l-1.2 1.2l-1.2 -1.2zM331.5 476.5l1.2 1.2l-1.2 1.2l-1.2 -1.2zM220.9 475.9l1.2 1.2l-1.2 1.2l-1.2 -1.2zM226.5 473.8l1.2 1.2l-1.2 1.2l-1.2 -1.2zM203.6 463.6l1.2 1.2l-1.2 1.2l-1.2 -1.2zM246.7 476.5l1.2 1.2l-1.2 1.2l-1.2 -1.2zM199.7 456.9l1.2 1.2l-1.2 1.2l-1.2 -1.2zM203.3 449.6l1.2 1.2l-1.2 1.2l-1.2 -1.2zM299.8 476.2l1.2 1.2l-1.2 1.2l-1.2 -1.2zM234.3 474.9l1.2 1.2l-1.2 1.2l-1.2 -1.2zM219.2 474.6l1.2 1.2l-1.2 1.2l-1.2 -1.2zM262.5 475.2l1.2 1.2l-1.2 1.2l-1.2 -1.2zM268.8 475.8l1.2 1.2l-1.2 1.2l-1.2 -1.2zM231.7 475.7l1.2 1.2l-1.2 1.2l-1.2 -1.2zM220.9 473.1l1.2 1.2l-1.2 1.2l-1.2 -1.2zM227.3 474.8l1.2 1.2l-1.2 1.2l-1.2 -1.2zM205.6 466.6l1.2 1.2l-1.2 1.2l-1.2 -1.2zM260.9 475.8l1.2 1.2l-1.2 1.2l-1.2 -1.2zM266.4 475.2l1.2 1.2l-1.2 1.2l-1.2 -1.2zM203.7 462.2l1.2 1.2l-1.2 1.2l-1.2 -1.2zM252.7 475.1l1.2 1.2l-1.2 1.2l-1.2 -1.2zM223.1 475.6l1.2 1.2l-1.2 1.2l-1.2 -1.2zM295.3 476.8l1.2 1.2l-1.2 1.2l-1.2 -1.2zM246.4 474.6l1.2 1.2l-1.2 1.2l-1.2 -1.2zM204.1 461.9l1.2 1.2l-1.2 1.2l-1.2 -1.2zM240.6 474.6l1.2 1.2l-1.2 1.2l-1.2 -1.2zM278.3 476.0l1.2 1.2l-1.2 1.2l-1.2 -1.2zM230.5 473.3l1.2 1.2l-1.2 1.2l-1.2 -1.2zM216.1 472.8l1.2 1.2l-1.2 1.2l-1.2 -1.2zM226.4 474.2l1.2 1.2l-1.2 1.2l-1.2 -1.2zM212.0 472.4l1.2 1.2l-1.2 1.2l-1.2 -1.2zM200.0 450.2l1.2 1.2l-1.2 1.2l-1.2 -1.2zM272.1 474.7l1.2 1.2l-1.2 1.2l-1.2 -1.2zM273.4 475.6l1.2 1.2l-1.2 1.2l-1.2 -1.2zM196.2 455.0l1.2 1.2l-1.2 1.2l-1.2 -1.2zM215.5 471.7l1.2 1.2l-1.2 1.2l-1.2 -1.2zM198.0 441.0l1.2 1.2l-1.2 1.2l-1.2 -1.2zM255.5 476.2l1.2 1.2l-1.2 1.2l-1.2 -1.2zM207.5 469.5l1.2 1.2l-1.2 1.2l-1.2 -1.2zM315.5 477.1l1.2 1.2l-1.2 1.2l-1.2 -1.2zM294.8 475.4l1.2 1.2l-1.2 1.2l-1.2 -1.2zM200.0 447.6l1.2 1.2l-1.2 1.2l-1.2 -1.2zM284.8 476.1l1.2 1.2l-1.2 1.2l-1.2 -1.2zM257.2 474.4l1.2 1.2l-1.2 1.2l-1.2 -1.2zM202.0 463.9l1.2 1.2l-1.2 1.2l-1.2 -1.2zM288.8 477.2l1.2 1.2l-1.2 1.2l-1.2 -1.2zM279.3 476.3l1.2 1.2l-1.2 1.2l-1.2 -1.2zM302.9 476.5l1.2 1.2l-1.2 1.2l-1.2 -1.2zM204.3 462.8l1.2 1.2l-1.2 1.2l-1.2 -1.2zM205.8 469.0l1.2 1.2l-1.2 1.2l-1.2 -1.2zM207.1 467.9l1.2 1.2l-1.2 1.2l-1.2 -1.2zM200.4 451.4l1.2 1.2l-1.2 1.2l-1.2 -1.2zM265.7 475.6l1.2 1.2l-1.2 1.2l-1.2 -1.2zM199.6 452.5l1.2 1.2l-1.2 1.2l-1.2 -1.2zM234.7 474.8l1.2 1.2l-1.2 1.2l-1.2 -1.2zM246.3 475.2l1.2 1.2l-1.2 1.2l-1.2 -1.2zM197.2 445.2l1.2 1.2l-1.2 1.2l-1.2 -1.2zM228.8 473.8l1.2 1.2l-1.2 1.2l-1.2 -1.2zM285.5 476.0l1.2 1.2l-1.2 1.2l-1.2 -1.2zM200.6 452.7l1.2 1.2l-1.2 1.2l-1.2 -1.2zM238.1 474.7l1.2 1.2l-1.2 1.2l-1.2 -1.2zM297.6 476.5l1.2 1.2l-1.2 1.2l-1.2 -1.2zM211.3 472.9l1.2 1.2l-1.2 1.2l-1.2 -1.2zM272.6 476.3l1.2 1.2l-1.2 1.2l-1.2 -1.2zM235.7 474.2l1.2 1.2l-1.2 1.2l-1.2 -1.2zM256.0 476.0l1.2 1.2l-1.2 1.2l-1.2 -1.2zM208.8 471.8l1.2 1.2l-1.2 1.2l-1.2 -1.2zM225.2 475.3l1.2 1.2l-1.2 1.2l-1.2 -1.2zM235.8 474.4l1.2 1.2l-1.2 1.2l-1.2 -1.2zM262.3 474.8l1.2 1.2l-1.2 1.2l-1.2 -1.2zM211.5 471.7l1.2 1.2l-1.2 1.2l-1.2 -1.2zM203.1 466.0l1.2 1.2l-1.2 1.2l-1.2 -1.2zM245.1 474.4l1.2 1.2l-1.2 1.2l-1.2 -1.2zM195.7 445.0l1.2 1.2l-1.2 1.2l-1.2 -1.2zM196.9 446.1l1.2 1.2l-1.2 1.2l-1.2 -1.2zM238.1 474.7l1.2 1.2l-1.2 1.2l-1.2 -1.2zM238.0 474.7l1.2 1.2l-1.2 1.2l-1.2 -1.2zM217.8 473.8l1.2 1.2l-1.2 1.2l-1.2 -1.2zM305.2 476.8l1.2 1.2l-1.2 1.2l-1.2 -1.2zM267.2 475.5l1.2 1.2l-1.2 1.2l-1.2 -1.2zM198.0 449.4l1.2 1.2l-1.2 1.2l-1.2 -1.2zM210.2 472.7l1.2 1.2l-1.2 1.2l-1.2 -1.2zM204.5 466.1l1.2 1.2l-1.2 1.2l-1.2 -1.2zM325.8 476.2l1.2 1.2l-1.2 1.2l-1.2 -1.2zM198.5 453.6l1.2 1.2l-1.2 1.2l-1.2 -1.2zM196.9 442.6l1.2 1.2l-1.2 1.2l-1.2 -1.2zM301.7 476.7l1.2 1.2l-1.2 1.2l-1.2 -1.2zM268.2 476.3l1.2 1.2l-1.2 1.2l-1.2 -1.2zM269.8 476.4l1.2 1.2l-1.2 1.2l-1.2 -1.2zM199.9 456.4l1.2 1.2l-1.2 1.2l-1.2 -1.2zM253.9 476.1l1.2 1.2l-1.2 1.2l-1.2 -1.2zM274.8 476.4l1.2 1.2l-1.2 1.2l-1.2 -1.2zM239.2 474.8l1.2 1.2l-1.2 1.2l-1.2 -1.2zM201.5 463.1l1.2 1.2l-1.2 1.2l-1.2 -1.2zM302.1 475.9l1.2 1.2l-1.2 1.2l-1.2 -1.2zM222.0 473.3l1.2 1.2l-1.2 1.2l-1.2 -1.2zM207.4 467.3l1.2 1.2l-1.2 1.2l-1.2 -1.2zM261.9 475.2l1.2 1.2l-1.2 1.2l-1.2 -1.2zM228.0 474.4l1.2 1.2l-1.2 1.2l-1.2 -1.2zM308.0 475.9l1.2 1.2l-1.2 1.2l-1.2 -1.2zM249.9 475.7l1.2 1.2l-1.2 1.2l-1.2 -1.2zM197.4 446.1l1.2 1.2l-1.2 1.2l-1.2 -1.2zM229.2 474.8l1.2 1.2l-1.2 1.2l-1.2 -1.2zM215.2 472.3l1.2 1.2l-1.2 1.2l-1.2 -1.2zM201.1 456.8l1.2 1.2l-1.2 1.2l-1.2 -1.2zM261.4 475.6l1.2 1.2l-1.2 1.2l-1.2 -1.2zM231.3 474.5l1.2 1.2l-1.2 1.2l-1.2 -1.2zM219.9 471.7l1.2 1.2l-1.2 1.2l-1.2 -1.2zM230.0 475.1l1.2 1.2l-1.2 1.2l-1.2 -1.2zM294.9 475.7l1.2 1.2l-1.2 1.2l-1.2 -1.2zM199.0 443.7l1.2 1.2l-1.2 1.2l-1.2 -1.2zM281.1 475.5l1.2 1.2l-1.2 1.2l-1.2 -1.2zM232.9 475.6l1.2 1.2l-1.2 1.2l-1.2 -1.2zM267.8 475.8l1.2 1.2l-1.2 1.2l-1.2 -1.2zM300.2 476.1l1.2 1.2l-1.2 1.2l-1.2 -1.2zM248.5 476.3l1.2 1.2l-1.2 1.2l-1.2 -1.2zM220.1 472.7l1.2 1.2l-1.2 1.2l-1.2 -1.2zM246.6 474.7l1.2 1.2l-1.2 1.2l-1.2 -1.2zM199.9 462.0l1.2 1.2l-1.2 1.2l-1.2 -1.2zM198.4 448.9l1.2 1.2l-1.2 1.2l-1.2 -1.2zM248.9 475.2l1.2 1.2l-1.2 1.2l-1.2 -1.2zM226.2 473.6l1.2 1.2l-1.2 1.2l-1.2 -1.2zM203.6 462.5l1.2 1.2l-1.2 1.2l-1.2 -1.2zM245.9 475.5l1.2 1.2l-1.2 1.2l-1.2 -1.2zM330.1 475.6l1.2 1.2l-1.2 1.2l-1.2 -1.2zM199.8 446.6l1.2 1.2l-1.2 1.2l-1.2 -1.2zM274.2 475.1l1.2 1.2l-1.2 1.2l-1.2 -1.2zM256.0 475.4l1.2 1.2l-1.2 1.2l-1.2 -1.2zM238.6 474.9l1.2 1.2l-1.2 1.2l-1.2 -1.2zM206.3 471.0l1.2 1.2l-1.2 1.2l-1.2 -1.2zM297.0 476.7l1.2 1.2l-1.2 1.2l-1.2 -1.2zM269.5 475.3l1.2 1.2l-1.2 1.2l-1.2 -1.2zM209.9 470.6l1.2 1.2l-1.2 1.2l-1.2 -1.2zM205.9 469.1l1.2 1.2l-1.2 1.2l-1.2 -1.2zM239.4 474.6l1.2 1.2l-1.2 1.2l-1.2 -1.2zM273.7 475.5l1.2 1.2l-1.2 1.2l-1.2 -1.2zM237.4 474.2l1.2 1.2l-1.2 1.2l-1.2 -1.2zM275.1 476.2l1.2 1.2l-1.2 1.2l-1.2 -1.2zM272.3 476.5l1.2 1.2l-1.2 1.2l-1.2 -1.2zM256.3 476.1l1.2 1.2l-1.2 1.2l-1.2 -1.2zM272.0 475.4l1.2 1.2l-1.2 1.2l-1.2 -1.2zM201.4 460.4l1.2 1.2l-1.2 1.2l-1.2 -1.2zM212.5 471.7l1.2 1.2l-1.2 1.2l-1.2 -1.2zM197.4 445.0l1.2 1.2l-1.2 1.2l-1.2 -1.2zM199.6 442.5l1.2 1.2l-1.2 1.2l-1.2 -1.2zM200.7 459.2l1.2 1.2l-1.2 1.2l-1.2 -1.2zM339.5 476.2l1.2 1.2l-1.2 1.2l-1.2 -1.2zM247.9 475.4l1.2 1.2l-1.2 1.2l-1.2 -1.2zM274.1 476.7l1.2 1.2l-1.2 1.2l-1.2 -1.2zM200.9 453.4l1.2 1.2l-1.2 1.2l-1.2 -1.2zM278.2 475.9l1.2 1.2l-1.2 1.2l-1.2 -1.2zM239.5 474.9l1.2 1.2l-1.2 1.2l-1.2 -1.2zM268.3 475.5l1.2 1.2l-1.2 1.2l-1.2 -1.2zM200.1 453.3l1.2 1.2l-1.2 1.2l-1.2 -1.2zM201.1 460.3l1.2 1.2l-1.2 1.2l-1.2 -1.2zM241.1 474.7l1.2 1.2l-1.2 1.2l-1.2 -1.2zM303.3 476.0l1.2 1.2l-1.2 1.2l-1.2 -1.2zM203.1 465.2l1.2 1.2l-1.2 1.2l-1.2 -1.2zM201.8 458.6l1.2 1.2l-1.2 1.2l-1.2 -1.2zM203.7 463.9l1.2 1.2l-1.2 1.2l-1.2 -1.2zM259.9 476.0l1.2 1.2l-1.2 1.2l-1.2 -1.2zM243.3 475.0l1.2 1.2l-1.2 1.2l-1.2 -1.2zM245.1 475.1l1.2 1.2l-1.2 1.2l-1.2 -1.2zM270.9 475.9l1.2 1.2l-1.2 1.2l-1.2 -1.2zM201.4 456.8l1.2 1.2l-1.2 1.2l-1.2 -1.2zM250.5 475.6l1.2 1.2l-1.2 1.2l-1.2 -1.2zM198.5 456.9l1.2 1.2l-1.2 1.2l-1.2 -1.2zM244.2 475.1l1.2 1.2l-1.2 1.2l-1.2 -1.2zM197.3 441.5l1.2 1.2l-1.2 1.2l-1.2 -1.2zM196.7 452.7l1.2 1.2l-1.2 1.2l-1.2 -1.2zM263.4 477.0l1.2 1.2l-1.2 1.2l-1.2 -1.2zM204.3 464.5l1.2 1.2l-1.2 1.2l-1.2 -1.2zM290.9 476.0l1.2 1.2l-1.2 1.2l-1.2 -1.2zM293.3 476.7l1.2 1.2l-1.2 1.2l-1.2 -1.2zM204.6 461.6l1.2 1.2l-1.2 1.2l-1.2 -1.2zM227.9 474.3l1.2 1.2l-1.2 1.2l-1.2 -1.2zM314.5 477.5l1.2 1.2l-1.2 1.2l-1.2 -1.2zM197.9 449.8l1.2 1.2l-1.2 1.2l-1.2 -1.2zM284.1 476.9l1.2 1.2l-1.2 1.2l-1.2 -1.2zM276.0 475.6l1.2 1.2l-1.2 1.2l-1.2 -1.2zM308.8 477.2l1.2 1.2l-1.2 1.2l-1.2 -1.2zM201.0 448.4l1.2 1.2l-1.2 1.2l-1.2 -1.2zM201.4 461.5l1.2 1.2l-1.2 1.2l-1.2 -1.2zM202.7 462.6l1.2 1.2l-1.2 1.2l-1.2 -1.2zM200.3 458.3l1.2 1.2l-1.2 1.2l-1.2 -1.2zM310.3 476.9l1.2 1.2l-1.2 1.2l-1.2 -1.2zM227.0 474.7l1.2 1.2l-1.2 1.2l-1.2 -1.2zM220.9 474.5l1.2 1.2l-1.2 1.2l-1.2 -1.2zM199.7 452.1l1.2 1.2l-1.2 1.2l-1.2 -1.2zM215.2 473.3l1.2 1.2l-1.2 1.2l-1.2 -1.2zM202.8 463.5l1.2 1.2l-1.2 1.2l-1.2 -1.2zM293.7 476.0l1.2 1.2l-1.2 1.2l-1.2 -1.2zM223.4 472.4l1.2 1.2l-1.2 1.2l-1.2 -1.2zM197.8 450.8l1.2 1.2l-1.2 1.2l-1.2 -1.2zM197.9 442.5l1.2 1.2l-1.2 1.2l-1.2 -1.2zM213.0 473.1l1.2 1.2l-1.2 1.2l-1.2 -1.2zM198.0 440.9l1.2 1.2l-1.2 1.2l-1.2 -1.2zM220.0 474.7l1.2 1.2l-1.2 1.2l-1.2 -1.2zM322.9 477.4l1.2 1.2l-1.2 1.2l-1.2 -1.2zM200.1 459.9l1.2 1.2l-1.2 1.2l-1.2 -1.2zM220.6 475.2l1.2 1.2l-1.2 1.2l-1.2 -1.2zM250.0 474.7l1.2 1.2l-1.2 1.2l-1.2 -1.2zM255.3 474.6l1.2 1.2l-1.2 1.2l-1.2 -1.2zM214.0 472.4l1.2 1.2l-1.2 1.2l-1.2 -1.2zM198.7 453.8l1.2 1.2l-1.2 1.2l-1.2 -1.2zM276.8 475.5l1.2 1.2l-1.2 1.2l-1.2 -1.2zM295.4 476.5l1.2 1.2l-1.2 1.2l-1.2 -1.2zM203.4 456.3l1.2 1.2l-1.2 1.2l-1.2 -1.2zM204.8 465.1l1.2 1.2l-1.2 1.2l-1.2 -1.2zM308.4 476.0l1.2 1.2l-1.2 1.2l-1.2 -1.2zM204.0 466.2l1.2 1.2l-1.2 1.2l-1.2 -1.2zM246.0 474.2l1.2 1.2l-1.2 1.2l-1.2 -1.2zM292.1 476.7l1.2 1.2l-1.2 1.2l-1.2 -1.2zM263.1 476.2l1.2 1.2l-1.2 1.2l-1.2 -1.2zM228.4 474.5l1.2 1.2l-1.2 1.2l-1.2 -1.2zM220.6 474.7l1.2 1.2l-1.2 1.2l-1.2 -1.2zM281.2 476.2l1.2 1.2l-1.2 1.2l-1.2 -1.2zM309.0 476.8l1.2 1.2l-1.2 1.2l-1.2 -1.2zM285.1 476.0l1.2 1.2l-1.2 1.2l-1.2 -1.2zM208.0 466.0l1.2 1.2l-1.2 1.2l-1.2 -1.2zM290.4 475.0l1.2 1.2l-1.2 1.2l-1.2 -1.2zM226.4 474.4l1.2 1.2l-1.2 1.2l-1.2 -1.2zM202.0 459.4l1.2 1.2l-1.2 1.2l-1.2 -1.2zM228.6 473.2l1.2 1.2l-1.2 1.2l-1.2 -1.2zM240.8 474.2l1.2 1.2l-1.2 1.2l-1.2 -1.2zM279.4 475.6l1.2 1.2l-1.2 1.2l-1.2 -1.2zM243.7 474.1l1.2 1.2l-1.2 1.2l-1.2 -1.2zM287.0 476.5l1.2 1.2l-1.2 1.2l-1.2 -1.2zM199.2 454.8l1.2 1.2l-1.2 1.2l-1.2 -1.2zM273.3 476.2l1.2 1.2l-1.2 1.2l-1.2 -1.2zM265.7 474.9l1.2 1.2l-1.2 1.2l-1.2 -1.2zM198.1 441.8l1.2 1.2l-1.2 1.2l-1.2 -1.2zM266.5 476.0l1.2 1.2l-1.2 1.2l-1.2 -1.2zM316.2 475.9l1.2 1.2l-1.2 1.2l-1.2 -1.2zM200.2 452.3l1.2 1.2l-1.2 1.2l-1.2 -1.2zM200.0 445.0l1.2 1.2l-1.2 1.2l-1.2 -1.2zM218.6 472.6l1.2 1.2l-1.2 1.2l-1.2 -1.2zM199.8 463.5l1.2 1.2l-1.2 1.2l-1.2 -1.2zM204.5 467.3l1.2 1.2l-1.2 1.2l-1.2 -1.2zM203.7 463.8l1.2 1.2l-1.2 1.2l-1.2 -1.2zM249.4 474.6l1.2 1.2l-1.2 1.2l-1.2 -1.2zM199.9 446.5l1.2 1.2l-1.2 1.2l-1.2 -1.2zM254.5 475.1l1.2 1.2l-1.2 1.2l-1.2 -1.2zM248.1 474.6l1.2 1.2l-1.2 1.2l-1.2 -1.2zM215.7 473.1l1.2 1.2l-1.2 1.2l-1.2 -1.2zM238.6 474.0l1.2 1.2l-1.2 1.2l-1.2 -1.2zM248.1 474.8l1.2 1.2l-1.2 1.2l-1.2 -1.2zM201.5 457.9l1.2 1.2l-1.2 1.2l-1.2 -1.2zM204.6 466.9l1.2 1.2l-1.2 1.2l-1.2 -1.2zM230.4 473.9l1.2 1.2l-1.2 1.2l-1.2 -1.2zM245.5 475.6l1.2 1.2l-1.2 1.2l-1.2 -1.2zM243.4 474.6l1.2 1.2l-1.2 1.2l-1.2 -1.2zM223.3 473.5l1.2 1.2l-1.2 1.2l-1.2 -1.2zM237.3 474.8l1.2 1.2l-1.2 1.2l-1.2 -1.2zM317.9 476.0l1.2 1.2l-1.2 1.2l-1.2 -1.2zM220.0 475.2l1.2 1.2l-1.2 1.2l-1.2 -1.2zM269.3 475.4l1.2 1.2l-1.2 1.2l-1.2 -1.2zM255.1 475.1l1.2 1.2l-1.2 1.2l-1.2 -1.2zM283.6 475.6l1.2 1.2l-1.2 1.2l-1.2 -1.2zM199.0 448.3l1.2 1.2l-1.2 1.2l-1.2 -1.2zM213.1 472.3l1.2 1.2l-1.2 1.2l-1.2 -1.2zM196.7 451.0l1.2 1.2l-1.2 1.2l-1.2 -1.2zM201.7 466.4l1.2 1.2l-1.2 1.2l-1.2 -1.2zM214.9 471.5l1.2 1.2l-1.2 1.2l-1.2 -1.2zM211.3 471.7l1.2 1.2l-1.2 1.2l-1.2 -1.2zM225.1 474.8l1.2 1.2l-1.2 1.2l-1.2 -1.2zM219.2 471.0l1.2 1.2l-1.2 1.2l-1.2 -1.2zM278.2 476.4l1.2 1.2l-1.2 1.2l-1.2 -1.2zM234.6 475.1l1.2 1.2l-1.2 1.2l-1.2 -1.2zM202.7 461.8l1.2 1.2l-1.2 1.2l-1.2 -1.2zM228.2 473.4l1.2 1.2l-1.2 1.2l-1.2 -1.2zM209.0 471.0l1.2 1.2l-1.2 1.2l-1.2 -1.2zM218.1 472.7l1.2 1.2l-1.2 1.2l-1.2 -1.2zM200.2 441.6l1.2 1.2l-1.2 1.2l-1.2 -1.2zM208.7 468.3l1.2 1.2l-1.2 1.2l-1.2 -1.2zM259.3 476.3l1.2 1.2l-1.2 1.2l-1.2 -1.2zM209.1 469.2l1.2 1.2l-1.2 1.2l-1.2 -1.2zM246.6 474.4l1.2 1.2l-1.2 1.2l-1.2 -1.2zM204.8 458.8l1.2 1.2l-1.2 1.2l-1.2 -1.2zM234.0 473.4l1.2 1.2l-1.2 1.2l-1.2 -1.2zM277.8 476.4l1.2 1.2l-1.2 1.2l-1.2 -1.2zM224.9 474.4l1.2 1.2l-1.2 1.2l-1.2 -1.2zM200.9 459.8l1.2 1.2l-1.2 1.2l-1.2 -1.2zM203.2 457.5l1.2 1.2l-1.2 1.2l-1.2 -1.2zM199.6 445.2l1.2 1.2l-1.2 1.2l-1.2 -1.2zM202.1 449.2l1.2 1.2l-1.2 1.2l-1.2 -1.2zM223.0 473.3l1.2 1.2l-1.2 1.2l-1.2 -1.2zM226.7 474.2l1.2 1.2l-1.2 1.2l-1.2 -1.2zM200.8 441.1l1.2 1.2l-1.2 1.2l-1.2 -1.2zM203.6 466.1l1.2 1.2l-1.2 1.2l-1.2 -1.2zM280.3 475.6l1.2 1.2l-1.2 1.2l-1.2 -1.2zM247.9 474.9l1.2 1.2l-1.2 1.2l-1.2 -1.2zM285.9 476.0l1.2 1.2l-1.2 1.2l-1.2 -1.2zM290.1 475.4l1.2 1.2l-1.2 1.2l-1.2 -1.2zM254.3 474.9l1.2 1.2l-1.2 1.2l-1.2 -1.2zM224.2 475.7l1.2 1.2l-1.2 1.2l-1.2 -1.2zM197.2 444.1l1.2 1.2l-1.2 1.2l-1.2 -1.2zM214.8 474.2l1.2 1.2l-1.2 1.2l-1.2 -1.2zM200.9 459.2l1.2 1.2l-1.2 1.2l-1.2 -1.2zM250.7 474.7l1.2 1.2l-1.2 1.2l-1.2 -1.2zM233.7 474.1l1.2 1.2l-1.2 1.2l-1.2 -1.2zM258.6 475.3l1.2 1.2l-1.2 1.2l-1.2 -1.2zM227.7 473.9l1.2 1.2l-1.2 1.2l-1.2 -1.2zM195.9 445.6l1.2 1.2l-1.2 1.2l-1.2 -1.2zM213.3 470.9l1.2 1.2l-1.2 1.2l-1.2 -1.2zM278.9 476.5l1.2 1.2l-1.2 1.2l-1.2 -1.2zM203.0 452.5l1.2 1.2l-1.2 1.2l-1.2 -1.2zM333.2 475.9l1.2 1.2l-1.2 1.2l-1.2 -1.2zM257.8 475.9l1.2 1.2l-1.2 1.2l-1.2 -1.2zM200.1 460.3l1.2 1.2l-1.2 1.2l-1.2 -1.2zM217.5 473.5l1.2 1.2l-1.2 1.2l-1.2 -1.2zM277.6 477.2l1.2 1.2l-1.2 1.2l-1.2 -1.2zM228.2 475.4l1.2 1.2l-1.2 1.2l-1.2 -1.2zM291.1 475.7l1.2 1.2l-1.2 1.2l-1.2 -1.2zM255.0 474.9l1.2 1.2l-1.2 1.2l-1.2 -1.2zM273.9 475.8l1.2 1.2l-1.2 1.2l-1.2 -1.2zM270.7 476.3l1.2 1.2l-1.2 1.2l-1.2 -1.2zM236.0 476.6l1.2 1.2l-1.2 1.2l-1.2 -1.2zM196.8 443.7l1.2 1.2l-1.2 1.2l-1.2 -1.2zM238.6 474.8l1.2 1.2l-1.2 1.2l-1.2 -1.2zM216.5 474.3l1.2 1.2l-1.2 1.2l-1.2 -1.2zM269.1 475.6l1.2 1.2l-1.2 1.2l-1.2 -1.2zM201.1 465.7l1.2 1.2l-1.2 1.2l-1.2 -1.2zM299.8 476.6l1.2 1.2l-1.2 1.2l-1.2 -1.2zM213.6 471.2l1.2 1.2l-1.2 1.2l-1.2 -1.2zM207.3 469.6l1.2 1.2l-1.2 1.2l-1.2 -1.2zM299.2 475.9l1.2 1.2l-1.2 1.2l-1.2 -1.2zM256.5 476.3l1.2 1.2l-1.2 1.2l-1.2 -1.2zM201.6 463.6l1.2 1.2l-1.2 1.2l-1.2 -1.2zM239.6 474.0l1.2 1.2l-1.2 1.2l-1.2 -1.2zM209.6 469.2l1.2 1.2l-1.2 1.2l-1.2 -1.2zM196.9 446.5l1.2 1.2l-1.2 1.2l-1.2 -1.2zM201.6 453.5l1.2 1.2l-1.2 1.2l-1.2 -1.2zM211.0 473.0l1.2 1.2l-1.2 1.2l-1.2 -1.2zM322.5 475.3l1.2 1.2l-1.2 1.2l-1.2 -1.2zM201.9 442.7l1.2 1.2l-1.2 1.2l-1.2 -1.2zM234.3 475.5l1.2 1.2l-1.2 1.2l-1.2 -1.2zM237.2 474.4l1.2 1.2l-1.2 1.2l-1.2 -1.2zM306.9 476.8l1.2 1.2l-1.2 1.2l-1.2 -1.2zM218.5 473.3l1.2 1.2l-1.2 1.2l-1.2 -1.2zM199.4 450.7l1.2 1.2l-1.2 1.2l-1.2 -1.2zM200.1 457.1l1.2 1.2l-1.2 1.2l-1.2 -1.2zM198.2 462.1l1.2 1.2l-1.2 1.2l-1.2 -1.2zM301.4 476.6l1.2 1.2l-1.2 1.2l-1.2 -1.2zM199.4 442.7l1.2 1.2l-1.2 1.2l-1.2 -1.2zM250.7 474.7l1.2 1.2l-1.2 1.2l-1.2 -1.2zM198.5 454.7l1.2 1.2l-1.2 1.2l-1.2 -1.2zM303.5 476.6l1.2 1.2l-1.2 1.2l-1.2 -1.2zM197.9 445.5l1.2 1.2l-1.2 1.2l-1.2 -1.2zM227.1 474.8l1.2 1.2l-1.2 1.2l-1.2 -1.2zM216.8 473.7l1.2 1.2l-1.2 1.2l-1.2 -1.2zM196.2 453.4l1.2 1.2l-1.2 1.2l-1.2 -1.2zM204.6 468.2l1.2 1.2l-1.2 1.2l-1.2 -1.2zM198.0 451.5l1.2 1.2l-1.2 1.2l-1.2 -1.2zM258.1 475.3l1.2 1.2l-1.2 1.2l-1.2 -1.2zM270.8 475.9l1.2 1.2l-1.2 1.2l-1.2 -1.2zM294.1 475.9l1.2 1.2l-1.2 1.2l-1.2 -1.2zM286.6 476.3l1.2 1.2l-1.2 1.2l-1.2 -1.2zM328.3 475.9l1.2 1.2l-1.2 1.2l-1.2 -1.2zM254.0 474.2l1.2 1.2l-1.2 1.2l-1.2 -1.2zM241.6 474.9l1.2 1.2l-1.2 1.2l-1.2 -1.2zM326.3 477.3l1.2 1.2l-1.2 1.2l-1.2 -1.2zM234.2 474.8l1.2 1.2l-1.2 1.2l-1.2 -1.2zM229.5 474.7l1.2 1.2l-1.2 1.2l-1.2 -1.2zM254.8 475.5l1.2 1.2l-1.2 1.2l-1.2 -1.2zM203.3 465.1l1.2 1.2l-1.2 1.2l-1.2 -1.2zM264.0 475.4l1.2 1.2l-1.2 1.2l-1.2 -1.2zM260.5 475.0l1.2 1.2l-1.2 1.2l-1.2 -1.2zM220.0 473.5l1.2 1.2l-1.2 1.2l-1.2 -1.2zM219.0 474.3l1.2 1.2l-1.2 1.2l-1.2 -1.2zM216.5 471.9l1.2 1.2l-1.2 1.2l-1.2 -1.2zM247.9 476.0l1.2 1.2l-1.2 1.2l-1.2 -1.2zM215.5 472.1l1.2 1.2l-1.2 1.2l-1.2 -1.2zM213.3 470.7l1.2 1.2l-1.2 1.2l-1.2 -1.2zM231.6 474.5l1.2 1.2l-1.2 1.2l-1.2 -1.2zM278.4 477.1l1.2 1.2l-1.2 1.2l-1.2 -1.2zM213.3 470.2l1.2 1.2l-1.2 1.2l-1.2 -1.2zM264.1 474.8l1.2 1.2l-1.2 1.2l-1.2 -1.2zM223.5 475.3l1.2 1.2l-1.2 1.2l-1.2 -1.2zM207.7 467.7l1.2 1.2l-1.2 1.2l-1.2 -1.2zM255.4 475.4l1.2 1.2l-1.2 1.2l-1.2 -1.2zM198.9 452.8l1.2 1.2l-1.2 1.2l-1.2 -1.2zM229.3 475.1l1.2 1.2l-1.2 1.2l-1.2 -1.2zM257.2 476.1l1.2 1.2l-1.2 1.2l-1.2 -1.2zM198.1 460.2l1.2 1.2l-1.2 1.2l-1.2 -1.2zM241.8 475.4l1.2 1.2l-1.2 1.2l-1.2 -1.2zM201.1 456.4l1.2 1.2l-1.2 1.2l-1.2 -1.2zM265.8 477.2l1.2 1.2l-1.2 1.2l-1.2 -1.2zM196.2 450.9l1.2 1.2l-1.2 1.2l-1.2 -1.2zM206.1 465.7l1.2 1.2l-1.2 1.2l-1.2 -1.2zM278.3 475.2l1.2 1.2l-1.2 1.2l-1.2 -1.2zM285.1 475.9l1.2 1.2l-1.2 1.2l-1.2 -1.2zM213.1 473.3l1.2 1.2l-1.2 1.2l-1.2 -1.2zM277.4 476.6l1.2 1.2l-1.2 1.2l-1.2 -1.2zM247.0 475.6l1.2 1.2l-1.2 1.2l-1.2 -1.2zM247.7 475.4l1.2 1.2l-1.2 1.2l-1.2 -1.2zM241.7 475.2l1.2 1.2l-1.2 1.2l-1.2 -1.2zM201.5 459.1l1.2 1.2l-1.2 1.2l-1.2 -1.2zM299.5 474.6l1.2 1.2l-1.2 1.2l-1.2 -1.2zM295.6 476.5l1.2 1.2l-1.2 1.2l-1.2 -1.2zM278.6 475.8l1.2 1.2l-1.2 1.2l-1.2 -1.2zM199.4 443.1l1.2 1.2l-1.2 1.2l-1.2 -1.2zM225.8 473.9l1.2 1.2l-1.2 1.2l-1.2 -1.2zM303.4 476.8l1.2 1.2l-1.2 1.2l-1.2 -1.2zM308.6 476.6l1.2 1.2l-1.2 1.2l-1.2 -1.2zM203.8 466.0l1.2 1.2l-1.2 1.2l-1.2 -1.2zM200.4 455.9l1.2 1.2l-1.2 1.2l-1.2 -1.2zM305.2 475.2l1.2 1.2l-1.2 1.2l-1.2 -1.2zM199.2 444.7l1.2 1.2l-1.2 1.2l-1.2 -1.2zM207.6 469.1l1.2 1.2l-1.2 1.2l-1.2 -1.2zM206.0 466.8l1.2 1.2l-1.2 1.2l-1.2 -1.2zM332.3 476.7l1.2 1.2l-1.2 1.2l-1.2 -1.2zM202.7 459.8l1.2 1.2l-1.2 1.2l-1.2 -1.2zM310.4 476.6l1.2 1.2l-1.2 1.2l-1.2 -1.2zM201.5 460.6l1.2 1.2l-1.2 1.2l-1.2 -1.2zM294.3 477.0l1.2 1.2l-1.2 1.2l-1.2 -1.2zM199.0 451.3l1.2 1.2l-1.2 1.2l-1.2 -1.2zM253.2 475.4l1.2 1.2l-1.2 1.2l-1.2 -1.2zM198.6 456.9l1.2 1.2l-1.2 1.2l-1.2 -1.2zM235.6 475.2l1.2 1.2l-1.2 1.2l-1.2 -1.2zM198.2 455.8l1.2 1.2l-1.2 1.2l-1.2 -1.2zM197.0 441.5l1.2 1.2l-1.2 1.2l-1.2 -1.2zM254.1 475.8l1.2 1.2l-1.2 1.2l-1.2 -1.2zM282.8 475.5l1.2 1.2l-1.2 1.2l-1.2 -1.2zM245.3 475.3l1.2 1.2l-1.2 1.2l-1.2 -1.2zM330.5 475.9l1.2 1.2l-1.2 1.2l-1.2 -1.2zM198.1 443.9l1.2 1.2l-1.2 1.2l-1.2 -1.2zM202.2 457.6l1.2 1.2l-1.2 1.2l-1.2 -1.2zM207.9 467.9l1.2 1.2l-1.2 1.2l-1.2 -1.2zM250.3 475.9l1.2 1.2l-1.2 1.2l-1.2 -1.2zM198.2 441.5l1.2 1.2l-1.2 1.2l-1.2 -1.2zM286.7 476.4l1.2 1.2l-1.2 1.2l-1.2 -1.2zM313.7 476.4l1.2 1.2l-1.2 1.2l-1.2 -1.2zM274.5 474.6l1.2 1.2l-1.2 1.2l-1.2 -1.2zM198.9 444.3l1.2 1.2l-1.2 1.2l-1.2 -1.2zM218.9 473.5l1.2 1.2l-1.2 1.2l-1.2 -1.2zM230.3 474.4l1.2 1.2l-1.2 1.2l-1.2 -1.2zM279.8 476.3l1.2 1.2l-1.2 1.2l-1.2 -1.2zM263.1 475.9l1.2 1.2l-1.2 1.2l-1.2 -1.2zM235.3 474.4l1.2 1.2l-1.2 1.2l-1.2 -1.2zM198.1 446.2l1.2 1.2l-1.2 1.2l-1.2 -1.2zM211.8 471.1l1.2 1.2l-1.2 1.2l-1.2 -1.2zM202.6 465.0l1.2 1.2l-1.2 1.2l-1.2 -1.2zM222.3 474.0l1.2 1.2l-1.2 1.2l-1.2 -1.2zM236.1 474.7l1.2 1.2l-1.2 1.2l-1.2 -1.2zM250.7 474.7l1.2 1.2l-1.2 1.2l-1.2 -1.2zM231.2 475.1l1.2 1.2l-1.2 1.2l-1.2 -1.2zM206.5 469.8l1.2 1.2l-1.2 1.2l-1.2 -1.2zM198.0 443.8l1.2 1.2l-1.2 1.2l-1.2 -1.2zM315.1 476.9l1.2 1.2l-1.2 1.2l-1.2 -1.2zM207.0 469.1l1.2 1.2l-1.2 1.2l-1.2 -1.2zM206.2 468.8l1.2 1.2l-1.2 1.2l-1.2 -1.2zM310.3 476.5l1.2 1.2l-1.2 1.2l-1.2 -1.2zM200.2 444.9l1.2 1.2l-1.2 1.2l-1.2 -1.2zM201.6 454.3l1.2 1.2l-1.2 1.2l-1.2 -1.2zM236.1 473.7l1.2 1.2l-1.2 1.2l-1.2 -1.2zM225.1 473.9l1.2 1.2l-1.2 1.2l-1.2 -1.2zM200.2 458.5l1.2 1.2l-1.2 1.2l-1.2 -1.2zM246.4 475.0l1.2 1.2l-1.2 1.2l-1.2 -1.2zM200.2 460.2l1.2 1.2l-1.2 1.2l-1.2 -1.2zM199.7 356.6l1.2 1.2l-1.2 1.2l-1.2 -1.2zM199.7 369.4l1.2 1.2l-1.2 1.2l-1.2 -1.2zM203.1 380.8l1.2 1.2l-1.2 1.2l-1.2 -1.2zM203.1 396.2l1.2 1.2l-1.2 1.2l-1.2 -1.2zM198.1 400.6l1.2 1.2l-1.2 1.2l-1.2 -1.2zM196.5 409.4l1.2 1.2l-1.2 1.2l-1.2 -1.2zM200.5 409.4l1.2 1.2l-1.2 1.2l-1.2 -1.2zM196.5 414.4l1.2 1.2l-1.2 1.2l-1.2 -1.2zM197.0 418.8l1.2 1.2l-1.2 1.2l-1.2 -1.2zM199.0 421.8l1.2 1.2l-1.2 1.2l-1.2 -1.2zM202.0 424.8l1.2 1.2l-1.2 1.2l-1.2 -1.2zM196.0 426.8l1.2 1.2l-1.2 1.2l-1.2 -1.2zM204.0 429.8l1.2 1.2l-1.2 1.2l-1.2 -1.2zM198.0 430.8l1.2 1.2l-1.2 1.2l-1.2 -1.2zM201.0 432.8l1.2 1.2l-1.2 1.2l-1.2 -1.2zM197.0 434.8l1.2 1.2l-1.2 1.2l-1.2 -1.2zM205.0 435.8l1.2 1.2l-1.2 1.2l-1.2 -1.2zM199.0 436.8l1.2 1.2l-1.2 1.2l-1.2 -1.2zM203.0 438.8l1.2 1.2l-1.2 1.2l-1.2 -1.2zM206.0 441.8l1.2 1.2l-1.2 1.2l-1.2 -1.2zM208.0 443.8l1.2 1.2l-1.2 1.2l-1.2 -1.2zM200.0 439.8l1.2 1.2l-1.2 1.2l-1.2 -1.2zM209.0 451.2l1.2 1.2l-1.2 1.2l-1.2 -1.2zM211.0 457.8l1.2 1.2l-1.2 1.2l-1.2 -1.2z" fill="#000"/><line x1="2.1" y1="511.7" x2="21.3" y2="511.7" stroke="#26173f" stroke-width="1.8" stroke-dasharray="3.2 2.2"/><circle cx="11.6" cy="511.7" r="3.32" fill="#6a4ca8" stroke="#2a1850" stroke-width="1.22"/><text x="23.0" y="515.6" font-size="11" font-weight="bold" font-style="normal" text-anchor="start" fill="#000" stroke="#000" stroke-width="0.2" textLength="76.1" lengthAdjust="spacingAndGlyphs">Ring networks</text><line x1="102.9" y1="511.7" x2="122.1" y2="511.7" stroke="#1c3567" stroke-width="1.8" stroke-dasharray="3.2 2.2"/><path d="M112.4 508.3L115.3 514.4L109.5 514.4Z" fill="#2f62b0" stroke="#1c3567" stroke-width="0.78"/><text x="123.7" y="515.6" font-size="11" font-weight="bold" font-style="normal" text-anchor="start" fill="#000" stroke="#000" stroke-width="0.2" textLength="94.5" lengthAdjust="spacingAndGlyphs">Random networks</text><line x1="223.7" y1="511.7" x2="242.9" y2="511.7" stroke="#4b6820" stroke-width="1.8" stroke-dasharray="3.2 2.2"/><path d="M233.0 508.7L236.0 511.7L233.0 514.7L230.0 511.7Z" fill="#74a035" stroke="#4b6820" stroke-width="0.75"/><text x="244.7" y="515.6" font-size="11" font-weight="bold" font-style="normal" text-anchor="start" fill="#000" stroke="#000" stroke-width="0.2" textLength="103.0" lengthAdjust="spacingAndGlyphs">Scale-free networks</text><line x1="352.7" y1="511.7" x2="371.9" y2="511.7" stroke="#601010" stroke-width="1.8" stroke-dasharray="3.2 2.2"/><rect x="358.4" y="508.4" width="6.7" height="6.7" fill="#a62828" stroke="#6a1212" stroke-width="0.93"/><text x="373.0" y="515.6" font-size="11" font-weight="bold" font-style="normal" text-anchor="start" fill="#000" stroke="#000" stroke-width="0.2" textLength="73.0" lengthAdjust="spacingAndGlyphs">Star networks</text><path d="M460 507.8L463.6 511.4L460 515L456.4 511.4Z" fill="#000"/><text x="471.7" y="515.6" font-size="11" font-weight="bold" font-style="normal" text-anchor="start" fill="#000" stroke="#000" stroke-width="0.2" textLength="104.5" lengthAdjust="spacingAndGlyphs">Empirical networks</text></svg>
</body></html>
